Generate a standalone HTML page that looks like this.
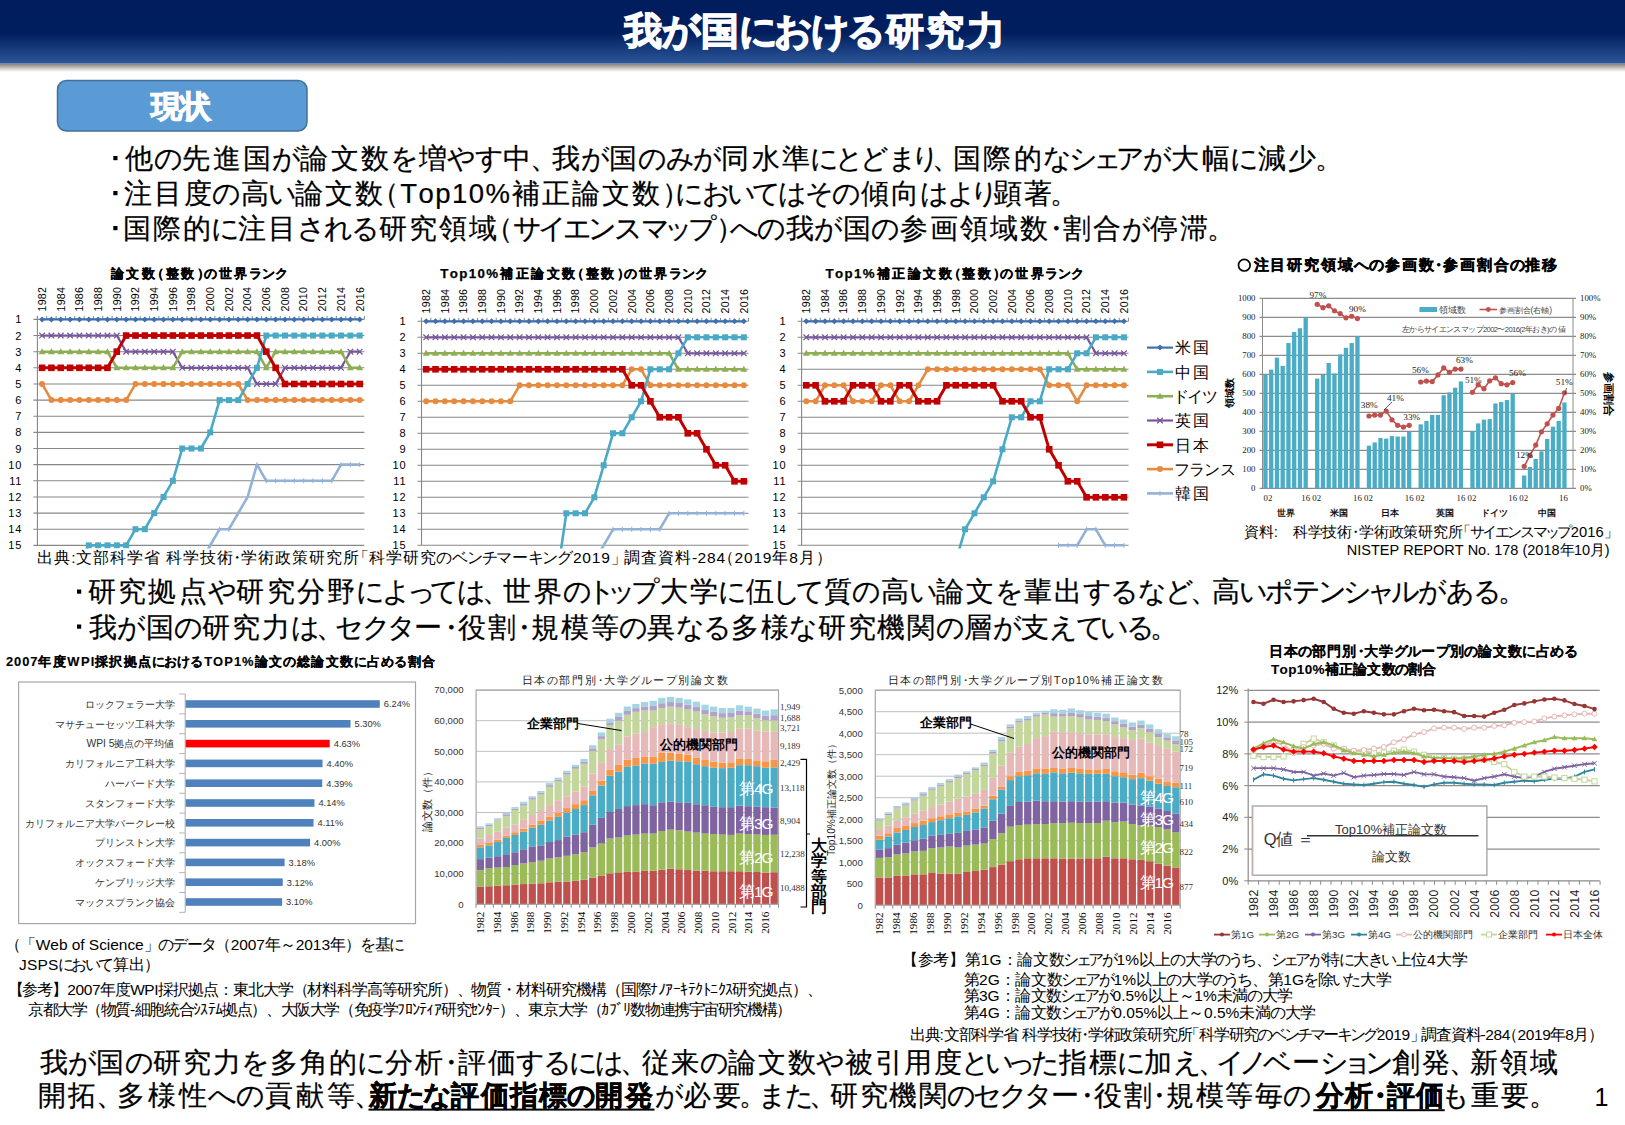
<!DOCTYPE html>
<html><head><meta charset="utf-8"><title>我が国における研究力</title>
<style>html,body{margin:0;padding:0;background:#fff;overflow:hidden}svg{display:block;font-family:'Liberation Sans', sans-serif}</style></head>
<body><svg width="1625" height="1125" viewBox="0 0 1625 1125">
<defs>
<linearGradient id="hdr" x1="0" y1="0" x2="0" y2="1">
<stop offset="0" stop-color="#001c5c"/><stop offset="0.52" stop-color="#001e5e"/><stop offset="1" stop-color="#2c579a"/>
</linearGradient>
<linearGradient id="shd" x1="0" y1="0" x2="0" y2="1">
<stop offset="0" stop-color="#7d7872"/><stop offset="0.5" stop-color="#c4c2c0"/><stop offset="1" stop-color="#ffffff"/>
</linearGradient>
<clipPath id="clipr1"><rect x="0" y="300" width="1625" height="247"/></clipPath>
</defs>
<rect x="0" y="63.5" width="1625" height="8.5" fill="url(#shd)"/>
<rect x="0" y="0" width="1625" height="63.5" fill="url(#hdr)"/>
<rect x="57.5" y="80.5" width="249.5" height="50.5" rx="9" fill="#5b9bd5" stroke="#41719c" stroke-width="1.5"/>
<rect x="113.3" y="156" width="4.2" height="4.2" fill="#000"/>
<rect x="113.3" y="191" width="4.2" height="4.2" fill="#000"/>
<rect x="113.3" y="226" width="4.2" height="4.2" fill="#000"/>
<rect x="77" y="589.5" width="4.2" height="4.2" fill="#000"/>
<rect x="77" y="624.5" width="4.2" height="4.2" fill="#000"/>
<text x="623.5 662.24 700.71 738.5 774 810.57 847.15 885.62 926.26 966.9" y="43.82" font-size="38" font-weight="bold" fill="#ffffff" stroke="#ffffff" stroke-width="1.3">我が国における研究力</text>
<text x="151 180.1" y="116.73" font-size="31.3" font-weight="bold" fill="#ffffff" stroke="#ffffff" stroke-width="1.1">現状</text>
<text x="124.7 153.62 182.25 212.55 242.84 271.76 300.39 330.68 360.98 389.89 418.53 447.45 474.71 503.35 530.34 551.82 580.73 609.37 638.29 665.55 692.81 721.45 751.74 782.03 810.26 835.05 860.33 887.59 911 931.71 953.18 983.47 1013.77 1042.68 1069.26 1092.94 1116.21 1142.65 1171.28 1201.58 1229.81 1257.62 1287.91 1314.9" y="167.95" font-size="27.5" stroke="#000" stroke-width="0.22">他の先進国が論文数を増やす中、我が国のみが同水準にとどまり、国際的なシェアが大幅に減少。</text>
<text x="123.7 153.76 183.81 212.49 240.92 268.23 295.02 325.08 355.13 371.44 400.22 418.58 435.29 452.01 468.72 485.44 512.16 542.22 572.28 602.33 632.39 662.45 675.41 701.65 727.32 752.05 778.29 805.34 832.39 860.82 890.87 919.55 946.6 969.8 993.66 1023.72 1050.48" y="202.95" font-size="27.5" stroke="#000" stroke-width="0.22">注目度の高い論文数（Top10%補正論文数）においてはその傾向はより顕著。</text>
<text x="122.7 152.68 182.65 210.57 238.11 268.08 296.68 323.66 350.64 378.99 408.97 438.95 468.92 485.15 512.51 538.11 562.78 588.26 614.43 640.72 664.14 687.87 716.22 730.11 757.41 785.77 814.37 842.72 871.32 899.67 929.65 959.63 989.6 1019.58 1041.99 1063.04 1093.02 1121.62 1149.97 1179.95 1206.62" y="238.05" font-size="27.5" stroke="#000" stroke-width="0.22">国際的に注目される研究領域（サイエンスマップ）への我が国の参画領域数・割合が停滞。</text>
<text x="87.8 118.14 148.48 178.82 207.78 236.46 266.8 297.14 327.48 355.76 382.23 406.79 430.09 456.56 481.94 503.45 533.78 562.75 586.62 607.02 631.01 659.69 690.03 718.31 746.16 772.37 795.67 823.52 852.49 881.17 908.76 935.78 966.12 995.08 1023.76 1054.1 1083.06 1110.37 1137.67 1164.98 1190.36 1211.86 1239.45 1265.1 1291.71 1317.5 1343.29 1367.02 1391 1418.31 1445.61 1472.92 1498.3" y="601.45" font-size="27.5" stroke="#000" stroke-width="0.22">研究拠点や研究分野によっては、世界のトップ大学に伍して質の高い論文を輩出するなど、高いポテンシャルがある。</text>
<text x="88.8 117.3 145.56 174.06 202.32 232.19 262.06 290.56 315.52 335.37 361.57 386.96 414.42 436.73 457.73 487.61 509.92 530.92 560.79 590.67 619.17 647.43 675.92 702.81 731.07 760.94 789.44 817.7 847.58 877.45 907.32 935.82 964.08 992.58 1020.84 1049.34 1075.54 1100.24 1125.51 1150.47" y="636.65" font-size="27.5" stroke="#000" stroke-width="0.22">我が国の研究力は、セクター・役割・規模等の異なる多様な研究機関の層が支えている。</text>
<text x="39.6 68.1 96.36 124.86 153.12 182.99 212.87 241.37 269.63 299.5 329.37 357.19 384.64 414.51 436.83 457.83 487.71 516.2 543.09 569.29 595.37 620.33 641.55 671.43 699.93 728.19 758.06 787.94 816.43 844.7 874.57 904.44 934.32 961.17 984.74 1007.27 1030.93 1059.19 1089.06 1116.87 1144.33 1172.83 1197.79 1216.26 1238.79 1263.14 1292.2 1320.02 1342.66 1364.83 1392.28 1422.15 1448.73 1469.95 1499.83 1529.7" y="1072.45" font-size="27.5" stroke="#000" stroke-width="0.22">我が国の研究力を多角的に分析・評価するには、従来の論文数や被引用度といった指標に加え、イノベーション創発、新領域</text>
<text x="110.8 126.44 142.08 151.07 165.54 181.19 196.83 203.98 218.72 234.37 248.68 261.52 274.82" y="278.11" font-size="13.3" font-weight="bold" stroke="#000" stroke-width="0.25">論文数（整数）の世界ランク</text>
<text x="440.2 449.73 459.26 468.79 477.47 486.14 500.01 515.62 531.22 546.82 562.42 571.37 585.82 601.42 617.02 624.16 638.86 654.46 668.74 681.55 694.81" y="278.11" font-size="13.3" font-weight="bold" stroke="#000" stroke-width="0.25">Top10%補正論文数（整数）の世界ランク</text>
<text x="825.6 835.1 844.6 854.09 862.74 876.57 892.12 907.67 923.22 938.76 947.66 962.09 977.64 993.19 1000.3 1014.96 1030.5 1044.72 1057.5 1070.71" y="278.11" font-size="13.3" font-weight="bold" stroke="#000" stroke-width="0.25">Top1%補正論文数（整数）の世界ランク</text>
<text x="1253.5 1270.32 1287.14 1303.96 1320.78 1337.6 1353.81 1369.13 1385.03 1401.85 1418.67 1431.29 1443.06 1459.88 1476.7 1493.52 1509.58 1525.48 1542.3" y="270.29" font-size="15.3" font-weight="bold" stroke="#000" stroke-width="0.35">注目研究領域への参画数・参画割合の推移</text>
<text x="37.2 54.2 71.21 75.93 92.93 109.93 126.94 143.94 160.94 165.67 182.67 199.67 216.67 229.41 241.33 258.33 275.33 292.33 309.34 326.34 343.34 352.59 368.85 385.85 402.85 419.85 436.08 451.77 467.15 481.6 496.05 511.67 527.51 541.96 556.8 572.88 582.33 591.79 601.24 610.7 619.2 623.92 640.93 657.93 674.93 691.93 697.6 707.05 716.51 718.21 734.47 743.92 753.38 762.83 772.29 789.29 798.75 815.75" y="563.09" font-size="15.5">出典:文部科学省 科学技術・学術政策研究所「科学研究のベンチマーキング2019」 調査資料-284（2019年8月）</text>
<text x="1244 1258.87 1273.73 1277.86 1292.73 1307.59 1322.46 1337.32 1348.14 1358.88 1373.74 1388.61 1403.47 1418.34 1433.2 1448.07 1455.58 1469.63 1482.27 1494.53 1507.17 1520.17 1533.18 1544.72 1556.59 1570.71 1578.97 1587.24 1595.51 1603.78" y="537.17" font-size="14.7">資料:　科学技術・学術政策研究所「サイエンスマップ2016」</text>
<text x="1346.8 1357.27 1361.3 1370.97 1379.83 1389.5 1399.17 1403.2 1413.67 1423.34 1433.01 1444.29 1454.76 1463.62 1467.65 1478.12 1486.19 1490.21 1494.24 1502.31 1510.37 1518.44 1522.46 1527.29 1535.36 1543.42 1551.49 1559.55 1574.05 1582.11 1590.18 1604.68" y="554.61" font-size="14.5">NISTEP REPORT No. 178 (2018年10月)</text>
<text x="6 14.07 22.13 30.2 38.26 52.76 67.27 80.95 90.63 94.65 109.16 123.66 138.16 151.7 164.34 177.4 190.45 204.14 213 224.28 233.96 242.02 254.92 269.42 283.27 296.97 311.47 325.98 340.48 354.01 367.31 381.16 394.22 407.91 422.41" y="666.19" font-size="12.9" font-weight="bold" stroke="#000" stroke-width="0.15">2007年度WPI採択拠点におけるTOP1%論文の総論文数に占める割合</text>
<text x="521.5 534.49 546.94 559.18 572.17 585.17 595.14 604.01 617 629.44 641.14 653.38 665.83 678.07 691.06 704.06 717.05" y="683.78" font-size="11" fill="#222">日本の部門別・大学グループ別論文数</text>
<text x="887.6 900.33 912.52 924.53 937.26 949.99 959.7 968.45 981.19 993.37 1004.83 1016.84 1029.02 1041.03 1053.76 1061.54 1068.62 1075.7 1082.79 1089.87 1101.19 1113.92 1126.65 1139.39 1152.12" y="683.58" font-size="11" fill="#222">日本の部門別・大学グループ別Top10%補正論文数</text>
<text x="1269 1284 1298.32 1312.49 1327.49 1342.49 1353.77 1364.23 1379.23 1393.55 1407.05 1421.22 1435.55 1449.72 1464.04 1478.21 1493.21 1508.21 1522.19 1535.95 1550.28 1563.78" y="655.66" font-size="13.5" font-weight="bold" stroke="#000" stroke-width="0.12">日本の部門別・大学グループ別の論文数に占める</text>
<text x="1271 1279.62 1288.23 1296.85 1304.69 1312.54 1325.08 1339.19 1353.29 1367.4 1381.5 1394.93 1408.3 1422.41" y="674.26" font-size="13.5" font-weight="bold" stroke="#000" stroke-width="0.12">Top10%補正論文数の割合</text>
<text x="5 20.4 35.8 50.34 58.9 67.46 71.74 80.31 84.59 88.87 99.14 106.84 110.26 118.82 127.39 135.09 143.65 158.28 172.14 186.77 201.01 215.26 230.66 239.23 247.79 256.36 264.92 280.32 295.72 304.29 312.85 321.42 329.98 345.38 360.01 374.64 388.88" y="949.59" font-size="15.5">（「Web of Science」のデータ（2007年～2013年）を基に</text>
<text x="19 26.94 37.53 48.12 57.55 71.44 84.95 98.05 112.71 128.59 144.47" y="969.59" font-size="15.5">JSPSにおいて算出）</text>
<text x="7.5 22.41 37.32 52.24 67.15 75.44 83.74 92.03 100.32 115.24 130.15 144.22 154.17 158.31 173.23 188.14 203.05 217.96 232.88 247.79 262.7 277.61 292.53 307.44 322.35 337.26 352.18 367.09 382 396.91 411.83 426.74 441.65 456.56 471.48 486.39 501.3 516.21 531.13 546.04 560.95 575.86 590.78 605.69 620.6 635.51 650.43 657.88 665.34 672.79 680.25 687.71 695.16 702.62 710.07 717.53 724.99 732.44 747.36 762.27 777.18 792.09 807.01" y="994.59" font-size="15.5">【参考】2007年度WPI採択拠点：東北大学（材料科学高等研究所）、物質・材料研究機構（国際ﾅﾉｱｰｷﾃｸﾄﾆｸｽ研究拠点）、</text>
<text x="28 42.57 57.15 71.72 86.3 100.87 115.45 130.02 134.88 149.45 164.03 178.6 193.17 200.46 207.75 215.04 222.32 236.9 251.47 266.05 280.62 295.2 309.77 324.35 338.92 353.5 368.07 382.65 397.22 404.51 411.79 419.08 426.37 433.66 440.94 455.52 470.09 477.38 484.67 491.96 499.24 513.82 528.39 542.97 557.54 572.12 586.69 601.27 608.55 615.84 623.13 630.41 644.99 659.56 674.14 688.71 703.29 717.86 732.44 747.01 761.59 776.16" y="1014.59" font-size="15.5">京都大学（物質-細胞統合ｼｽﾃﾑ拠点）、大阪大学（免疫学ﾌﾛﾝﾃｨｱ研究ｾﾝﾀｰ）、東京大学（ｶﾌﾞﾘ数物連携宇宙研究機構）</text>
<text x="902 917.73 933.46 949.19 964.92 980.64 989.39 1001.63 1017.36 1033.09 1048.81 1063.38 1075.59 1087.76 1101.52 1116.45 1125.2 1139.18 1154.91 1169.87 1184.8 1200.53 1215.48 1228.47 1241.43 1256.36 1270.93 1283.14 1295.31 1309.07 1324 1338.56 1353.1 1368.05 1381.43 1395.56 1411.29 1427.02 1435.77 1451.5" y="964.59" font-size="15.5">【参考】第1G：論文数シェアが1%以上の大学のうち、シェアが特に大きい上位4大学</text>
<text x="963.5 979.08 987.74 999.85 1015.43 1031 1046.58 1060.99 1073.07 1085.14 1098.76 1113.55 1122.22 1136.07 1151.64 1166.44 1181.24 1196.81 1211.61 1224.47 1237.31 1252.1 1267.68 1283.26 1291.92 1303.26 1318.05 1332.08 1345.31 1360.11 1375.68" y="984.59" font-size="15.5">第2G：論文数シェアが1%以上の大学のうち、第1Gを除いた大学</text>
<text x="963.5 978.98 987.58 999.62 1015.09 1030.57 1046.05 1060.36 1072.35 1084.34 1097.89 1112.59 1121.2 1125.5 1134.1 1147.86 1163.34 1178.81 1194.29 1202.89 1216.65 1232.13 1246.83 1261.53 1277.01" y="1001.09" font-size="15.5">第3G：論文数シェアが0.5%以上～1%未満の大学</text>
<text x="963.5 979.05 987.69 999.78 1015.33 1030.88 1046.42 1060.81 1072.86 1084.9 1098.51 1113.27 1121.92 1126.24 1134.88 1143.53 1157.35 1172.9 1188.44 1203.99 1212.64 1216.96 1225.6 1239.43 1254.97 1269.74 1284.51 1300.06" y="1018.09" font-size="15.5">第4G：論文数シェアが0.05%以上～0.5%未満の大学</text>
<text x="910 924.81 939.62 943.74 958.55 973.36 988.18 1002.99 1017.8 1021.92 1036.73 1051.54 1066.35 1076.9 1087.83 1102.64 1117.45 1132.27 1147.08 1161.89 1176.7 1183.76 1198.92 1213.73 1228.54 1243.36 1257.39 1271.11 1284.41 1297 1309.59 1323.34 1336.99 1349.58 1362.56 1376.66 1384.9 1393.14 1401.38 1409.62 1417.02 1421.14 1435.95 1450.76 1465.57 1480.39 1485.32 1493.56 1501.79 1502.28 1517.44 1525.67 1533.91 1542.15 1550.39 1565.2 1573.44 1588.25" y="1039.59" font-size="15.5">出典:文部科学省 科学技術・学術政策研究所「科学研究のベンチマーキング2019」 調査資料-284（2019年8月）</text>
<text x="37.6 68.3 95.69 117.41 148.1 178.8 208.4 236.36 265.36 296.06 326.75 354.15" y="1105.15" font-size="27.5" stroke="#000" stroke-width="0.22">開拓、多様性への貢献等、</text>
<text x="368.9 396.92 423.38 451.21 480.61 510 539.4 567.42 595.25 624.65" y="1105.42" font-size="27.5" font-weight="bold" stroke="#000" stroke-width="0.45">新たな評価指標の開発</text>
<text x="655.23 683.12 712.58 738.74 758.34 784.86 809.45 830.43 859.89 889.35 918.82 946.9 973.42 999.25 1024.29 1051.4 1073.3 1094.12 1123.58 1145.48 1166.3 1195.76 1225.23 1254.69 1282.77" y="1105.15" font-size="27.5" stroke="#000" stroke-width="0.22">が必要。また、研究機関のセクター・役割・規模等毎の</text>
<text x="1315.5 1344.68 1366.3 1386.99 1416.17" y="1105.42" font-size="27.5" font-weight="bold" stroke="#000" stroke-width="0.45">分析・評価</text>
<text x="1441.42 1470.53 1501.34 1528.85" y="1105.15" font-size="27.5" stroke="#000" stroke-width="0.22">も重要。</text>
<rect x="368.5" y="1108.6" width="286" height="2" fill="#000"/>
<rect x="1313.3" y="1109.2" width="131.4" height="2" fill="#000"/>
<text x="1594.5" y="1105.5" font-size="25">1</text>
<g>
<path d="M33.4 319.4H364.4" stroke="#878787" stroke-width="1.1"/>
<text x="22.4" y="323.4" font-size="11" text-anchor="end" letter-spacing="0.9">1</text>
<path d="M33.4 335.54H364.4" stroke="#878787" stroke-width="1.1"/>
<text x="22.4" y="339.54" font-size="11" text-anchor="end" letter-spacing="0.9">2</text>
<path d="M33.4 351.68H364.4" stroke="#878787" stroke-width="1.1"/>
<text x="22.4" y="355.68" font-size="11" text-anchor="end" letter-spacing="0.9">3</text>
<path d="M33.4 367.82H364.4" stroke="#878787" stroke-width="1.1"/>
<text x="22.4" y="371.82" font-size="11" text-anchor="end" letter-spacing="0.9">4</text>
<path d="M33.4 383.96H364.4" stroke="#878787" stroke-width="1.1"/>
<text x="22.4" y="387.96" font-size="11" text-anchor="end" letter-spacing="0.9">5</text>
<path d="M33.4 400.1H364.4" stroke="#878787" stroke-width="1.1"/>
<text x="22.4" y="404.1" font-size="11" text-anchor="end" letter-spacing="0.9">6</text>
<path d="M33.4 416.24H364.4" stroke="#878787" stroke-width="1.1"/>
<text x="22.4" y="420.24" font-size="11" text-anchor="end" letter-spacing="0.9">7</text>
<path d="M33.4 432.38H364.4" stroke="#878787" stroke-width="1.1"/>
<text x="22.4" y="436.38" font-size="11" text-anchor="end" letter-spacing="0.9">8</text>
<path d="M33.4 448.52H364.4" stroke="#878787" stroke-width="1.1"/>
<text x="22.4" y="452.52" font-size="11" text-anchor="end" letter-spacing="0.9">9</text>
<path d="M33.4 464.66H364.4" stroke="#878787" stroke-width="1.1"/>
<text x="22.4" y="468.66" font-size="11" text-anchor="end" letter-spacing="0.9">10</text>
<path d="M33.4 480.8H364.4" stroke="#878787" stroke-width="1.1"/>
<text x="22.4" y="484.8" font-size="11" text-anchor="end" letter-spacing="0.9">11</text>
<path d="M33.4 496.94H364.4" stroke="#878787" stroke-width="1.1"/>
<text x="22.4" y="500.94" font-size="11" text-anchor="end" letter-spacing="0.9">12</text>
<path d="M33.4 513.08H364.4" stroke="#878787" stroke-width="1.1"/>
<text x="22.4" y="517.08" font-size="11" text-anchor="end" letter-spacing="0.9">13</text>
<path d="M33.4 529.22H364.4" stroke="#878787" stroke-width="1.1"/>
<text x="22.4" y="533.22" font-size="11" text-anchor="end" letter-spacing="0.9">14</text>
<path d="M33.4 545.36H364.4" stroke="#878787" stroke-width="1.1"/>
<text x="22.4" y="549.36" font-size="11" text-anchor="end" letter-spacing="0.9">15</text>
<path d="M37.4 315.9V545.36" stroke="#878787" stroke-width="1.1"/>
<path d="M37.4 315.9V319.4M46.74 315.9V319.4M56.09 315.9V319.4M65.43 315.9V319.4M74.77 315.9V319.4M84.11 315.9V319.4M93.46 315.9V319.4M102.8 315.9V319.4M112.14 315.9V319.4M121.49 315.9V319.4M130.83 315.9V319.4M140.17 315.9V319.4M149.51 315.9V319.4M158.86 315.9V319.4M168.2 315.9V319.4M177.54 315.9V319.4M186.89 315.9V319.4M196.23 315.9V319.4M205.57 315.9V319.4M214.91 315.9V319.4M224.26 315.9V319.4M233.6 315.9V319.4M242.94 315.9V319.4M252.29 315.9V319.4M261.63 315.9V319.4M270.97 315.9V319.4M280.31 315.9V319.4M289.66 315.9V319.4M299 315.9V319.4M308.34 315.9V319.4M317.69 315.9V319.4M327.03 315.9V319.4M336.37 315.9V319.4M345.71 315.9V319.4M355.06 315.9V319.4M364.4 315.9V319.4" stroke="#878787" stroke-width="1"/>
<text transform="translate(45.87 311.5) rotate(-90)" font-size="10.6" letter-spacing="0.25">1982</text>
<text transform="translate(64.56 311.5) rotate(-90)" font-size="10.6" letter-spacing="0.25">1984</text>
<text transform="translate(83.24 311.5) rotate(-90)" font-size="10.6" letter-spacing="0.25">1986</text>
<text transform="translate(101.93 311.5) rotate(-90)" font-size="10.6" letter-spacing="0.25">1988</text>
<text transform="translate(120.61 311.5) rotate(-90)" font-size="10.6" letter-spacing="0.25">1990</text>
<text transform="translate(139.3 311.5) rotate(-90)" font-size="10.6" letter-spacing="0.25">1992</text>
<text transform="translate(157.99 311.5) rotate(-90)" font-size="10.6" letter-spacing="0.25">1994</text>
<text transform="translate(176.67 311.5) rotate(-90)" font-size="10.6" letter-spacing="0.25">1996</text>
<text transform="translate(195.36 311.5) rotate(-90)" font-size="10.6" letter-spacing="0.25">1998</text>
<text transform="translate(214.04 311.5) rotate(-90)" font-size="10.6" letter-spacing="0.25">2000</text>
<text transform="translate(232.73 311.5) rotate(-90)" font-size="10.6" letter-spacing="0.25">2002</text>
<text transform="translate(251.41 311.5) rotate(-90)" font-size="10.6" letter-spacing="0.25">2004</text>
<text transform="translate(270.1 311.5) rotate(-90)" font-size="10.6" letter-spacing="0.25">2006</text>
<text transform="translate(288.79 311.5) rotate(-90)" font-size="10.6" letter-spacing="0.25">2008</text>
<text transform="translate(307.47 311.5) rotate(-90)" font-size="10.6" letter-spacing="0.25">2010</text>
<text transform="translate(326.16 311.5) rotate(-90)" font-size="10.6" letter-spacing="0.25">2012</text>
<text transform="translate(344.84 311.5) rotate(-90)" font-size="10.6" letter-spacing="0.25">2014</text>
<text transform="translate(363.53 311.5) rotate(-90)" font-size="10.6" letter-spacing="0.25">2016</text>
<clipPath id="cr1"><rect x="31.4" y="300" width="339" height="248.56"/></clipPath>
<g clip-path="url(#cr1)">
<path d="M200.9 561.5L210.24 545.36L219.59 529.22L228.93 529.22L238.27 513.08L247.61 496.94L256.96 464.66L266.3 480.8L275.64 480.8L284.99 480.8L294.33 480.8L303.67 480.8L313.01 480.8L322.36 480.8L331.7 480.8L341.04 464.66L350.39 464.66L359.73 464.66" fill="none" stroke="#93b1d6" stroke-width="2.6" stroke-linejoin="round"/>
<path d="M200.9 559V564" stroke="#93b1d6" stroke-width="1"/><path d="M210.24 542.86V547.86" stroke="#93b1d6" stroke-width="1"/><path d="M219.59 526.72V531.72" stroke="#93b1d6" stroke-width="1"/><path d="M228.93 526.72V531.72" stroke="#93b1d6" stroke-width="1"/><path d="M238.27 510.58V515.58" stroke="#93b1d6" stroke-width="1"/><path d="M247.61 494.44V499.44" stroke="#93b1d6" stroke-width="1"/><path d="M256.96 462.16V467.16" stroke="#93b1d6" stroke-width="1"/><path d="M266.3 478.3V483.3" stroke="#93b1d6" stroke-width="1"/><path d="M275.64 478.3V483.3" stroke="#93b1d6" stroke-width="1"/><path d="M284.99 478.3V483.3" stroke="#93b1d6" stroke-width="1"/><path d="M294.33 478.3V483.3" stroke="#93b1d6" stroke-width="1"/><path d="M303.67 478.3V483.3" stroke="#93b1d6" stroke-width="1"/><path d="M313.01 478.3V483.3" stroke="#93b1d6" stroke-width="1"/><path d="M322.36 478.3V483.3" stroke="#93b1d6" stroke-width="1"/><path d="M331.7 478.3V483.3" stroke="#93b1d6" stroke-width="1"/><path d="M341.04 462.16V467.16" stroke="#93b1d6" stroke-width="1"/><path d="M350.39 462.16V467.16" stroke="#93b1d6" stroke-width="1"/><path d="M359.73 462.16V467.16" stroke="#93b1d6" stroke-width="1"/>
<path d="M42.07 383.96L51.41 400.1L60.76 400.1L70.1 400.1L79.44 400.1L88.79 400.1L98.13 400.1L107.47 400.1L116.81 400.1L126.16 400.1L135.5 383.96L144.84 383.96L154.19 383.96L163.53 383.96L172.87 383.96L182.21 383.96L191.56 383.96L200.9 383.96L210.24 383.96L219.59 383.96L228.93 383.96L238.27 383.96L247.61 400.1L256.96 400.1L266.3 400.1L275.64 400.1L284.99 400.1L294.33 400.1L303.67 400.1L313.01 400.1L322.36 400.1L331.7 400.1L341.04 400.1L350.39 400.1L359.73 400.1" fill="none" stroke="#e68a40" stroke-width="2.6" stroke-linejoin="round"/>
<circle cx="42.07" cy="383.96" r="3" fill="#e68a40"/><circle cx="51.41" cy="400.1" r="3" fill="#e68a40"/><circle cx="60.76" cy="400.1" r="3" fill="#e68a40"/><circle cx="70.1" cy="400.1" r="3" fill="#e68a40"/><circle cx="79.44" cy="400.1" r="3" fill="#e68a40"/><circle cx="88.79" cy="400.1" r="3" fill="#e68a40"/><circle cx="98.13" cy="400.1" r="3" fill="#e68a40"/><circle cx="107.47" cy="400.1" r="3" fill="#e68a40"/><circle cx="116.81" cy="400.1" r="3" fill="#e68a40"/><circle cx="126.16" cy="400.1" r="3" fill="#e68a40"/><circle cx="135.5" cy="383.96" r="3" fill="#e68a40"/><circle cx="144.84" cy="383.96" r="3" fill="#e68a40"/><circle cx="154.19" cy="383.96" r="3" fill="#e68a40"/><circle cx="163.53" cy="383.96" r="3" fill="#e68a40"/><circle cx="172.87" cy="383.96" r="3" fill="#e68a40"/><circle cx="182.21" cy="383.96" r="3" fill="#e68a40"/><circle cx="191.56" cy="383.96" r="3" fill="#e68a40"/><circle cx="200.9" cy="383.96" r="3" fill="#e68a40"/><circle cx="210.24" cy="383.96" r="3" fill="#e68a40"/><circle cx="219.59" cy="383.96" r="3" fill="#e68a40"/><circle cx="228.93" cy="383.96" r="3" fill="#e68a40"/><circle cx="238.27" cy="383.96" r="3" fill="#e68a40"/><circle cx="247.61" cy="400.1" r="3" fill="#e68a40"/><circle cx="256.96" cy="400.1" r="3" fill="#e68a40"/><circle cx="266.3" cy="400.1" r="3" fill="#e68a40"/><circle cx="275.64" cy="400.1" r="3" fill="#e68a40"/><circle cx="284.99" cy="400.1" r="3" fill="#e68a40"/><circle cx="294.33" cy="400.1" r="3" fill="#e68a40"/><circle cx="303.67" cy="400.1" r="3" fill="#e68a40"/><circle cx="313.01" cy="400.1" r="3" fill="#e68a40"/><circle cx="322.36" cy="400.1" r="3" fill="#e68a40"/><circle cx="331.7" cy="400.1" r="3" fill="#e68a40"/><circle cx="341.04" cy="400.1" r="3" fill="#e68a40"/><circle cx="350.39" cy="400.1" r="3" fill="#e68a40"/><circle cx="359.73" cy="400.1" r="3" fill="#e68a40"/>
<path d="M42.07 335.54L51.41 335.54L60.76 335.54L70.1 335.54L79.44 335.54L88.79 335.54L98.13 335.54L107.47 335.54L116.81 335.54L126.16 351.68L135.5 351.68L144.84 351.68L154.19 351.68L163.53 351.68L172.87 351.68L182.21 367.82L191.56 367.82L200.9 367.82L210.24 367.82L219.59 367.82L228.93 367.82L238.27 367.82L247.61 367.82L256.96 383.96L266.3 383.96L275.64 383.96L284.99 367.82L294.33 367.82L303.67 367.82L313.01 367.82L322.36 367.82L331.7 367.82L341.04 367.82L350.39 351.68L359.73 351.68" fill="none" stroke="#77599b" stroke-width="2.2" stroke-linejoin="round"/>
<path d="M39.27 332.74L44.87 338.34M44.87 332.74L39.27 338.34" stroke="#77599b" stroke-width="1.3"/><path d="M48.61 332.74L54.21 338.34M54.21 332.74L48.61 338.34" stroke="#77599b" stroke-width="1.3"/><path d="M57.96 332.74L63.56 338.34M63.56 332.74L57.96 338.34" stroke="#77599b" stroke-width="1.3"/><path d="M67.3 332.74L72.9 338.34M72.9 332.74L67.3 338.34" stroke="#77599b" stroke-width="1.3"/><path d="M76.64 332.74L82.24 338.34M82.24 332.74L76.64 338.34" stroke="#77599b" stroke-width="1.3"/><path d="M85.99 332.74L91.59 338.34M91.59 332.74L85.99 338.34" stroke="#77599b" stroke-width="1.3"/><path d="M95.33 332.74L100.93 338.34M100.93 332.74L95.33 338.34" stroke="#77599b" stroke-width="1.3"/><path d="M104.67 332.74L110.27 338.34M110.27 332.74L104.67 338.34" stroke="#77599b" stroke-width="1.3"/><path d="M114.01 332.74L119.61 338.34M119.61 332.74L114.01 338.34" stroke="#77599b" stroke-width="1.3"/><path d="M123.36 348.88L128.96 354.48M128.96 348.88L123.36 354.48" stroke="#77599b" stroke-width="1.3"/><path d="M132.7 348.88L138.3 354.48M138.3 348.88L132.7 354.48" stroke="#77599b" stroke-width="1.3"/><path d="M142.04 348.88L147.64 354.48M147.64 348.88L142.04 354.48" stroke="#77599b" stroke-width="1.3"/><path d="M151.39 348.88L156.99 354.48M156.99 348.88L151.39 354.48" stroke="#77599b" stroke-width="1.3"/><path d="M160.73 348.88L166.33 354.48M166.33 348.88L160.73 354.48" stroke="#77599b" stroke-width="1.3"/><path d="M170.07 348.88L175.67 354.48M175.67 348.88L170.07 354.48" stroke="#77599b" stroke-width="1.3"/><path d="M179.41 365.02L185.01 370.62M185.01 365.02L179.41 370.62" stroke="#77599b" stroke-width="1.3"/><path d="M188.76 365.02L194.36 370.62M194.36 365.02L188.76 370.62" stroke="#77599b" stroke-width="1.3"/><path d="M198.1 365.02L203.7 370.62M203.7 365.02L198.1 370.62" stroke="#77599b" stroke-width="1.3"/><path d="M207.44 365.02L213.04 370.62M213.04 365.02L207.44 370.62" stroke="#77599b" stroke-width="1.3"/><path d="M216.79 365.02L222.39 370.62M222.39 365.02L216.79 370.62" stroke="#77599b" stroke-width="1.3"/><path d="M226.13 365.02L231.73 370.62M231.73 365.02L226.13 370.62" stroke="#77599b" stroke-width="1.3"/><path d="M235.47 365.02L241.07 370.62M241.07 365.02L235.47 370.62" stroke="#77599b" stroke-width="1.3"/><path d="M244.81 365.02L250.41 370.62M250.41 365.02L244.81 370.62" stroke="#77599b" stroke-width="1.3"/><path d="M254.16 381.16L259.76 386.76M259.76 381.16L254.16 386.76" stroke="#77599b" stroke-width="1.3"/><path d="M263.5 381.16L269.1 386.76M269.1 381.16L263.5 386.76" stroke="#77599b" stroke-width="1.3"/><path d="M272.84 381.16L278.44 386.76M278.44 381.16L272.84 386.76" stroke="#77599b" stroke-width="1.3"/><path d="M282.19 365.02L287.79 370.62M287.79 365.02L282.19 370.62" stroke="#77599b" stroke-width="1.3"/><path d="M291.53 365.02L297.13 370.62M297.13 365.02L291.53 370.62" stroke="#77599b" stroke-width="1.3"/><path d="M300.87 365.02L306.47 370.62M306.47 365.02L300.87 370.62" stroke="#77599b" stroke-width="1.3"/><path d="M310.21 365.02L315.81 370.62M315.81 365.02L310.21 370.62" stroke="#77599b" stroke-width="1.3"/><path d="M319.56 365.02L325.16 370.62M325.16 365.02L319.56 370.62" stroke="#77599b" stroke-width="1.3"/><path d="M328.9 365.02L334.5 370.62M334.5 365.02L328.9 370.62" stroke="#77599b" stroke-width="1.3"/><path d="M338.24 365.02L343.84 370.62M343.84 365.02L338.24 370.62" stroke="#77599b" stroke-width="1.3"/><path d="M347.59 348.88L353.19 354.48M353.19 348.88L347.59 354.48" stroke="#77599b" stroke-width="1.3"/><path d="M356.93 348.88L362.53 354.48M362.53 348.88L356.93 354.48" stroke="#77599b" stroke-width="1.3"/>
<path d="M42.07 351.68L51.41 351.68L60.76 351.68L70.1 351.68L79.44 351.68L88.79 351.68L98.13 351.68L107.47 351.68L116.81 367.82L126.16 367.82L135.5 367.82L144.84 367.82L154.19 367.82L163.53 367.82L172.87 367.82L182.21 351.68L191.56 351.68L200.9 351.68L210.24 351.68L219.59 351.68L228.93 351.68L238.27 351.68L247.61 351.68L256.96 351.68L266.3 367.82L275.64 351.68L284.99 351.68L294.33 351.68L303.67 351.68L313.01 351.68L322.36 351.68L331.7 351.68L341.04 351.68L350.39 367.82L359.73 367.82" fill="none" stroke="#8dae52" stroke-width="2.6" stroke-linejoin="round"/>
<path d="M42.07 348.18L45.57 354.18L38.57 354.18Z" fill="#8dae52"/><path d="M51.41 348.18L54.91 354.18L47.91 354.18Z" fill="#8dae52"/><path d="M60.76 348.18L64.26 354.18L57.26 354.18Z" fill="#8dae52"/><path d="M70.1 348.18L73.6 354.18L66.6 354.18Z" fill="#8dae52"/><path d="M79.44 348.18L82.94 354.18L75.94 354.18Z" fill="#8dae52"/><path d="M88.79 348.18L92.29 354.18L85.29 354.18Z" fill="#8dae52"/><path d="M98.13 348.18L101.63 354.18L94.63 354.18Z" fill="#8dae52"/><path d="M107.47 348.18L110.97 354.18L103.97 354.18Z" fill="#8dae52"/><path d="M116.81 364.32L120.31 370.32L113.31 370.32Z" fill="#8dae52"/><path d="M126.16 364.32L129.66 370.32L122.66 370.32Z" fill="#8dae52"/><path d="M135.5 364.32L139 370.32L132 370.32Z" fill="#8dae52"/><path d="M144.84 364.32L148.34 370.32L141.34 370.32Z" fill="#8dae52"/><path d="M154.19 364.32L157.69 370.32L150.69 370.32Z" fill="#8dae52"/><path d="M163.53 364.32L167.03 370.32L160.03 370.32Z" fill="#8dae52"/><path d="M172.87 364.32L176.37 370.32L169.37 370.32Z" fill="#8dae52"/><path d="M182.21 348.18L185.71 354.18L178.71 354.18Z" fill="#8dae52"/><path d="M191.56 348.18L195.06 354.18L188.06 354.18Z" fill="#8dae52"/><path d="M200.9 348.18L204.4 354.18L197.4 354.18Z" fill="#8dae52"/><path d="M210.24 348.18L213.74 354.18L206.74 354.18Z" fill="#8dae52"/><path d="M219.59 348.18L223.09 354.18L216.09 354.18Z" fill="#8dae52"/><path d="M228.93 348.18L232.43 354.18L225.43 354.18Z" fill="#8dae52"/><path d="M238.27 348.18L241.77 354.18L234.77 354.18Z" fill="#8dae52"/><path d="M247.61 348.18L251.11 354.18L244.11 354.18Z" fill="#8dae52"/><path d="M256.96 348.18L260.46 354.18L253.46 354.18Z" fill="#8dae52"/><path d="M266.3 364.32L269.8 370.32L262.8 370.32Z" fill="#8dae52"/><path d="M275.64 348.18L279.14 354.18L272.14 354.18Z" fill="#8dae52"/><path d="M284.99 348.18L288.49 354.18L281.49 354.18Z" fill="#8dae52"/><path d="M294.33 348.18L297.83 354.18L290.83 354.18Z" fill="#8dae52"/><path d="M303.67 348.18L307.17 354.18L300.17 354.18Z" fill="#8dae52"/><path d="M313.01 348.18L316.51 354.18L309.51 354.18Z" fill="#8dae52"/><path d="M322.36 348.18L325.86 354.18L318.86 354.18Z" fill="#8dae52"/><path d="M331.7 348.18L335.2 354.18L328.2 354.18Z" fill="#8dae52"/><path d="M341.04 348.18L344.54 354.18L337.54 354.18Z" fill="#8dae52"/><path d="M350.39 364.32L353.89 370.32L346.89 370.32Z" fill="#8dae52"/><path d="M359.73 364.32L363.23 370.32L356.23 370.32Z" fill="#8dae52"/>
<path d="M79.44 561.5L88.79 545.36L98.13 545.36L107.47 545.36L116.81 545.36L126.16 545.36L135.5 529.22L144.84 529.22L154.19 513.08L163.53 496.94L172.87 480.8L182.21 448.52L191.56 448.52L200.9 448.52L210.24 432.38L219.59 400.1L228.93 400.1L238.27 400.1L247.61 383.96L256.96 367.82L266.3 335.54L275.64 335.54L284.99 335.54L294.33 335.54L303.67 335.54L313.01 335.54L322.36 335.54L331.7 335.54L341.04 335.54L350.39 335.54L359.73 335.54" fill="none" stroke="#4aaac6" stroke-width="2.6" stroke-linejoin="round"/>
<rect x="76.44" y="558.5" width="6" height="6" fill="#4aaac6"/><rect x="85.79" y="542.36" width="6" height="6" fill="#4aaac6"/><rect x="95.13" y="542.36" width="6" height="6" fill="#4aaac6"/><rect x="104.47" y="542.36" width="6" height="6" fill="#4aaac6"/><rect x="113.81" y="542.36" width="6" height="6" fill="#4aaac6"/><rect x="123.16" y="542.36" width="6" height="6" fill="#4aaac6"/><rect x="132.5" y="526.22" width="6" height="6" fill="#4aaac6"/><rect x="141.84" y="526.22" width="6" height="6" fill="#4aaac6"/><rect x="151.19" y="510.08" width="6" height="6" fill="#4aaac6"/><rect x="160.53" y="493.94" width="6" height="6" fill="#4aaac6"/><rect x="169.87" y="477.8" width="6" height="6" fill="#4aaac6"/><rect x="179.21" y="445.52" width="6" height="6" fill="#4aaac6"/><rect x="188.56" y="445.52" width="6" height="6" fill="#4aaac6"/><rect x="197.9" y="445.52" width="6" height="6" fill="#4aaac6"/><rect x="207.24" y="429.38" width="6" height="6" fill="#4aaac6"/><rect x="216.59" y="397.1" width="6" height="6" fill="#4aaac6"/><rect x="225.93" y="397.1" width="6" height="6" fill="#4aaac6"/><rect x="235.27" y="397.1" width="6" height="6" fill="#4aaac6"/><rect x="244.61" y="380.96" width="6" height="6" fill="#4aaac6"/><rect x="253.96" y="364.82" width="6" height="6" fill="#4aaac6"/><rect x="263.3" y="332.54" width="6" height="6" fill="#4aaac6"/><rect x="272.64" y="332.54" width="6" height="6" fill="#4aaac6"/><rect x="281.99" y="332.54" width="6" height="6" fill="#4aaac6"/><rect x="291.33" y="332.54" width="6" height="6" fill="#4aaac6"/><rect x="300.67" y="332.54" width="6" height="6" fill="#4aaac6"/><rect x="310.01" y="332.54" width="6" height="6" fill="#4aaac6"/><rect x="319.36" y="332.54" width="6" height="6" fill="#4aaac6"/><rect x="328.7" y="332.54" width="6" height="6" fill="#4aaac6"/><rect x="338.04" y="332.54" width="6" height="6" fill="#4aaac6"/><rect x="347.39" y="332.54" width="6" height="6" fill="#4aaac6"/><rect x="356.73" y="332.54" width="6" height="6" fill="#4aaac6"/>
<path d="M42.07 367.82L51.41 367.82L60.76 367.82L70.1 367.82L79.44 367.82L88.79 367.82L98.13 367.82L107.47 367.82L116.81 351.68L126.16 335.54L135.5 335.54L144.84 335.54L154.19 335.54L163.53 335.54L172.87 335.54L182.21 335.54L191.56 335.54L200.9 335.54L210.24 335.54L219.59 335.54L228.93 335.54L238.27 335.54L247.61 335.54L256.96 335.54L266.3 351.68L275.64 367.82L284.99 383.96L294.33 383.96L303.67 383.96L313.01 383.96L322.36 383.96L331.7 383.96L341.04 383.96L350.39 383.96L359.73 383.96" fill="none" stroke="#c00000" stroke-width="3.0" stroke-linejoin="round"/>
<rect x="38.77" y="364.52" width="6.6" height="6.6" fill="#c00000"/><rect x="48.11" y="364.52" width="6.6" height="6.6" fill="#c00000"/><rect x="57.46" y="364.52" width="6.6" height="6.6" fill="#c00000"/><rect x="66.8" y="364.52" width="6.6" height="6.6" fill="#c00000"/><rect x="76.14" y="364.52" width="6.6" height="6.6" fill="#c00000"/><rect x="85.49" y="364.52" width="6.6" height="6.6" fill="#c00000"/><rect x="94.83" y="364.52" width="6.6" height="6.6" fill="#c00000"/><rect x="104.17" y="364.52" width="6.6" height="6.6" fill="#c00000"/><rect x="113.51" y="348.38" width="6.6" height="6.6" fill="#c00000"/><rect x="122.86" y="332.24" width="6.6" height="6.6" fill="#c00000"/><rect x="132.2" y="332.24" width="6.6" height="6.6" fill="#c00000"/><rect x="141.54" y="332.24" width="6.6" height="6.6" fill="#c00000"/><rect x="150.89" y="332.24" width="6.6" height="6.6" fill="#c00000"/><rect x="160.23" y="332.24" width="6.6" height="6.6" fill="#c00000"/><rect x="169.57" y="332.24" width="6.6" height="6.6" fill="#c00000"/><rect x="178.91" y="332.24" width="6.6" height="6.6" fill="#c00000"/><rect x="188.26" y="332.24" width="6.6" height="6.6" fill="#c00000"/><rect x="197.6" y="332.24" width="6.6" height="6.6" fill="#c00000"/><rect x="206.94" y="332.24" width="6.6" height="6.6" fill="#c00000"/><rect x="216.29" y="332.24" width="6.6" height="6.6" fill="#c00000"/><rect x="225.63" y="332.24" width="6.6" height="6.6" fill="#c00000"/><rect x="234.97" y="332.24" width="6.6" height="6.6" fill="#c00000"/><rect x="244.31" y="332.24" width="6.6" height="6.6" fill="#c00000"/><rect x="253.66" y="332.24" width="6.6" height="6.6" fill="#c00000"/><rect x="263" y="348.38" width="6.6" height="6.6" fill="#c00000"/><rect x="272.34" y="364.52" width="6.6" height="6.6" fill="#c00000"/><rect x="281.69" y="380.66" width="6.6" height="6.6" fill="#c00000"/><rect x="291.03" y="380.66" width="6.6" height="6.6" fill="#c00000"/><rect x="300.37" y="380.66" width="6.6" height="6.6" fill="#c00000"/><rect x="309.71" y="380.66" width="6.6" height="6.6" fill="#c00000"/><rect x="319.06" y="380.66" width="6.6" height="6.6" fill="#c00000"/><rect x="328.4" y="380.66" width="6.6" height="6.6" fill="#c00000"/><rect x="337.74" y="380.66" width="6.6" height="6.6" fill="#c00000"/><rect x="347.09" y="380.66" width="6.6" height="6.6" fill="#c00000"/><rect x="356.43" y="380.66" width="6.6" height="6.6" fill="#c00000"/>
<path d="M42.07 319.4L51.41 319.4L60.76 319.4L70.1 319.4L79.44 319.4L88.79 319.4L98.13 319.4L107.47 319.4L116.81 319.4L126.16 319.4L135.5 319.4L144.84 319.4L154.19 319.4L163.53 319.4L172.87 319.4L182.21 319.4L191.56 319.4L200.9 319.4L210.24 319.4L219.59 319.4L228.93 319.4L238.27 319.4L247.61 319.4L256.96 319.4L266.3 319.4L275.64 319.4L284.99 319.4L294.33 319.4L303.67 319.4L313.01 319.4L322.36 319.4L331.7 319.4L341.04 319.4L350.39 319.4L359.73 319.4" fill="none" stroke="#3f70ad" stroke-width="2.2" stroke-linejoin="round"/>
<path d="M42.07 316.4L45.07 319.4L42.07 322.4L39.07 319.4Z" fill="#3f70ad"/><path d="M51.41 316.4L54.41 319.4L51.41 322.4L48.41 319.4Z" fill="#3f70ad"/><path d="M60.76 316.4L63.76 319.4L60.76 322.4L57.76 319.4Z" fill="#3f70ad"/><path d="M70.1 316.4L73.1 319.4L70.1 322.4L67.1 319.4Z" fill="#3f70ad"/><path d="M79.44 316.4L82.44 319.4L79.44 322.4L76.44 319.4Z" fill="#3f70ad"/><path d="M88.79 316.4L91.79 319.4L88.79 322.4L85.79 319.4Z" fill="#3f70ad"/><path d="M98.13 316.4L101.13 319.4L98.13 322.4L95.13 319.4Z" fill="#3f70ad"/><path d="M107.47 316.4L110.47 319.4L107.47 322.4L104.47 319.4Z" fill="#3f70ad"/><path d="M116.81 316.4L119.81 319.4L116.81 322.4L113.81 319.4Z" fill="#3f70ad"/><path d="M126.16 316.4L129.16 319.4L126.16 322.4L123.16 319.4Z" fill="#3f70ad"/><path d="M135.5 316.4L138.5 319.4L135.5 322.4L132.5 319.4Z" fill="#3f70ad"/><path d="M144.84 316.4L147.84 319.4L144.84 322.4L141.84 319.4Z" fill="#3f70ad"/><path d="M154.19 316.4L157.19 319.4L154.19 322.4L151.19 319.4Z" fill="#3f70ad"/><path d="M163.53 316.4L166.53 319.4L163.53 322.4L160.53 319.4Z" fill="#3f70ad"/><path d="M172.87 316.4L175.87 319.4L172.87 322.4L169.87 319.4Z" fill="#3f70ad"/><path d="M182.21 316.4L185.21 319.4L182.21 322.4L179.21 319.4Z" fill="#3f70ad"/><path d="M191.56 316.4L194.56 319.4L191.56 322.4L188.56 319.4Z" fill="#3f70ad"/><path d="M200.9 316.4L203.9 319.4L200.9 322.4L197.9 319.4Z" fill="#3f70ad"/><path d="M210.24 316.4L213.24 319.4L210.24 322.4L207.24 319.4Z" fill="#3f70ad"/><path d="M219.59 316.4L222.59 319.4L219.59 322.4L216.59 319.4Z" fill="#3f70ad"/><path d="M228.93 316.4L231.93 319.4L228.93 322.4L225.93 319.4Z" fill="#3f70ad"/><path d="M238.27 316.4L241.27 319.4L238.27 322.4L235.27 319.4Z" fill="#3f70ad"/><path d="M247.61 316.4L250.61 319.4L247.61 322.4L244.61 319.4Z" fill="#3f70ad"/><path d="M256.96 316.4L259.96 319.4L256.96 322.4L253.96 319.4Z" fill="#3f70ad"/><path d="M266.3 316.4L269.3 319.4L266.3 322.4L263.3 319.4Z" fill="#3f70ad"/><path d="M275.64 316.4L278.64 319.4L275.64 322.4L272.64 319.4Z" fill="#3f70ad"/><path d="M284.99 316.4L287.99 319.4L284.99 322.4L281.99 319.4Z" fill="#3f70ad"/><path d="M294.33 316.4L297.33 319.4L294.33 322.4L291.33 319.4Z" fill="#3f70ad"/><path d="M303.67 316.4L306.67 319.4L303.67 322.4L300.67 319.4Z" fill="#3f70ad"/><path d="M313.01 316.4L316.01 319.4L313.01 322.4L310.01 319.4Z" fill="#3f70ad"/><path d="M322.36 316.4L325.36 319.4L322.36 322.4L319.36 319.4Z" fill="#3f70ad"/><path d="M331.7 316.4L334.7 319.4L331.7 322.4L328.7 319.4Z" fill="#3f70ad"/><path d="M341.04 316.4L344.04 319.4L341.04 322.4L338.04 319.4Z" fill="#3f70ad"/><path d="M350.39 316.4L353.39 319.4L350.39 322.4L347.39 319.4Z" fill="#3f70ad"/><path d="M359.73 316.4L362.73 319.4L359.73 322.4L356.73 319.4Z" fill="#3f70ad"/>
</g></g>
<g>
<path d="M417.5 321.3H748.5" stroke="#878787" stroke-width="1.1"/>
<text x="406.5" y="325.3" font-size="11" text-anchor="end" letter-spacing="0.9">1</text>
<path d="M417.5 337.3H748.5" stroke="#878787" stroke-width="1.1"/>
<text x="406.5" y="341.3" font-size="11" text-anchor="end" letter-spacing="0.9">2</text>
<path d="M417.5 353.3H748.5" stroke="#878787" stroke-width="1.1"/>
<text x="406.5" y="357.3" font-size="11" text-anchor="end" letter-spacing="0.9">3</text>
<path d="M417.5 369.3H748.5" stroke="#878787" stroke-width="1.1"/>
<text x="406.5" y="373.3" font-size="11" text-anchor="end" letter-spacing="0.9">4</text>
<path d="M417.5 385.3H748.5" stroke="#878787" stroke-width="1.1"/>
<text x="406.5" y="389.3" font-size="11" text-anchor="end" letter-spacing="0.9">5</text>
<path d="M417.5 401.3H748.5" stroke="#878787" stroke-width="1.1"/>
<text x="406.5" y="405.3" font-size="11" text-anchor="end" letter-spacing="0.9">6</text>
<path d="M417.5 417.3H748.5" stroke="#878787" stroke-width="1.1"/>
<text x="406.5" y="421.3" font-size="11" text-anchor="end" letter-spacing="0.9">7</text>
<path d="M417.5 433.3H748.5" stroke="#878787" stroke-width="1.1"/>
<text x="406.5" y="437.3" font-size="11" text-anchor="end" letter-spacing="0.9">8</text>
<path d="M417.5 449.3H748.5" stroke="#878787" stroke-width="1.1"/>
<text x="406.5" y="453.3" font-size="11" text-anchor="end" letter-spacing="0.9">9</text>
<path d="M417.5 465.3H748.5" stroke="#878787" stroke-width="1.1"/>
<text x="406.5" y="469.3" font-size="11" text-anchor="end" letter-spacing="0.9">10</text>
<path d="M417.5 481.3H748.5" stroke="#878787" stroke-width="1.1"/>
<text x="406.5" y="485.3" font-size="11" text-anchor="end" letter-spacing="0.9">11</text>
<path d="M417.5 497.3H748.5" stroke="#878787" stroke-width="1.1"/>
<text x="406.5" y="501.3" font-size="11" text-anchor="end" letter-spacing="0.9">12</text>
<path d="M417.5 513.3H748.5" stroke="#878787" stroke-width="1.1"/>
<text x="406.5" y="517.3" font-size="11" text-anchor="end" letter-spacing="0.9">13</text>
<path d="M417.5 529.3H748.5" stroke="#878787" stroke-width="1.1"/>
<text x="406.5" y="533.3" font-size="11" text-anchor="end" letter-spacing="0.9">14</text>
<path d="M417.5 545.3H748.5" stroke="#878787" stroke-width="1.1"/>
<text x="406.5" y="549.3" font-size="11" text-anchor="end" letter-spacing="0.9">15</text>
<path d="M421.5 317.8V545.3" stroke="#878787" stroke-width="1.1"/>
<path d="M421.5 317.8V321.3M430.84 317.8V321.3M440.19 317.8V321.3M449.53 317.8V321.3M458.87 317.8V321.3M468.21 317.8V321.3M477.56 317.8V321.3M486.9 317.8V321.3M496.24 317.8V321.3M505.59 317.8V321.3M514.93 317.8V321.3M524.27 317.8V321.3M533.61 317.8V321.3M542.96 317.8V321.3M552.3 317.8V321.3M561.64 317.8V321.3M570.99 317.8V321.3M580.33 317.8V321.3M589.67 317.8V321.3M599.01 317.8V321.3M608.36 317.8V321.3M617.7 317.8V321.3M627.04 317.8V321.3M636.39 317.8V321.3M645.73 317.8V321.3M655.07 317.8V321.3M664.41 317.8V321.3M673.76 317.8V321.3M683.1 317.8V321.3M692.44 317.8V321.3M701.79 317.8V321.3M711.13 317.8V321.3M720.47 317.8V321.3M729.81 317.8V321.3M739.16 317.8V321.3M748.5 317.8V321.3" stroke="#878787" stroke-width="1"/>
<text transform="translate(429.97 313.4) rotate(-90)" font-size="10.6" letter-spacing="0.25">1982</text>
<text transform="translate(448.66 313.4) rotate(-90)" font-size="10.6" letter-spacing="0.25">1984</text>
<text transform="translate(467.34 313.4) rotate(-90)" font-size="10.6" letter-spacing="0.25">1986</text>
<text transform="translate(486.03 313.4) rotate(-90)" font-size="10.6" letter-spacing="0.25">1988</text>
<text transform="translate(504.71 313.4) rotate(-90)" font-size="10.6" letter-spacing="0.25">1990</text>
<text transform="translate(523.4 313.4) rotate(-90)" font-size="10.6" letter-spacing="0.25">1992</text>
<text transform="translate(542.09 313.4) rotate(-90)" font-size="10.6" letter-spacing="0.25">1994</text>
<text transform="translate(560.77 313.4) rotate(-90)" font-size="10.6" letter-spacing="0.25">1996</text>
<text transform="translate(579.46 313.4) rotate(-90)" font-size="10.6" letter-spacing="0.25">1998</text>
<text transform="translate(598.14 313.4) rotate(-90)" font-size="10.6" letter-spacing="0.25">2000</text>
<text transform="translate(616.83 313.4) rotate(-90)" font-size="10.6" letter-spacing="0.25">2002</text>
<text transform="translate(635.51 313.4) rotate(-90)" font-size="10.6" letter-spacing="0.25">2004</text>
<text transform="translate(654.2 313.4) rotate(-90)" font-size="10.6" letter-spacing="0.25">2006</text>
<text transform="translate(672.89 313.4) rotate(-90)" font-size="10.6" letter-spacing="0.25">2008</text>
<text transform="translate(691.57 313.4) rotate(-90)" font-size="10.6" letter-spacing="0.25">2010</text>
<text transform="translate(710.26 313.4) rotate(-90)" font-size="10.6" letter-spacing="0.25">2012</text>
<text transform="translate(728.94 313.4) rotate(-90)" font-size="10.6" letter-spacing="0.25">2014</text>
<text transform="translate(747.63 313.4) rotate(-90)" font-size="10.6" letter-spacing="0.25">2016</text>
<clipPath id="cr2"><rect x="415.5" y="300" width="339" height="248.5"/></clipPath>
<g clip-path="url(#cr2)">
<path d="M594.34 561.3L603.69 545.3L613.03 529.3L622.37 529.3L631.71 529.3L641.06 529.3L650.4 529.3L659.74 529.3L669.09 513.3L678.43 513.3L687.77 513.3L697.11 513.3L706.46 513.3L715.8 513.3L725.14 513.3L734.49 513.3L743.83 513.3" fill="none" stroke="#93b1d6" stroke-width="2.6" stroke-linejoin="round"/>
<path d="M594.34 558.8V563.8" stroke="#93b1d6" stroke-width="1"/><path d="M603.69 542.8V547.8" stroke="#93b1d6" stroke-width="1"/><path d="M613.03 526.8V531.8" stroke="#93b1d6" stroke-width="1"/><path d="M622.37 526.8V531.8" stroke="#93b1d6" stroke-width="1"/><path d="M631.71 526.8V531.8" stroke="#93b1d6" stroke-width="1"/><path d="M641.06 526.8V531.8" stroke="#93b1d6" stroke-width="1"/><path d="M650.4 526.8V531.8" stroke="#93b1d6" stroke-width="1"/><path d="M659.74 526.8V531.8" stroke="#93b1d6" stroke-width="1"/><path d="M669.09 510.8V515.8" stroke="#93b1d6" stroke-width="1"/><path d="M678.43 510.8V515.8" stroke="#93b1d6" stroke-width="1"/><path d="M687.77 510.8V515.8" stroke="#93b1d6" stroke-width="1"/><path d="M697.11 510.8V515.8" stroke="#93b1d6" stroke-width="1"/><path d="M706.46 510.8V515.8" stroke="#93b1d6" stroke-width="1"/><path d="M715.8 510.8V515.8" stroke="#93b1d6" stroke-width="1"/><path d="M725.14 510.8V515.8" stroke="#93b1d6" stroke-width="1"/><path d="M734.49 510.8V515.8" stroke="#93b1d6" stroke-width="1"/><path d="M743.83 510.8V515.8" stroke="#93b1d6" stroke-width="1"/>
<path d="M426.17 401.3L435.51 401.3L444.86 401.3L454.2 401.3L463.54 401.3L472.89 401.3L482.23 401.3L491.57 401.3L500.91 401.3L510.26 401.3L519.6 385.3L528.94 385.3L538.29 385.3L547.63 385.3L556.97 385.3L566.31 385.3L575.66 385.3L585 385.3L594.34 385.3L603.69 385.3L613.03 385.3L622.37 385.3L631.71 369.3L641.06 369.3L650.4 385.3L659.74 385.3L669.09 385.3L678.43 385.3L687.77 385.3L697.11 385.3L706.46 385.3L715.8 385.3L725.14 385.3L734.49 385.3L743.83 385.3" fill="none" stroke="#e68a40" stroke-width="2.6" stroke-linejoin="round"/>
<circle cx="426.17" cy="401.3" r="3" fill="#e68a40"/><circle cx="435.51" cy="401.3" r="3" fill="#e68a40"/><circle cx="444.86" cy="401.3" r="3" fill="#e68a40"/><circle cx="454.2" cy="401.3" r="3" fill="#e68a40"/><circle cx="463.54" cy="401.3" r="3" fill="#e68a40"/><circle cx="472.89" cy="401.3" r="3" fill="#e68a40"/><circle cx="482.23" cy="401.3" r="3" fill="#e68a40"/><circle cx="491.57" cy="401.3" r="3" fill="#e68a40"/><circle cx="500.91" cy="401.3" r="3" fill="#e68a40"/><circle cx="510.26" cy="401.3" r="3" fill="#e68a40"/><circle cx="519.6" cy="385.3" r="3" fill="#e68a40"/><circle cx="528.94" cy="385.3" r="3" fill="#e68a40"/><circle cx="538.29" cy="385.3" r="3" fill="#e68a40"/><circle cx="547.63" cy="385.3" r="3" fill="#e68a40"/><circle cx="556.97" cy="385.3" r="3" fill="#e68a40"/><circle cx="566.31" cy="385.3" r="3" fill="#e68a40"/><circle cx="575.66" cy="385.3" r="3" fill="#e68a40"/><circle cx="585" cy="385.3" r="3" fill="#e68a40"/><circle cx="594.34" cy="385.3" r="3" fill="#e68a40"/><circle cx="603.69" cy="385.3" r="3" fill="#e68a40"/><circle cx="613.03" cy="385.3" r="3" fill="#e68a40"/><circle cx="622.37" cy="385.3" r="3" fill="#e68a40"/><circle cx="631.71" cy="369.3" r="3" fill="#e68a40"/><circle cx="641.06" cy="369.3" r="3" fill="#e68a40"/><circle cx="650.4" cy="385.3" r="3" fill="#e68a40"/><circle cx="659.74" cy="385.3" r="3" fill="#e68a40"/><circle cx="669.09" cy="385.3" r="3" fill="#e68a40"/><circle cx="678.43" cy="385.3" r="3" fill="#e68a40"/><circle cx="687.77" cy="385.3" r="3" fill="#e68a40"/><circle cx="697.11" cy="385.3" r="3" fill="#e68a40"/><circle cx="706.46" cy="385.3" r="3" fill="#e68a40"/><circle cx="715.8" cy="385.3" r="3" fill="#e68a40"/><circle cx="725.14" cy="385.3" r="3" fill="#e68a40"/><circle cx="734.49" cy="385.3" r="3" fill="#e68a40"/><circle cx="743.83" cy="385.3" r="3" fill="#e68a40"/>
<path d="M426.17 337.3L435.51 337.3L444.86 337.3L454.2 337.3L463.54 337.3L472.89 337.3L482.23 337.3L491.57 337.3L500.91 337.3L510.26 337.3L519.6 337.3L528.94 337.3L538.29 337.3L547.63 337.3L556.97 337.3L566.31 337.3L575.66 337.3L585 337.3L594.34 337.3L603.69 337.3L613.03 337.3L622.37 337.3L631.71 337.3L641.06 337.3L650.4 337.3L659.74 337.3L669.09 337.3L678.43 337.3L687.77 353.3L697.11 353.3L706.46 353.3L715.8 353.3L725.14 353.3L734.49 353.3L743.83 353.3" fill="none" stroke="#77599b" stroke-width="2.2" stroke-linejoin="round"/>
<path d="M423.37 334.5L428.97 340.1M428.97 334.5L423.37 340.1" stroke="#77599b" stroke-width="1.3"/><path d="M432.71 334.5L438.31 340.1M438.31 334.5L432.71 340.1" stroke="#77599b" stroke-width="1.3"/><path d="M442.06 334.5L447.66 340.1M447.66 334.5L442.06 340.1" stroke="#77599b" stroke-width="1.3"/><path d="M451.4 334.5L457 340.1M457 334.5L451.4 340.1" stroke="#77599b" stroke-width="1.3"/><path d="M460.74 334.5L466.34 340.1M466.34 334.5L460.74 340.1" stroke="#77599b" stroke-width="1.3"/><path d="M470.09 334.5L475.69 340.1M475.69 334.5L470.09 340.1" stroke="#77599b" stroke-width="1.3"/><path d="M479.43 334.5L485.03 340.1M485.03 334.5L479.43 340.1" stroke="#77599b" stroke-width="1.3"/><path d="M488.77 334.5L494.37 340.1M494.37 334.5L488.77 340.1" stroke="#77599b" stroke-width="1.3"/><path d="M498.11 334.5L503.71 340.1M503.71 334.5L498.11 340.1" stroke="#77599b" stroke-width="1.3"/><path d="M507.46 334.5L513.06 340.1M513.06 334.5L507.46 340.1" stroke="#77599b" stroke-width="1.3"/><path d="M516.8 334.5L522.4 340.1M522.4 334.5L516.8 340.1" stroke="#77599b" stroke-width="1.3"/><path d="M526.14 334.5L531.74 340.1M531.74 334.5L526.14 340.1" stroke="#77599b" stroke-width="1.3"/><path d="M535.49 334.5L541.09 340.1M541.09 334.5L535.49 340.1" stroke="#77599b" stroke-width="1.3"/><path d="M544.83 334.5L550.43 340.1M550.43 334.5L544.83 340.1" stroke="#77599b" stroke-width="1.3"/><path d="M554.17 334.5L559.77 340.1M559.77 334.5L554.17 340.1" stroke="#77599b" stroke-width="1.3"/><path d="M563.51 334.5L569.11 340.1M569.11 334.5L563.51 340.1" stroke="#77599b" stroke-width="1.3"/><path d="M572.86 334.5L578.46 340.1M578.46 334.5L572.86 340.1" stroke="#77599b" stroke-width="1.3"/><path d="M582.2 334.5L587.8 340.1M587.8 334.5L582.2 340.1" stroke="#77599b" stroke-width="1.3"/><path d="M591.54 334.5L597.14 340.1M597.14 334.5L591.54 340.1" stroke="#77599b" stroke-width="1.3"/><path d="M600.89 334.5L606.49 340.1M606.49 334.5L600.89 340.1" stroke="#77599b" stroke-width="1.3"/><path d="M610.23 334.5L615.83 340.1M615.83 334.5L610.23 340.1" stroke="#77599b" stroke-width="1.3"/><path d="M619.57 334.5L625.17 340.1M625.17 334.5L619.57 340.1" stroke="#77599b" stroke-width="1.3"/><path d="M628.91 334.5L634.51 340.1M634.51 334.5L628.91 340.1" stroke="#77599b" stroke-width="1.3"/><path d="M638.26 334.5L643.86 340.1M643.86 334.5L638.26 340.1" stroke="#77599b" stroke-width="1.3"/><path d="M647.6 334.5L653.2 340.1M653.2 334.5L647.6 340.1" stroke="#77599b" stroke-width="1.3"/><path d="M656.94 334.5L662.54 340.1M662.54 334.5L656.94 340.1" stroke="#77599b" stroke-width="1.3"/><path d="M666.29 334.5L671.89 340.1M671.89 334.5L666.29 340.1" stroke="#77599b" stroke-width="1.3"/><path d="M675.63 334.5L681.23 340.1M681.23 334.5L675.63 340.1" stroke="#77599b" stroke-width="1.3"/><path d="M684.97 350.5L690.57 356.1M690.57 350.5L684.97 356.1" stroke="#77599b" stroke-width="1.3"/><path d="M694.31 350.5L699.91 356.1M699.91 350.5L694.31 356.1" stroke="#77599b" stroke-width="1.3"/><path d="M703.66 350.5L709.26 356.1M709.26 350.5L703.66 356.1" stroke="#77599b" stroke-width="1.3"/><path d="M713 350.5L718.6 356.1M718.6 350.5L713 356.1" stroke="#77599b" stroke-width="1.3"/><path d="M722.34 350.5L727.94 356.1M727.94 350.5L722.34 356.1" stroke="#77599b" stroke-width="1.3"/><path d="M731.69 350.5L737.29 356.1M737.29 350.5L731.69 356.1" stroke="#77599b" stroke-width="1.3"/><path d="M741.03 350.5L746.63 356.1M746.63 350.5L741.03 356.1" stroke="#77599b" stroke-width="1.3"/>
<path d="M426.17 353.3L435.51 353.3L444.86 353.3L454.2 353.3L463.54 353.3L472.89 353.3L482.23 353.3L491.57 353.3L500.91 353.3L510.26 353.3L519.6 353.3L528.94 353.3L538.29 353.3L547.63 353.3L556.97 353.3L566.31 353.3L575.66 353.3L585 353.3L594.34 353.3L603.69 353.3L613.03 353.3L622.37 353.3L631.71 353.3L641.06 353.3L650.4 353.3L659.74 353.3L669.09 353.3L678.43 369.3L687.77 369.3L697.11 369.3L706.46 369.3L715.8 369.3L725.14 369.3L734.49 369.3L743.83 369.3" fill="none" stroke="#8dae52" stroke-width="2.6" stroke-linejoin="round"/>
<path d="M426.17 349.8L429.67 355.8L422.67 355.8Z" fill="#8dae52"/><path d="M435.51 349.8L439.01 355.8L432.01 355.8Z" fill="#8dae52"/><path d="M444.86 349.8L448.36 355.8L441.36 355.8Z" fill="#8dae52"/><path d="M454.2 349.8L457.7 355.8L450.7 355.8Z" fill="#8dae52"/><path d="M463.54 349.8L467.04 355.8L460.04 355.8Z" fill="#8dae52"/><path d="M472.89 349.8L476.39 355.8L469.39 355.8Z" fill="#8dae52"/><path d="M482.23 349.8L485.73 355.8L478.73 355.8Z" fill="#8dae52"/><path d="M491.57 349.8L495.07 355.8L488.07 355.8Z" fill="#8dae52"/><path d="M500.91 349.8L504.41 355.8L497.41 355.8Z" fill="#8dae52"/><path d="M510.26 349.8L513.76 355.8L506.76 355.8Z" fill="#8dae52"/><path d="M519.6 349.8L523.1 355.8L516.1 355.8Z" fill="#8dae52"/><path d="M528.94 349.8L532.44 355.8L525.44 355.8Z" fill="#8dae52"/><path d="M538.29 349.8L541.79 355.8L534.79 355.8Z" fill="#8dae52"/><path d="M547.63 349.8L551.13 355.8L544.13 355.8Z" fill="#8dae52"/><path d="M556.97 349.8L560.47 355.8L553.47 355.8Z" fill="#8dae52"/><path d="M566.31 349.8L569.81 355.8L562.81 355.8Z" fill="#8dae52"/><path d="M575.66 349.8L579.16 355.8L572.16 355.8Z" fill="#8dae52"/><path d="M585 349.8L588.5 355.8L581.5 355.8Z" fill="#8dae52"/><path d="M594.34 349.8L597.84 355.8L590.84 355.8Z" fill="#8dae52"/><path d="M603.69 349.8L607.19 355.8L600.19 355.8Z" fill="#8dae52"/><path d="M613.03 349.8L616.53 355.8L609.53 355.8Z" fill="#8dae52"/><path d="M622.37 349.8L625.87 355.8L618.87 355.8Z" fill="#8dae52"/><path d="M631.71 349.8L635.21 355.8L628.21 355.8Z" fill="#8dae52"/><path d="M641.06 349.8L644.56 355.8L637.56 355.8Z" fill="#8dae52"/><path d="M650.4 349.8L653.9 355.8L646.9 355.8Z" fill="#8dae52"/><path d="M659.74 349.8L663.24 355.8L656.24 355.8Z" fill="#8dae52"/><path d="M669.09 349.8L672.59 355.8L665.59 355.8Z" fill="#8dae52"/><path d="M678.43 365.8L681.93 371.8L674.93 371.8Z" fill="#8dae52"/><path d="M687.77 365.8L691.27 371.8L684.27 371.8Z" fill="#8dae52"/><path d="M697.11 365.8L700.61 371.8L693.61 371.8Z" fill="#8dae52"/><path d="M706.46 365.8L709.96 371.8L702.96 371.8Z" fill="#8dae52"/><path d="M715.8 365.8L719.3 371.8L712.3 371.8Z" fill="#8dae52"/><path d="M725.14 365.8L728.64 371.8L721.64 371.8Z" fill="#8dae52"/><path d="M734.49 365.8L737.99 371.8L730.99 371.8Z" fill="#8dae52"/><path d="M743.83 365.8L747.33 371.8L740.33 371.8Z" fill="#8dae52"/>
<path d="M556.97 577.3L566.31 513.3L575.66 513.3L585 513.3L594.34 497.3L603.69 465.3L613.03 433.3L622.37 433.3L631.71 417.3L641.06 401.3L650.4 369.3L659.74 369.3L669.09 369.3L678.43 353.3L687.77 337.3L697.11 337.3L706.46 337.3L715.8 337.3L725.14 337.3L734.49 337.3L743.83 337.3" fill="none" stroke="#4aaac6" stroke-width="2.6" stroke-linejoin="round"/>
<rect x="553.97" y="574.3" width="6" height="6" fill="#4aaac6"/><rect x="563.31" y="510.3" width="6" height="6" fill="#4aaac6"/><rect x="572.66" y="510.3" width="6" height="6" fill="#4aaac6"/><rect x="582" y="510.3" width="6" height="6" fill="#4aaac6"/><rect x="591.34" y="494.3" width="6" height="6" fill="#4aaac6"/><rect x="600.69" y="462.3" width="6" height="6" fill="#4aaac6"/><rect x="610.03" y="430.3" width="6" height="6" fill="#4aaac6"/><rect x="619.37" y="430.3" width="6" height="6" fill="#4aaac6"/><rect x="628.71" y="414.3" width="6" height="6" fill="#4aaac6"/><rect x="638.06" y="398.3" width="6" height="6" fill="#4aaac6"/><rect x="647.4" y="366.3" width="6" height="6" fill="#4aaac6"/><rect x="656.74" y="366.3" width="6" height="6" fill="#4aaac6"/><rect x="666.09" y="366.3" width="6" height="6" fill="#4aaac6"/><rect x="675.43" y="350.3" width="6" height="6" fill="#4aaac6"/><rect x="684.77" y="334.3" width="6" height="6" fill="#4aaac6"/><rect x="694.11" y="334.3" width="6" height="6" fill="#4aaac6"/><rect x="703.46" y="334.3" width="6" height="6" fill="#4aaac6"/><rect x="712.8" y="334.3" width="6" height="6" fill="#4aaac6"/><rect x="722.14" y="334.3" width="6" height="6" fill="#4aaac6"/><rect x="731.49" y="334.3" width="6" height="6" fill="#4aaac6"/><rect x="740.83" y="334.3" width="6" height="6" fill="#4aaac6"/>
<path d="M426.17 369.3L435.51 369.3L444.86 369.3L454.2 369.3L463.54 369.3L472.89 369.3L482.23 369.3L491.57 369.3L500.91 369.3L510.26 369.3L519.6 369.3L528.94 369.3L538.29 369.3L547.63 369.3L556.97 369.3L566.31 369.3L575.66 369.3L585 369.3L594.34 369.3L603.69 369.3L613.03 369.3L622.37 369.3L631.71 385.3L641.06 385.3L650.4 401.3L659.74 417.3L669.09 417.3L678.43 417.3L687.77 433.3L697.11 433.3L706.46 449.3L715.8 465.3L725.14 465.3L734.49 481.3L743.83 481.3" fill="none" stroke="#c00000" stroke-width="3.0" stroke-linejoin="round"/>
<rect x="422.87" y="366" width="6.6" height="6.6" fill="#c00000"/><rect x="432.21" y="366" width="6.6" height="6.6" fill="#c00000"/><rect x="441.56" y="366" width="6.6" height="6.6" fill="#c00000"/><rect x="450.9" y="366" width="6.6" height="6.6" fill="#c00000"/><rect x="460.24" y="366" width="6.6" height="6.6" fill="#c00000"/><rect x="469.59" y="366" width="6.6" height="6.6" fill="#c00000"/><rect x="478.93" y="366" width="6.6" height="6.6" fill="#c00000"/><rect x="488.27" y="366" width="6.6" height="6.6" fill="#c00000"/><rect x="497.61" y="366" width="6.6" height="6.6" fill="#c00000"/><rect x="506.96" y="366" width="6.6" height="6.6" fill="#c00000"/><rect x="516.3" y="366" width="6.6" height="6.6" fill="#c00000"/><rect x="525.64" y="366" width="6.6" height="6.6" fill="#c00000"/><rect x="534.99" y="366" width="6.6" height="6.6" fill="#c00000"/><rect x="544.33" y="366" width="6.6" height="6.6" fill="#c00000"/><rect x="553.67" y="366" width="6.6" height="6.6" fill="#c00000"/><rect x="563.01" y="366" width="6.6" height="6.6" fill="#c00000"/><rect x="572.36" y="366" width="6.6" height="6.6" fill="#c00000"/><rect x="581.7" y="366" width="6.6" height="6.6" fill="#c00000"/><rect x="591.04" y="366" width="6.6" height="6.6" fill="#c00000"/><rect x="600.39" y="366" width="6.6" height="6.6" fill="#c00000"/><rect x="609.73" y="366" width="6.6" height="6.6" fill="#c00000"/><rect x="619.07" y="366" width="6.6" height="6.6" fill="#c00000"/><rect x="628.41" y="382" width="6.6" height="6.6" fill="#c00000"/><rect x="637.76" y="382" width="6.6" height="6.6" fill="#c00000"/><rect x="647.1" y="398" width="6.6" height="6.6" fill="#c00000"/><rect x="656.44" y="414" width="6.6" height="6.6" fill="#c00000"/><rect x="665.79" y="414" width="6.6" height="6.6" fill="#c00000"/><rect x="675.13" y="414" width="6.6" height="6.6" fill="#c00000"/><rect x="684.47" y="430" width="6.6" height="6.6" fill="#c00000"/><rect x="693.81" y="430" width="6.6" height="6.6" fill="#c00000"/><rect x="703.16" y="446" width="6.6" height="6.6" fill="#c00000"/><rect x="712.5" y="462" width="6.6" height="6.6" fill="#c00000"/><rect x="721.84" y="462" width="6.6" height="6.6" fill="#c00000"/><rect x="731.19" y="478" width="6.6" height="6.6" fill="#c00000"/><rect x="740.53" y="478" width="6.6" height="6.6" fill="#c00000"/>
<path d="M426.17 321.3L435.51 321.3L444.86 321.3L454.2 321.3L463.54 321.3L472.89 321.3L482.23 321.3L491.57 321.3L500.91 321.3L510.26 321.3L519.6 321.3L528.94 321.3L538.29 321.3L547.63 321.3L556.97 321.3L566.31 321.3L575.66 321.3L585 321.3L594.34 321.3L603.69 321.3L613.03 321.3L622.37 321.3L631.71 321.3L641.06 321.3L650.4 321.3L659.74 321.3L669.09 321.3L678.43 321.3L687.77 321.3L697.11 321.3L706.46 321.3L715.8 321.3L725.14 321.3L734.49 321.3L743.83 321.3" fill="none" stroke="#3f70ad" stroke-width="2.2" stroke-linejoin="round"/>
<path d="M426.17 318.3L429.17 321.3L426.17 324.3L423.17 321.3Z" fill="#3f70ad"/><path d="M435.51 318.3L438.51 321.3L435.51 324.3L432.51 321.3Z" fill="#3f70ad"/><path d="M444.86 318.3L447.86 321.3L444.86 324.3L441.86 321.3Z" fill="#3f70ad"/><path d="M454.2 318.3L457.2 321.3L454.2 324.3L451.2 321.3Z" fill="#3f70ad"/><path d="M463.54 318.3L466.54 321.3L463.54 324.3L460.54 321.3Z" fill="#3f70ad"/><path d="M472.89 318.3L475.89 321.3L472.89 324.3L469.89 321.3Z" fill="#3f70ad"/><path d="M482.23 318.3L485.23 321.3L482.23 324.3L479.23 321.3Z" fill="#3f70ad"/><path d="M491.57 318.3L494.57 321.3L491.57 324.3L488.57 321.3Z" fill="#3f70ad"/><path d="M500.91 318.3L503.91 321.3L500.91 324.3L497.91 321.3Z" fill="#3f70ad"/><path d="M510.26 318.3L513.26 321.3L510.26 324.3L507.26 321.3Z" fill="#3f70ad"/><path d="M519.6 318.3L522.6 321.3L519.6 324.3L516.6 321.3Z" fill="#3f70ad"/><path d="M528.94 318.3L531.94 321.3L528.94 324.3L525.94 321.3Z" fill="#3f70ad"/><path d="M538.29 318.3L541.29 321.3L538.29 324.3L535.29 321.3Z" fill="#3f70ad"/><path d="M547.63 318.3L550.63 321.3L547.63 324.3L544.63 321.3Z" fill="#3f70ad"/><path d="M556.97 318.3L559.97 321.3L556.97 324.3L553.97 321.3Z" fill="#3f70ad"/><path d="M566.31 318.3L569.31 321.3L566.31 324.3L563.31 321.3Z" fill="#3f70ad"/><path d="M575.66 318.3L578.66 321.3L575.66 324.3L572.66 321.3Z" fill="#3f70ad"/><path d="M585 318.3L588 321.3L585 324.3L582 321.3Z" fill="#3f70ad"/><path d="M594.34 318.3L597.34 321.3L594.34 324.3L591.34 321.3Z" fill="#3f70ad"/><path d="M603.69 318.3L606.69 321.3L603.69 324.3L600.69 321.3Z" fill="#3f70ad"/><path d="M613.03 318.3L616.03 321.3L613.03 324.3L610.03 321.3Z" fill="#3f70ad"/><path d="M622.37 318.3L625.37 321.3L622.37 324.3L619.37 321.3Z" fill="#3f70ad"/><path d="M631.71 318.3L634.71 321.3L631.71 324.3L628.71 321.3Z" fill="#3f70ad"/><path d="M641.06 318.3L644.06 321.3L641.06 324.3L638.06 321.3Z" fill="#3f70ad"/><path d="M650.4 318.3L653.4 321.3L650.4 324.3L647.4 321.3Z" fill="#3f70ad"/><path d="M659.74 318.3L662.74 321.3L659.74 324.3L656.74 321.3Z" fill="#3f70ad"/><path d="M669.09 318.3L672.09 321.3L669.09 324.3L666.09 321.3Z" fill="#3f70ad"/><path d="M678.43 318.3L681.43 321.3L678.43 324.3L675.43 321.3Z" fill="#3f70ad"/><path d="M687.77 318.3L690.77 321.3L687.77 324.3L684.77 321.3Z" fill="#3f70ad"/><path d="M697.11 318.3L700.11 321.3L697.11 324.3L694.11 321.3Z" fill="#3f70ad"/><path d="M706.46 318.3L709.46 321.3L706.46 324.3L703.46 321.3Z" fill="#3f70ad"/><path d="M715.8 318.3L718.8 321.3L715.8 324.3L712.8 321.3Z" fill="#3f70ad"/><path d="M725.14 318.3L728.14 321.3L725.14 324.3L722.14 321.3Z" fill="#3f70ad"/><path d="M734.49 318.3L737.49 321.3L734.49 324.3L731.49 321.3Z" fill="#3f70ad"/><path d="M743.83 318.3L746.83 321.3L743.83 324.3L740.83 321.3Z" fill="#3f70ad"/>
</g></g>
<g>
<path d="M797.6 321.3H1128.6" stroke="#878787" stroke-width="1.1"/>
<text x="786.6" y="325.3" font-size="11" text-anchor="end" letter-spacing="0.9">1</text>
<path d="M797.6 337.3H1128.6" stroke="#878787" stroke-width="1.1"/>
<text x="786.6" y="341.3" font-size="11" text-anchor="end" letter-spacing="0.9">2</text>
<path d="M797.6 353.3H1128.6" stroke="#878787" stroke-width="1.1"/>
<text x="786.6" y="357.3" font-size="11" text-anchor="end" letter-spacing="0.9">3</text>
<path d="M797.6 369.3H1128.6" stroke="#878787" stroke-width="1.1"/>
<text x="786.6" y="373.3" font-size="11" text-anchor="end" letter-spacing="0.9">4</text>
<path d="M797.6 385.3H1128.6" stroke="#878787" stroke-width="1.1"/>
<text x="786.6" y="389.3" font-size="11" text-anchor="end" letter-spacing="0.9">5</text>
<path d="M797.6 401.3H1128.6" stroke="#878787" stroke-width="1.1"/>
<text x="786.6" y="405.3" font-size="11" text-anchor="end" letter-spacing="0.9">6</text>
<path d="M797.6 417.3H1128.6" stroke="#878787" stroke-width="1.1"/>
<text x="786.6" y="421.3" font-size="11" text-anchor="end" letter-spacing="0.9">7</text>
<path d="M797.6 433.3H1128.6" stroke="#878787" stroke-width="1.1"/>
<text x="786.6" y="437.3" font-size="11" text-anchor="end" letter-spacing="0.9">8</text>
<path d="M797.6 449.3H1128.6" stroke="#878787" stroke-width="1.1"/>
<text x="786.6" y="453.3" font-size="11" text-anchor="end" letter-spacing="0.9">9</text>
<path d="M797.6 465.3H1128.6" stroke="#878787" stroke-width="1.1"/>
<text x="786.6" y="469.3" font-size="11" text-anchor="end" letter-spacing="0.9">10</text>
<path d="M797.6 481.3H1128.6" stroke="#878787" stroke-width="1.1"/>
<text x="786.6" y="485.3" font-size="11" text-anchor="end" letter-spacing="0.9">11</text>
<path d="M797.6 497.3H1128.6" stroke="#878787" stroke-width="1.1"/>
<text x="786.6" y="501.3" font-size="11" text-anchor="end" letter-spacing="0.9">12</text>
<path d="M797.6 513.3H1128.6" stroke="#878787" stroke-width="1.1"/>
<text x="786.6" y="517.3" font-size="11" text-anchor="end" letter-spacing="0.9">13</text>
<path d="M797.6 529.3H1128.6" stroke="#878787" stroke-width="1.1"/>
<text x="786.6" y="533.3" font-size="11" text-anchor="end" letter-spacing="0.9">14</text>
<path d="M797.6 545.3H1128.6" stroke="#878787" stroke-width="1.1"/>
<text x="786.6" y="549.3" font-size="11" text-anchor="end" letter-spacing="0.9">15</text>
<path d="M801.6 317.8V545.3" stroke="#878787" stroke-width="1.1"/>
<path d="M801.6 317.8V321.3M810.94 317.8V321.3M820.29 317.8V321.3M829.63 317.8V321.3M838.97 317.8V321.3M848.31 317.8V321.3M857.66 317.8V321.3M867 317.8V321.3M876.34 317.8V321.3M885.69 317.8V321.3M895.03 317.8V321.3M904.37 317.8V321.3M913.71 317.8V321.3M923.06 317.8V321.3M932.4 317.8V321.3M941.74 317.8V321.3M951.09 317.8V321.3M960.43 317.8V321.3M969.77 317.8V321.3M979.11 317.8V321.3M988.46 317.8V321.3M997.8 317.8V321.3M1007.14 317.8V321.3M1016.49 317.8V321.3M1025.83 317.8V321.3M1035.17 317.8V321.3M1044.51 317.8V321.3M1053.86 317.8V321.3M1063.2 317.8V321.3M1072.54 317.8V321.3M1081.89 317.8V321.3M1091.23 317.8V321.3M1100.57 317.8V321.3M1109.91 317.8V321.3M1119.26 317.8V321.3M1128.6 317.8V321.3" stroke="#878787" stroke-width="1"/>
<text transform="translate(810.07 313.4) rotate(-90)" font-size="10.6" letter-spacing="0.25">1982</text>
<text transform="translate(828.76 313.4) rotate(-90)" font-size="10.6" letter-spacing="0.25">1984</text>
<text transform="translate(847.44 313.4) rotate(-90)" font-size="10.6" letter-spacing="0.25">1986</text>
<text transform="translate(866.13 313.4) rotate(-90)" font-size="10.6" letter-spacing="0.25">1988</text>
<text transform="translate(884.81 313.4) rotate(-90)" font-size="10.6" letter-spacing="0.25">1990</text>
<text transform="translate(903.5 313.4) rotate(-90)" font-size="10.6" letter-spacing="0.25">1992</text>
<text transform="translate(922.19 313.4) rotate(-90)" font-size="10.6" letter-spacing="0.25">1994</text>
<text transform="translate(940.87 313.4) rotate(-90)" font-size="10.6" letter-spacing="0.25">1996</text>
<text transform="translate(959.56 313.4) rotate(-90)" font-size="10.6" letter-spacing="0.25">1998</text>
<text transform="translate(978.24 313.4) rotate(-90)" font-size="10.6" letter-spacing="0.25">2000</text>
<text transform="translate(996.93 313.4) rotate(-90)" font-size="10.6" letter-spacing="0.25">2002</text>
<text transform="translate(1015.61 313.4) rotate(-90)" font-size="10.6" letter-spacing="0.25">2004</text>
<text transform="translate(1034.3 313.4) rotate(-90)" font-size="10.6" letter-spacing="0.25">2006</text>
<text transform="translate(1052.99 313.4) rotate(-90)" font-size="10.6" letter-spacing="0.25">2008</text>
<text transform="translate(1071.67 313.4) rotate(-90)" font-size="10.6" letter-spacing="0.25">2010</text>
<text transform="translate(1090.36 313.4) rotate(-90)" font-size="10.6" letter-spacing="0.25">2012</text>
<text transform="translate(1109.04 313.4) rotate(-90)" font-size="10.6" letter-spacing="0.25">2014</text>
<text transform="translate(1127.73 313.4) rotate(-90)" font-size="10.6" letter-spacing="0.25">2016</text>
<clipPath id="cr3"><rect x="795.6" y="300" width="339" height="248.5"/></clipPath>
<g clip-path="url(#cr3)">
<path d="M1058.53 545.3L1067.87 545.3L1077.21 545.3L1086.56 529.3L1095.9 529.3L1105.24 545.3L1114.59 545.3L1123.93 545.3" fill="none" stroke="#93b1d6" stroke-width="2.6" stroke-linejoin="round"/>
<path d="M1058.53 542.8V547.8" stroke="#93b1d6" stroke-width="1"/><path d="M1067.87 542.8V547.8" stroke="#93b1d6" stroke-width="1"/><path d="M1077.21 542.8V547.8" stroke="#93b1d6" stroke-width="1"/><path d="M1086.56 526.8V531.8" stroke="#93b1d6" stroke-width="1"/><path d="M1095.9 526.8V531.8" stroke="#93b1d6" stroke-width="1"/><path d="M1105.24 542.8V547.8" stroke="#93b1d6" stroke-width="1"/><path d="M1114.59 542.8V547.8" stroke="#93b1d6" stroke-width="1"/><path d="M1123.93 542.8V547.8" stroke="#93b1d6" stroke-width="1"/>
<path d="M806.27 401.3L815.61 401.3L824.96 385.3L834.3 385.3L843.64 385.3L852.99 401.3L862.33 401.3L871.67 401.3L881.01 385.3L890.36 385.3L899.7 401.3L909.04 401.3L918.39 385.3L927.73 369.3L937.07 369.3L946.41 369.3L955.76 369.3L965.1 369.3L974.44 369.3L983.79 369.3L993.13 369.3L1002.47 369.3L1011.81 369.3L1021.16 369.3L1030.5 369.3L1039.84 369.3L1049.19 385.3L1058.53 385.3L1067.87 385.3L1077.21 401.3L1086.56 385.3L1095.9 385.3L1105.24 385.3L1114.59 385.3L1123.93 385.3" fill="none" stroke="#e68a40" stroke-width="2.6" stroke-linejoin="round"/>
<circle cx="806.27" cy="401.3" r="3" fill="#e68a40"/><circle cx="815.61" cy="401.3" r="3" fill="#e68a40"/><circle cx="824.96" cy="385.3" r="3" fill="#e68a40"/><circle cx="834.3" cy="385.3" r="3" fill="#e68a40"/><circle cx="843.64" cy="385.3" r="3" fill="#e68a40"/><circle cx="852.99" cy="401.3" r="3" fill="#e68a40"/><circle cx="862.33" cy="401.3" r="3" fill="#e68a40"/><circle cx="871.67" cy="401.3" r="3" fill="#e68a40"/><circle cx="881.01" cy="385.3" r="3" fill="#e68a40"/><circle cx="890.36" cy="385.3" r="3" fill="#e68a40"/><circle cx="899.7" cy="401.3" r="3" fill="#e68a40"/><circle cx="909.04" cy="401.3" r="3" fill="#e68a40"/><circle cx="918.39" cy="385.3" r="3" fill="#e68a40"/><circle cx="927.73" cy="369.3" r="3" fill="#e68a40"/><circle cx="937.07" cy="369.3" r="3" fill="#e68a40"/><circle cx="946.41" cy="369.3" r="3" fill="#e68a40"/><circle cx="955.76" cy="369.3" r="3" fill="#e68a40"/><circle cx="965.1" cy="369.3" r="3" fill="#e68a40"/><circle cx="974.44" cy="369.3" r="3" fill="#e68a40"/><circle cx="983.79" cy="369.3" r="3" fill="#e68a40"/><circle cx="993.13" cy="369.3" r="3" fill="#e68a40"/><circle cx="1002.47" cy="369.3" r="3" fill="#e68a40"/><circle cx="1011.81" cy="369.3" r="3" fill="#e68a40"/><circle cx="1021.16" cy="369.3" r="3" fill="#e68a40"/><circle cx="1030.5" cy="369.3" r="3" fill="#e68a40"/><circle cx="1039.84" cy="369.3" r="3" fill="#e68a40"/><circle cx="1049.19" cy="385.3" r="3" fill="#e68a40"/><circle cx="1058.53" cy="385.3" r="3" fill="#e68a40"/><circle cx="1067.87" cy="385.3" r="3" fill="#e68a40"/><circle cx="1077.21" cy="401.3" r="3" fill="#e68a40"/><circle cx="1086.56" cy="385.3" r="3" fill="#e68a40"/><circle cx="1095.9" cy="385.3" r="3" fill="#e68a40"/><circle cx="1105.24" cy="385.3" r="3" fill="#e68a40"/><circle cx="1114.59" cy="385.3" r="3" fill="#e68a40"/><circle cx="1123.93" cy="385.3" r="3" fill="#e68a40"/>
<path d="M806.27 337.3L815.61 337.3L824.96 337.3L834.3 337.3L843.64 337.3L852.99 337.3L862.33 337.3L871.67 337.3L881.01 337.3L890.36 337.3L899.7 337.3L909.04 337.3L918.39 337.3L927.73 337.3L937.07 337.3L946.41 337.3L955.76 337.3L965.1 337.3L974.44 337.3L983.79 337.3L993.13 337.3L1002.47 337.3L1011.81 337.3L1021.16 337.3L1030.5 337.3L1039.84 337.3L1049.19 337.3L1058.53 337.3L1067.87 337.3L1077.21 337.3L1086.56 337.3L1095.9 353.3L1105.24 353.3L1114.59 353.3L1123.93 353.3" fill="none" stroke="#77599b" stroke-width="2.2" stroke-linejoin="round"/>
<path d="M803.47 334.5L809.07 340.1M809.07 334.5L803.47 340.1" stroke="#77599b" stroke-width="1.3"/><path d="M812.81 334.5L818.41 340.1M818.41 334.5L812.81 340.1" stroke="#77599b" stroke-width="1.3"/><path d="M822.16 334.5L827.76 340.1M827.76 334.5L822.16 340.1" stroke="#77599b" stroke-width="1.3"/><path d="M831.5 334.5L837.1 340.1M837.1 334.5L831.5 340.1" stroke="#77599b" stroke-width="1.3"/><path d="M840.84 334.5L846.44 340.1M846.44 334.5L840.84 340.1" stroke="#77599b" stroke-width="1.3"/><path d="M850.19 334.5L855.79 340.1M855.79 334.5L850.19 340.1" stroke="#77599b" stroke-width="1.3"/><path d="M859.53 334.5L865.13 340.1M865.13 334.5L859.53 340.1" stroke="#77599b" stroke-width="1.3"/><path d="M868.87 334.5L874.47 340.1M874.47 334.5L868.87 340.1" stroke="#77599b" stroke-width="1.3"/><path d="M878.21 334.5L883.81 340.1M883.81 334.5L878.21 340.1" stroke="#77599b" stroke-width="1.3"/><path d="M887.56 334.5L893.16 340.1M893.16 334.5L887.56 340.1" stroke="#77599b" stroke-width="1.3"/><path d="M896.9 334.5L902.5 340.1M902.5 334.5L896.9 340.1" stroke="#77599b" stroke-width="1.3"/><path d="M906.24 334.5L911.84 340.1M911.84 334.5L906.24 340.1" stroke="#77599b" stroke-width="1.3"/><path d="M915.59 334.5L921.19 340.1M921.19 334.5L915.59 340.1" stroke="#77599b" stroke-width="1.3"/><path d="M924.93 334.5L930.53 340.1M930.53 334.5L924.93 340.1" stroke="#77599b" stroke-width="1.3"/><path d="M934.27 334.5L939.87 340.1M939.87 334.5L934.27 340.1" stroke="#77599b" stroke-width="1.3"/><path d="M943.61 334.5L949.21 340.1M949.21 334.5L943.61 340.1" stroke="#77599b" stroke-width="1.3"/><path d="M952.96 334.5L958.56 340.1M958.56 334.5L952.96 340.1" stroke="#77599b" stroke-width="1.3"/><path d="M962.3 334.5L967.9 340.1M967.9 334.5L962.3 340.1" stroke="#77599b" stroke-width="1.3"/><path d="M971.64 334.5L977.24 340.1M977.24 334.5L971.64 340.1" stroke="#77599b" stroke-width="1.3"/><path d="M980.99 334.5L986.59 340.1M986.59 334.5L980.99 340.1" stroke="#77599b" stroke-width="1.3"/><path d="M990.33 334.5L995.93 340.1M995.93 334.5L990.33 340.1" stroke="#77599b" stroke-width="1.3"/><path d="M999.67 334.5L1005.27 340.1M1005.27 334.5L999.67 340.1" stroke="#77599b" stroke-width="1.3"/><path d="M1009.01 334.5L1014.61 340.1M1014.61 334.5L1009.01 340.1" stroke="#77599b" stroke-width="1.3"/><path d="M1018.36 334.5L1023.96 340.1M1023.96 334.5L1018.36 340.1" stroke="#77599b" stroke-width="1.3"/><path d="M1027.7 334.5L1033.3 340.1M1033.3 334.5L1027.7 340.1" stroke="#77599b" stroke-width="1.3"/><path d="M1037.04 334.5L1042.64 340.1M1042.64 334.5L1037.04 340.1" stroke="#77599b" stroke-width="1.3"/><path d="M1046.39 334.5L1051.99 340.1M1051.99 334.5L1046.39 340.1" stroke="#77599b" stroke-width="1.3"/><path d="M1055.73 334.5L1061.33 340.1M1061.33 334.5L1055.73 340.1" stroke="#77599b" stroke-width="1.3"/><path d="M1065.07 334.5L1070.67 340.1M1070.67 334.5L1065.07 340.1" stroke="#77599b" stroke-width="1.3"/><path d="M1074.41 334.5L1080.01 340.1M1080.01 334.5L1074.41 340.1" stroke="#77599b" stroke-width="1.3"/><path d="M1083.76 334.5L1089.36 340.1M1089.36 334.5L1083.76 340.1" stroke="#77599b" stroke-width="1.3"/><path d="M1093.1 350.5L1098.7 356.1M1098.7 350.5L1093.1 356.1" stroke="#77599b" stroke-width="1.3"/><path d="M1102.44 350.5L1108.04 356.1M1108.04 350.5L1102.44 356.1" stroke="#77599b" stroke-width="1.3"/><path d="M1111.79 350.5L1117.39 356.1M1117.39 350.5L1111.79 356.1" stroke="#77599b" stroke-width="1.3"/><path d="M1121.13 350.5L1126.73 356.1M1126.73 350.5L1121.13 356.1" stroke="#77599b" stroke-width="1.3"/>
<path d="M806.27 353.3L815.61 353.3L824.96 353.3L834.3 353.3L843.64 353.3L852.99 353.3L862.33 353.3L871.67 353.3L881.01 353.3L890.36 353.3L899.7 353.3L909.04 353.3L918.39 353.3L927.73 353.3L937.07 353.3L946.41 353.3L955.76 353.3L965.1 353.3L974.44 353.3L983.79 353.3L993.13 353.3L1002.47 353.3L1011.81 353.3L1021.16 353.3L1030.5 353.3L1039.84 353.3L1049.19 353.3L1058.53 353.3L1067.87 353.3L1077.21 369.3L1086.56 369.3L1095.9 369.3L1105.24 369.3L1114.59 369.3L1123.93 369.3" fill="none" stroke="#8dae52" stroke-width="2.6" stroke-linejoin="round"/>
<path d="M806.27 349.8L809.77 355.8L802.77 355.8Z" fill="#8dae52"/><path d="M815.61 349.8L819.11 355.8L812.11 355.8Z" fill="#8dae52"/><path d="M824.96 349.8L828.46 355.8L821.46 355.8Z" fill="#8dae52"/><path d="M834.3 349.8L837.8 355.8L830.8 355.8Z" fill="#8dae52"/><path d="M843.64 349.8L847.14 355.8L840.14 355.8Z" fill="#8dae52"/><path d="M852.99 349.8L856.49 355.8L849.49 355.8Z" fill="#8dae52"/><path d="M862.33 349.8L865.83 355.8L858.83 355.8Z" fill="#8dae52"/><path d="M871.67 349.8L875.17 355.8L868.17 355.8Z" fill="#8dae52"/><path d="M881.01 349.8L884.51 355.8L877.51 355.8Z" fill="#8dae52"/><path d="M890.36 349.8L893.86 355.8L886.86 355.8Z" fill="#8dae52"/><path d="M899.7 349.8L903.2 355.8L896.2 355.8Z" fill="#8dae52"/><path d="M909.04 349.8L912.54 355.8L905.54 355.8Z" fill="#8dae52"/><path d="M918.39 349.8L921.89 355.8L914.89 355.8Z" fill="#8dae52"/><path d="M927.73 349.8L931.23 355.8L924.23 355.8Z" fill="#8dae52"/><path d="M937.07 349.8L940.57 355.8L933.57 355.8Z" fill="#8dae52"/><path d="M946.41 349.8L949.91 355.8L942.91 355.8Z" fill="#8dae52"/><path d="M955.76 349.8L959.26 355.8L952.26 355.8Z" fill="#8dae52"/><path d="M965.1 349.8L968.6 355.8L961.6 355.8Z" fill="#8dae52"/><path d="M974.44 349.8L977.94 355.8L970.94 355.8Z" fill="#8dae52"/><path d="M983.79 349.8L987.29 355.8L980.29 355.8Z" fill="#8dae52"/><path d="M993.13 349.8L996.63 355.8L989.63 355.8Z" fill="#8dae52"/><path d="M1002.47 349.8L1005.97 355.8L998.97 355.8Z" fill="#8dae52"/><path d="M1011.81 349.8L1015.31 355.8L1008.31 355.8Z" fill="#8dae52"/><path d="M1021.16 349.8L1024.66 355.8L1017.66 355.8Z" fill="#8dae52"/><path d="M1030.5 349.8L1034 355.8L1027 355.8Z" fill="#8dae52"/><path d="M1039.84 349.8L1043.34 355.8L1036.34 355.8Z" fill="#8dae52"/><path d="M1049.19 349.8L1052.69 355.8L1045.69 355.8Z" fill="#8dae52"/><path d="M1058.53 349.8L1062.03 355.8L1055.03 355.8Z" fill="#8dae52"/><path d="M1067.87 349.8L1071.37 355.8L1064.37 355.8Z" fill="#8dae52"/><path d="M1077.21 365.8L1080.71 371.8L1073.71 371.8Z" fill="#8dae52"/><path d="M1086.56 365.8L1090.06 371.8L1083.06 371.8Z" fill="#8dae52"/><path d="M1095.9 365.8L1099.4 371.8L1092.4 371.8Z" fill="#8dae52"/><path d="M1105.24 365.8L1108.74 371.8L1101.74 371.8Z" fill="#8dae52"/><path d="M1114.59 365.8L1118.09 371.8L1111.09 371.8Z" fill="#8dae52"/><path d="M1123.93 365.8L1127.43 371.8L1120.43 371.8Z" fill="#8dae52"/>
<path d="M955.76 561.3L965.1 529.3L974.44 513.3L983.79 497.3L993.13 481.3L1002.47 449.3L1011.81 417.3L1021.16 417.3L1030.5 401.3L1039.84 401.3L1049.19 369.3L1058.53 369.3L1067.87 369.3L1077.21 353.3L1086.56 353.3L1095.9 337.3L1105.24 337.3L1114.59 337.3L1123.93 337.3" fill="none" stroke="#4aaac6" stroke-width="2.6" stroke-linejoin="round"/>
<rect x="952.76" y="558.3" width="6" height="6" fill="#4aaac6"/><rect x="962.1" y="526.3" width="6" height="6" fill="#4aaac6"/><rect x="971.44" y="510.3" width="6" height="6" fill="#4aaac6"/><rect x="980.79" y="494.3" width="6" height="6" fill="#4aaac6"/><rect x="990.13" y="478.3" width="6" height="6" fill="#4aaac6"/><rect x="999.47" y="446.3" width="6" height="6" fill="#4aaac6"/><rect x="1008.81" y="414.3" width="6" height="6" fill="#4aaac6"/><rect x="1018.16" y="414.3" width="6" height="6" fill="#4aaac6"/><rect x="1027.5" y="398.3" width="6" height="6" fill="#4aaac6"/><rect x="1036.84" y="398.3" width="6" height="6" fill="#4aaac6"/><rect x="1046.19" y="366.3" width="6" height="6" fill="#4aaac6"/><rect x="1055.53" y="366.3" width="6" height="6" fill="#4aaac6"/><rect x="1064.87" y="366.3" width="6" height="6" fill="#4aaac6"/><rect x="1074.21" y="350.3" width="6" height="6" fill="#4aaac6"/><rect x="1083.56" y="350.3" width="6" height="6" fill="#4aaac6"/><rect x="1092.9" y="334.3" width="6" height="6" fill="#4aaac6"/><rect x="1102.24" y="334.3" width="6" height="6" fill="#4aaac6"/><rect x="1111.59" y="334.3" width="6" height="6" fill="#4aaac6"/><rect x="1120.93" y="334.3" width="6" height="6" fill="#4aaac6"/>
<path d="M806.27 385.3L815.61 385.3L824.96 401.3L834.3 401.3L843.64 401.3L852.99 385.3L862.33 385.3L871.67 385.3L881.01 401.3L890.36 401.3L899.7 385.3L909.04 385.3L918.39 401.3L927.73 401.3L937.07 401.3L946.41 385.3L955.76 385.3L965.1 385.3L974.44 385.3L983.79 385.3L993.13 385.3L1002.47 401.3L1011.81 401.3L1021.16 401.3L1030.5 417.3L1039.84 417.3L1049.19 449.3L1058.53 465.3L1067.87 481.3L1077.21 481.3L1086.56 497.3L1095.9 497.3L1105.24 497.3L1114.59 497.3L1123.93 497.3" fill="none" stroke="#c00000" stroke-width="3.0" stroke-linejoin="round"/>
<rect x="802.97" y="382" width="6.6" height="6.6" fill="#c00000"/><rect x="812.31" y="382" width="6.6" height="6.6" fill="#c00000"/><rect x="821.66" y="398" width="6.6" height="6.6" fill="#c00000"/><rect x="831" y="398" width="6.6" height="6.6" fill="#c00000"/><rect x="840.34" y="398" width="6.6" height="6.6" fill="#c00000"/><rect x="849.69" y="382" width="6.6" height="6.6" fill="#c00000"/><rect x="859.03" y="382" width="6.6" height="6.6" fill="#c00000"/><rect x="868.37" y="382" width="6.6" height="6.6" fill="#c00000"/><rect x="877.71" y="398" width="6.6" height="6.6" fill="#c00000"/><rect x="887.06" y="398" width="6.6" height="6.6" fill="#c00000"/><rect x="896.4" y="382" width="6.6" height="6.6" fill="#c00000"/><rect x="905.74" y="382" width="6.6" height="6.6" fill="#c00000"/><rect x="915.09" y="398" width="6.6" height="6.6" fill="#c00000"/><rect x="924.43" y="398" width="6.6" height="6.6" fill="#c00000"/><rect x="933.77" y="398" width="6.6" height="6.6" fill="#c00000"/><rect x="943.11" y="382" width="6.6" height="6.6" fill="#c00000"/><rect x="952.46" y="382" width="6.6" height="6.6" fill="#c00000"/><rect x="961.8" y="382" width="6.6" height="6.6" fill="#c00000"/><rect x="971.14" y="382" width="6.6" height="6.6" fill="#c00000"/><rect x="980.49" y="382" width="6.6" height="6.6" fill="#c00000"/><rect x="989.83" y="382" width="6.6" height="6.6" fill="#c00000"/><rect x="999.17" y="398" width="6.6" height="6.6" fill="#c00000"/><rect x="1008.51" y="398" width="6.6" height="6.6" fill="#c00000"/><rect x="1017.86" y="398" width="6.6" height="6.6" fill="#c00000"/><rect x="1027.2" y="414" width="6.6" height="6.6" fill="#c00000"/><rect x="1036.54" y="414" width="6.6" height="6.6" fill="#c00000"/><rect x="1045.89" y="446" width="6.6" height="6.6" fill="#c00000"/><rect x="1055.23" y="462" width="6.6" height="6.6" fill="#c00000"/><rect x="1064.57" y="478" width="6.6" height="6.6" fill="#c00000"/><rect x="1073.91" y="478" width="6.6" height="6.6" fill="#c00000"/><rect x="1083.26" y="494" width="6.6" height="6.6" fill="#c00000"/><rect x="1092.6" y="494" width="6.6" height="6.6" fill="#c00000"/><rect x="1101.94" y="494" width="6.6" height="6.6" fill="#c00000"/><rect x="1111.29" y="494" width="6.6" height="6.6" fill="#c00000"/><rect x="1120.63" y="494" width="6.6" height="6.6" fill="#c00000"/>
<path d="M806.27 321.3L815.61 321.3L824.96 321.3L834.3 321.3L843.64 321.3L852.99 321.3L862.33 321.3L871.67 321.3L881.01 321.3L890.36 321.3L899.7 321.3L909.04 321.3L918.39 321.3L927.73 321.3L937.07 321.3L946.41 321.3L955.76 321.3L965.1 321.3L974.44 321.3L983.79 321.3L993.13 321.3L1002.47 321.3L1011.81 321.3L1021.16 321.3L1030.5 321.3L1039.84 321.3L1049.19 321.3L1058.53 321.3L1067.87 321.3L1077.21 321.3L1086.56 321.3L1095.9 321.3L1105.24 321.3L1114.59 321.3L1123.93 321.3" fill="none" stroke="#3f70ad" stroke-width="2.2" stroke-linejoin="round"/>
<path d="M806.27 318.3L809.27 321.3L806.27 324.3L803.27 321.3Z" fill="#3f70ad"/><path d="M815.61 318.3L818.61 321.3L815.61 324.3L812.61 321.3Z" fill="#3f70ad"/><path d="M824.96 318.3L827.96 321.3L824.96 324.3L821.96 321.3Z" fill="#3f70ad"/><path d="M834.3 318.3L837.3 321.3L834.3 324.3L831.3 321.3Z" fill="#3f70ad"/><path d="M843.64 318.3L846.64 321.3L843.64 324.3L840.64 321.3Z" fill="#3f70ad"/><path d="M852.99 318.3L855.99 321.3L852.99 324.3L849.99 321.3Z" fill="#3f70ad"/><path d="M862.33 318.3L865.33 321.3L862.33 324.3L859.33 321.3Z" fill="#3f70ad"/><path d="M871.67 318.3L874.67 321.3L871.67 324.3L868.67 321.3Z" fill="#3f70ad"/><path d="M881.01 318.3L884.01 321.3L881.01 324.3L878.01 321.3Z" fill="#3f70ad"/><path d="M890.36 318.3L893.36 321.3L890.36 324.3L887.36 321.3Z" fill="#3f70ad"/><path d="M899.7 318.3L902.7 321.3L899.7 324.3L896.7 321.3Z" fill="#3f70ad"/><path d="M909.04 318.3L912.04 321.3L909.04 324.3L906.04 321.3Z" fill="#3f70ad"/><path d="M918.39 318.3L921.39 321.3L918.39 324.3L915.39 321.3Z" fill="#3f70ad"/><path d="M927.73 318.3L930.73 321.3L927.73 324.3L924.73 321.3Z" fill="#3f70ad"/><path d="M937.07 318.3L940.07 321.3L937.07 324.3L934.07 321.3Z" fill="#3f70ad"/><path d="M946.41 318.3L949.41 321.3L946.41 324.3L943.41 321.3Z" fill="#3f70ad"/><path d="M955.76 318.3L958.76 321.3L955.76 324.3L952.76 321.3Z" fill="#3f70ad"/><path d="M965.1 318.3L968.1 321.3L965.1 324.3L962.1 321.3Z" fill="#3f70ad"/><path d="M974.44 318.3L977.44 321.3L974.44 324.3L971.44 321.3Z" fill="#3f70ad"/><path d="M983.79 318.3L986.79 321.3L983.79 324.3L980.79 321.3Z" fill="#3f70ad"/><path d="M993.13 318.3L996.13 321.3L993.13 324.3L990.13 321.3Z" fill="#3f70ad"/><path d="M1002.47 318.3L1005.47 321.3L1002.47 324.3L999.47 321.3Z" fill="#3f70ad"/><path d="M1011.81 318.3L1014.81 321.3L1011.81 324.3L1008.81 321.3Z" fill="#3f70ad"/><path d="M1021.16 318.3L1024.16 321.3L1021.16 324.3L1018.16 321.3Z" fill="#3f70ad"/><path d="M1030.5 318.3L1033.5 321.3L1030.5 324.3L1027.5 321.3Z" fill="#3f70ad"/><path d="M1039.84 318.3L1042.84 321.3L1039.84 324.3L1036.84 321.3Z" fill="#3f70ad"/><path d="M1049.19 318.3L1052.19 321.3L1049.19 324.3L1046.19 321.3Z" fill="#3f70ad"/><path d="M1058.53 318.3L1061.53 321.3L1058.53 324.3L1055.53 321.3Z" fill="#3f70ad"/><path d="M1067.87 318.3L1070.87 321.3L1067.87 324.3L1064.87 321.3Z" fill="#3f70ad"/><path d="M1077.21 318.3L1080.21 321.3L1077.21 324.3L1074.21 321.3Z" fill="#3f70ad"/><path d="M1086.56 318.3L1089.56 321.3L1086.56 324.3L1083.56 321.3Z" fill="#3f70ad"/><path d="M1095.9 318.3L1098.9 321.3L1095.9 324.3L1092.9 321.3Z" fill="#3f70ad"/><path d="M1105.24 318.3L1108.24 321.3L1105.24 324.3L1102.24 321.3Z" fill="#3f70ad"/><path d="M1114.59 318.3L1117.59 321.3L1114.59 324.3L1111.59 321.3Z" fill="#3f70ad"/><path d="M1123.93 318.3L1126.93 321.3L1123.93 324.3L1120.93 321.3Z" fill="#3f70ad"/>
</g></g>
<path d="M1147 347.6H1173" stroke="#3f70ad" stroke-width="2.2"/>
<path d="M1160 344.6L1163 347.6L1160 350.6L1157 347.6Z" fill="#3f70ad"/>
<text x="1175 1193.31" y="353.4" font-size="16.2">米国</text>
<path d="M1147 371.9H1173" stroke="#4aaac6" stroke-width="2.6"/>
<rect x="1157" y="368.9" width="6" height="6" fill="#4aaac6"/>
<text x="1175 1193.31" y="377.7" font-size="16.2">中国</text>
<path d="M1147 396.2H1173" stroke="#8dae52" stroke-width="2.6"/>
<path d="M1160 392.7L1163.5 398.7L1156.5 398.7Z" fill="#8dae52"/>
<text x="1172.97 1187.11 1202.16" y="402" font-size="16.2">ドイツ</text>
<path d="M1147 420.5H1173" stroke="#77599b" stroke-width="2.2"/>
<path d="M1157.2 417.7L1162.8 423.3M1162.8 417.7L1157.2 423.3" stroke="#77599b" stroke-width="1.3"/>
<text x="1175 1193.31" y="426.3" font-size="16.2">英国</text>
<path d="M1147 444.8H1173" stroke="#c00000" stroke-width="3.0"/>
<rect x="1156.7" y="441.5" width="6.6" height="6.6" fill="#c00000"/>
<text x="1175 1193.31" y="450.6" font-size="16.2">日本</text>
<path d="M1147 469.1H1173" stroke="#e68a40" stroke-width="2.6"/>
<circle cx="1160" cy="469.1" r="3" fill="#e68a40"/>
<text x="1173.79 1188.94 1203.99 1219.96" y="474.9" font-size="16.2">フランス</text>
<path d="M1147 493.4H1173" stroke="#93b1d6" stroke-width="2.6"/>
<path d="M1160 490.9V495.9" stroke="#93b1d6" stroke-width="1"/>
<text x="1175 1193.31" y="499.2" font-size="16.2">韓国</text>
<circle cx="1244.3" cy="265.2" r="5.8" fill="none" stroke="#000" stroke-width="1.7"/>
<path d="M1259.5 488.4H1576" stroke="#8c8c8c" stroke-width="1.2"/>
<text x="1255.5" y="491.4" font-size="8.8" fill="#222" text-anchor="end" font-family="Liberation Serif, serif">0</text>
<text x="1580" y="491.4" font-size="8.8" fill="#222" font-family="Liberation Serif, serif">0%</text>
<path d="M1259.5 469.4H1576" stroke="#8c8c8c" stroke-width="1.2"/>
<text x="1255.5" y="472.4" font-size="8.8" fill="#222" text-anchor="end" font-family="Liberation Serif, serif">100</text>
<text x="1580" y="472.4" font-size="8.8" fill="#222" font-family="Liberation Serif, serif">10%</text>
<path d="M1259.5 450.4H1576" stroke="#8c8c8c" stroke-width="1.2"/>
<text x="1255.5" y="453.4" font-size="8.8" fill="#222" text-anchor="end" font-family="Liberation Serif, serif">200</text>
<text x="1580" y="453.4" font-size="8.8" fill="#222" font-family="Liberation Serif, serif">20%</text>
<path d="M1259.5 431.4H1576" stroke="#8c8c8c" stroke-width="1.2"/>
<text x="1255.5" y="434.4" font-size="8.8" fill="#222" text-anchor="end" font-family="Liberation Serif, serif">300</text>
<text x="1580" y="434.4" font-size="8.8" fill="#222" font-family="Liberation Serif, serif">30%</text>
<path d="M1259.5 412.4H1576" stroke="#8c8c8c" stroke-width="1.2"/>
<text x="1255.5" y="415.4" font-size="8.8" fill="#222" text-anchor="end" font-family="Liberation Serif, serif">400</text>
<text x="1580" y="415.4" font-size="8.8" fill="#222" font-family="Liberation Serif, serif">40%</text>
<path d="M1259.5 393.4H1576" stroke="#8c8c8c" stroke-width="1.2"/>
<text x="1255.5" y="396.4" font-size="8.8" fill="#222" text-anchor="end" font-family="Liberation Serif, serif">500</text>
<text x="1580" y="396.4" font-size="8.8" fill="#222" font-family="Liberation Serif, serif">50%</text>
<path d="M1259.5 374.4H1576" stroke="#8c8c8c" stroke-width="1.2"/>
<text x="1255.5" y="377.4" font-size="8.8" fill="#222" text-anchor="end" font-family="Liberation Serif, serif">600</text>
<text x="1580" y="377.4" font-size="8.8" fill="#222" font-family="Liberation Serif, serif">60%</text>
<path d="M1259.5 355.4H1576" stroke="#8c8c8c" stroke-width="1.2"/>
<text x="1255.5" y="358.4" font-size="8.8" fill="#222" text-anchor="end" font-family="Liberation Serif, serif">700</text>
<text x="1580" y="358.4" font-size="8.8" fill="#222" font-family="Liberation Serif, serif">70%</text>
<path d="M1259.5 336.4H1576" stroke="#8c8c8c" stroke-width="1.2"/>
<text x="1255.5" y="339.4" font-size="8.8" fill="#222" text-anchor="end" font-family="Liberation Serif, serif">800</text>
<text x="1580" y="339.4" font-size="8.8" fill="#222" font-family="Liberation Serif, serif">80%</text>
<path d="M1259.5 317.4H1576" stroke="#8c8c8c" stroke-width="1.2"/>
<text x="1255.5" y="320.4" font-size="8.8" fill="#222" text-anchor="end" font-family="Liberation Serif, serif">900</text>
<text x="1580" y="320.4" font-size="8.8" fill="#222" font-family="Liberation Serif, serif">90%</text>
<path d="M1259.5 298.4H1576" stroke="#8c8c8c" stroke-width="1.2"/>
<text x="1255.5" y="301.4" font-size="8.8" fill="#222" text-anchor="end" font-family="Liberation Serif, serif">1000</text>
<text x="1580" y="301.4" font-size="8.8" fill="#222" font-family="Liberation Serif, serif">100%</text>
<path d="M1262.5 298.4V488.4M1573 298.4V488.4" stroke="#8c8c8c" stroke-width="1"/>
<g fill="#4bacc6"><rect x="1263.3" y="374.4" width="4.3" height="114"/><rect x="1269.05" y="369.65" width="4.3" height="118.75"/><rect x="1274.8" y="357.68" width="4.3" height="130.72"/><rect x="1280.55" y="365.85" width="4.3" height="122.55"/><rect x="1286.3" y="343.05" width="4.3" height="145.35"/><rect x="1292.05" y="332.03" width="4.3" height="156.37"/><rect x="1297.8" y="328.23" width="4.3" height="160.17"/><rect x="1303.55" y="317.4" width="4.3" height="171"/><rect x="1315.05" y="378.58" width="4.3" height="109.82"/><rect x="1320.8" y="374.78" width="4.3" height="113.62"/><rect x="1326.55" y="363" width="4.3" height="125.4"/><rect x="1332.3" y="373.45" width="4.3" height="114.95"/><rect x="1338.05" y="354.45" width="4.3" height="133.95"/><rect x="1343.8" y="347.8" width="4.3" height="140.6"/><rect x="1349.55" y="343.05" width="4.3" height="145.35"/><rect x="1355.3" y="336.4" width="4.3" height="152"/><rect x="1366.8" y="445.65" width="4.3" height="42.75"/><rect x="1372.55" y="442.42" width="4.3" height="45.98"/><rect x="1378.3" y="438.05" width="4.3" height="50.35"/><rect x="1384.05" y="438.62" width="4.3" height="49.78"/><rect x="1389.8" y="436.15" width="4.3" height="52.25"/><rect x="1395.55" y="436.53" width="4.3" height="51.87"/><rect x="1401.3" y="436.53" width="4.3" height="51.87"/><rect x="1407.05" y="431.78" width="4.3" height="56.62"/><rect x="1418.55" y="424.37" width="4.3" height="64.03"/><rect x="1424.3" y="420.95" width="4.3" height="67.45"/><rect x="1430.05" y="414.87" width="4.3" height="73.53"/><rect x="1435.8" y="414.87" width="4.3" height="73.53"/><rect x="1441.55" y="395.3" width="4.3" height="93.1"/><rect x="1447.3" y="392.45" width="4.3" height="95.95"/><rect x="1453.05" y="387.7" width="4.3" height="100.7"/><rect x="1458.8" y="381.43" width="4.3" height="106.97"/><rect x="1470.3" y="431.02" width="4.3" height="57.38"/><rect x="1476.05" y="423.42" width="4.3" height="64.98"/><rect x="1481.8" y="419.62" width="4.3" height="68.78"/><rect x="1487.55" y="419.05" width="4.3" height="69.35"/><rect x="1493.3" y="403.47" width="4.3" height="84.93"/><rect x="1499.05" y="401.95" width="4.3" height="86.45"/><rect x="1504.8" y="400.05" width="4.3" height="88.35"/><rect x="1510.55" y="393.4" width="4.3" height="95"/><rect x="1522.05" y="475.48" width="4.3" height="12.92"/><rect x="1527.8" y="466.93" width="4.3" height="21.47"/><rect x="1533.55" y="458.95" width="4.3" height="29.45"/><rect x="1539.3" y="451.35" width="4.3" height="37.05"/><rect x="1545.05" y="439" width="4.3" height="49.4"/><rect x="1550.8" y="426.65" width="4.3" height="61.75"/><rect x="1556.55" y="420.95" width="4.3" height="67.45"/><rect x="1562.3" y="402.52" width="4.3" height="85.88"/></g>
<path d="M1317.2 304.29L1322.95 307.71L1328.7 305.81L1334.45 310.75L1340.2 313.6L1345.95 317.78L1351.7 316.26L1357.45 318.54" fill="none" stroke="#c0504d" stroke-width="1.6"/>
<circle cx="1317.2" cy="304.29" r="2.6" fill="#c0504d"/><circle cx="1322.95" cy="307.71" r="2.6" fill="#c0504d"/><circle cx="1328.7" cy="305.81" r="2.6" fill="#c0504d"/><circle cx="1334.45" cy="310.75" r="2.6" fill="#c0504d"/><circle cx="1340.2" cy="313.6" r="2.6" fill="#c0504d"/><circle cx="1345.95" cy="317.78" r="2.6" fill="#c0504d"/><circle cx="1351.7" cy="316.26" r="2.6" fill="#c0504d"/><circle cx="1357.45" cy="318.54" r="2.6" fill="#c0504d"/>
<path d="M1368.95 416.01L1374.7 415.06L1380.45 415.06L1386.2 411.07L1391.95 419.81L1397.7 425.32L1403.45 427.03L1409.2 425.32" fill="none" stroke="#c0504d" stroke-width="1.6"/>
<circle cx="1368.95" cy="416.01" r="2.6" fill="#c0504d"/><circle cx="1374.7" cy="415.06" r="2.6" fill="#c0504d"/><circle cx="1380.45" cy="415.06" r="2.6" fill="#c0504d"/><circle cx="1386.2" cy="411.07" r="2.6" fill="#c0504d"/><circle cx="1391.95" cy="419.81" r="2.6" fill="#c0504d"/><circle cx="1397.7" cy="425.32" r="2.6" fill="#c0504d"/><circle cx="1403.45" cy="427.03" r="2.6" fill="#c0504d"/><circle cx="1409.2" cy="425.32" r="2.6" fill="#c0504d"/>
<path d="M1420.7 382L1426.45 381.05L1432.2 381.62L1437.95 374.97L1443.7 367.94L1449.45 372.31L1455.2 369.08L1460.95 369.08" fill="none" stroke="#c0504d" stroke-width="1.6"/>
<circle cx="1420.7" cy="382" r="2.6" fill="#c0504d"/><circle cx="1426.45" cy="381.05" r="2.6" fill="#c0504d"/><circle cx="1432.2" cy="381.62" r="2.6" fill="#c0504d"/><circle cx="1437.95" cy="374.97" r="2.6" fill="#c0504d"/><circle cx="1443.7" cy="367.94" r="2.6" fill="#c0504d"/><circle cx="1449.45" cy="372.31" r="2.6" fill="#c0504d"/><circle cx="1455.2" cy="369.08" r="2.6" fill="#c0504d"/><circle cx="1460.95" cy="369.08" r="2.6" fill="#c0504d"/>
<path d="M1472.45 392.26L1478.2 384.85L1483.95 388.65L1489.7 380.86L1495.45 377.82L1501.2 383.71L1506.95 384.85L1512.7 382.57" fill="none" stroke="#c0504d" stroke-width="1.6"/>
<circle cx="1472.45" cy="392.26" r="2.6" fill="#c0504d"/><circle cx="1478.2" cy="384.85" r="2.6" fill="#c0504d"/><circle cx="1483.95" cy="388.65" r="2.6" fill="#c0504d"/><circle cx="1489.7" cy="380.86" r="2.6" fill="#c0504d"/><circle cx="1495.45" cy="377.82" r="2.6" fill="#c0504d"/><circle cx="1501.2" cy="383.71" r="2.6" fill="#c0504d"/><circle cx="1506.95" cy="384.85" r="2.6" fill="#c0504d"/><circle cx="1512.7" cy="382.57" r="2.6" fill="#c0504d"/>
<path d="M1524.2 466.36L1529.95 455.34L1535.7 445.08L1541.45 431.78L1547.2 423.8L1552.95 415.06L1558.7 408.41L1564.45 392.83" fill="none" stroke="#c0504d" stroke-width="1.6"/>
<circle cx="1524.2" cy="466.36" r="2.6" fill="#c0504d"/><circle cx="1529.95" cy="455.34" r="2.6" fill="#c0504d"/><circle cx="1535.7" cy="445.08" r="2.6" fill="#c0504d"/><circle cx="1541.45" cy="431.78" r="2.6" fill="#c0504d"/><circle cx="1547.2" cy="423.8" r="2.6" fill="#c0504d"/><circle cx="1552.95" cy="415.06" r="2.6" fill="#c0504d"/><circle cx="1558.7" cy="408.41" r="2.6" fill="#c0504d"/><circle cx="1564.45" cy="392.83" r="2.6" fill="#c0504d"/>
<text x="1309.5" y="298" font-size="9.2" fill="#222" font-family="Liberation Serif, serif">97%</text>
<text x="1349" y="311.5" font-size="9.2" fill="#222" font-family="Liberation Serif, serif">90%</text>
<text x="1360.8" y="408" font-size="9.2" fill="#222" font-family="Liberation Serif, serif">38%</text>
<text x="1387" y="400.5" font-size="9.2" fill="#222" font-family="Liberation Serif, serif">41%</text>
<text x="1403.3" y="419.5" font-size="9.2" fill="#222" font-family="Liberation Serif, serif">33%</text>
<text x="1412" y="372.8" font-size="9.2" fill="#222" font-family="Liberation Serif, serif">56%</text>
<text x="1456" y="363.3" font-size="9.2" fill="#222" font-family="Liberation Serif, serif">63%</text>
<text x="1464.9" y="383" font-size="9.2" fill="#222" font-family="Liberation Serif, serif">51%</text>
<text x="1509" y="375.5" font-size="9.2" fill="#222" font-family="Liberation Serif, serif">56%</text>
<text x="1516" y="458.3" font-size="9.2" fill="#222" font-family="Liberation Serif, serif">12%</text>
<text x="1555.8" y="385" font-size="9.2" fill="#222" font-family="Liberation Serif, serif">51%</text>
<path d="M1392 402L1384 410M1566.5 388L1565 394" stroke="#333" stroke-width="0.8"/>
<rect x="1419.4" y="307" width="17.6" height="5" fill="#4bacc6"/>
<text x="1439" y="313" font-size="8.6" fill="#444">領域数</text>
<path d="M1479.5 309.5H1497" stroke="#c0504d" stroke-width="1.6"/><circle cx="1488.3" cy="309.5" r="2.4" fill="#c0504d"/>
<text x="1498.6" y="313" font-size="8.3" fill="#444">参画割合(右軸)</text>
<text x="1401.8" y="331.5" font-size="7.6" fill="#444" textLength="164" lengthAdjust="spacing">左からサイエンスマップ2002〜2016(2年おき)の 値</text>
<text x="1263.5" y="500.8" font-size="8.8" fill="#222" font-family="Liberation Serif, serif">02</text>
<text x="1301.25" y="500.8" font-size="8.8" fill="#222" font-family="Liberation Serif, serif">16 02</text>
<text x="1353" y="500.8" font-size="8.8" fill="#222" font-family="Liberation Serif, serif">16 02</text>
<text x="1404.75" y="500.8" font-size="8.8" fill="#222" font-family="Liberation Serif, serif">16 02</text>
<text x="1456.5" y="500.8" font-size="8.8" fill="#222" font-family="Liberation Serif, serif">16 02</text>
<text x="1508.25" y="500.8" font-size="8.8" fill="#222" font-family="Liberation Serif, serif">16 02</text>
<text x="1559" y="500.8" font-size="8.8" fill="#222" font-family="Liberation Serif, serif">16</text>
<text x="1277" y="515.5" font-size="9.2" font-weight="bold" fill="#111">世界</text>
<text x="1330" y="515.5" font-size="9.2" font-weight="bold" fill="#111">米国</text>
<text x="1381" y="515.5" font-size="9.2" font-weight="bold" fill="#111">日本</text>
<text x="1435.5" y="515.5" font-size="9.2" font-weight="bold" fill="#111">英国</text>
<text x="1481" y="515.5" font-size="9.2" font-weight="bold" fill="#111">ドイツ</text>
<text x="1538" y="515.5" font-size="9.2" font-weight="bold" fill="#111">中国</text>
<text transform="translate(1232.5 393) rotate(-90)" font-size="10" font-weight="bold" text-anchor="middle">領域数</text>
<text transform="translate(1605 393.5) rotate(90)" font-size="10.5" font-weight="bold" text-anchor="middle">参画割合</text>
<rect x="18.6" y="682" width="396.9" height="241.6" fill="#fff" stroke="#a6a6a6" stroke-width="1.2"/>
<path d="M185.2 694V912.3" stroke="#a8a8a8" stroke-width="1"/>
<path d="M179.2 694H185.2M179.2 713.85H185.2M179.2 733.7H185.2M179.2 753.55H185.2M179.2 773.4H185.2M179.2 793.25H185.2M179.2 813.1H185.2M179.2 832.95H185.2M179.2 852.8H185.2M179.2 872.65H185.2M179.2 892.5H185.2M179.2 912.35H185.2" stroke="#b4b4b4" stroke-width="1"/>
<rect x="185.7" y="700.2" width="194.06" height="7.6" fill="#4f81bd"/>
<text x="383.76" y="707.3" font-size="9.3" fill="#333">6.24%</text>
<text x="174.5" y="707.8" font-size="10.3" fill="#333" text-anchor="end">ロックフェラー大学</text>
<rect x="185.7" y="720" width="164.83" height="7.6" fill="#4f81bd"/>
<text x="354.53" y="727.1" font-size="9.3" fill="#333">5.30%</text>
<text x="174.5" y="727.6" font-size="10.3" fill="#333" text-anchor="end">マサチューセッツ工科大学</text>
<rect x="185.7" y="739.8" width="143.99" height="7.6" fill="#ff0000"/>
<text x="333.69" y="746.9" font-size="9.3" fill="#333">4.63%</text>
<text x="174.5" y="747.4" font-size="10.3" fill="#333" text-anchor="end">WPI 5拠点の平均値</text>
<rect x="185.7" y="759.6" width="136.84" height="7.6" fill="#4f81bd"/>
<text x="326.54" y="766.7" font-size="9.3" fill="#333">4.40%</text>
<text x="174.5" y="767.2" font-size="10.3" fill="#333" text-anchor="end">カリフォルニア工科大学</text>
<rect x="185.7" y="779.4" width="136.53" height="7.6" fill="#4f81bd"/>
<text x="326.23" y="786.5" font-size="9.3" fill="#333">4.39%</text>
<text x="174.5" y="787" font-size="10.3" fill="#333" text-anchor="end">ハーバード大学</text>
<rect x="185.7" y="799.2" width="128.75" height="7.6" fill="#4f81bd"/>
<text x="318.45" y="806.3" font-size="9.3" fill="#333">4.14%</text>
<text x="174.5" y="806.8" font-size="10.3" fill="#333" text-anchor="end">スタンフォード大学</text>
<rect x="185.7" y="819" width="127.82" height="7.6" fill="#4f81bd"/>
<text x="317.52" y="826.1" font-size="9.3" fill="#333">4.11%</text>
<text x="174.5" y="826.6" font-size="10.3" fill="#333" text-anchor="end">カリフォルニア大学バークレー校</text>
<rect x="185.7" y="838.8" width="124.4" height="7.6" fill="#4f81bd"/>
<text x="314.1" y="845.9" font-size="9.3" fill="#333">4.00%</text>
<text x="174.5" y="846.4" font-size="10.3" fill="#333" text-anchor="end">プリンストン大学</text>
<rect x="185.7" y="858.6" width="98.9" height="7.6" fill="#4f81bd"/>
<text x="288.6" y="865.7" font-size="9.3" fill="#333">3.18%</text>
<text x="174.5" y="866.2" font-size="10.3" fill="#333" text-anchor="end">オックスフォード大学</text>
<rect x="185.7" y="878.4" width="97.03" height="7.6" fill="#4f81bd"/>
<text x="286.73" y="885.5" font-size="9.3" fill="#333">3.12%</text>
<text x="174.5" y="886" font-size="10.3" fill="#333" text-anchor="end">ケンブリッジ大学</text>
<rect x="185.7" y="898.2" width="96.41" height="7.6" fill="#4f81bd"/>
<text x="286.11" y="905.3" font-size="9.3" fill="#333">3.10%</text>
<text x="174.5" y="905.8" font-size="10.3" fill="#333" text-anchor="end">マックスプランク協会</text>
<text x="463.6" y="907.6" font-size="9.6" fill="#333" text-anchor="end">0</text>
<path d="M476.1 873.7H778.5" stroke="#bfbfbf" stroke-width="1"/>
<text x="463.6" y="877" font-size="9.6" fill="#333" text-anchor="end">10,000</text>
<path d="M476.1 843.1H778.5" stroke="#bfbfbf" stroke-width="1"/>
<text x="463.6" y="846.4" font-size="9.6" fill="#333" text-anchor="end">20,000</text>
<path d="M476.1 812.5H778.5" stroke="#bfbfbf" stroke-width="1"/>
<text x="463.6" y="815.8" font-size="9.6" fill="#333" text-anchor="end">30,000</text>
<path d="M476.1 781.9H778.5" stroke="#bfbfbf" stroke-width="1"/>
<text x="463.6" y="785.2" font-size="9.6" fill="#333" text-anchor="end">40,000</text>
<path d="M476.1 751.3H778.5" stroke="#bfbfbf" stroke-width="1"/>
<text x="463.6" y="754.6" font-size="9.6" fill="#333" text-anchor="end">50,000</text>
<path d="M476.1 720.7H778.5" stroke="#bfbfbf" stroke-width="1"/>
<text x="463.6" y="724" font-size="9.6" fill="#333" text-anchor="end">60,000</text>
<path d="M476.1 690.1H778.5" stroke="#bfbfbf" stroke-width="1"/>
<text x="463.6" y="693.4" font-size="9.6" fill="#333" text-anchor="end">70,000</text>
<g fill="#c0504d"><rect x="476.8" y="886.61" width="7.24" height="17.69"/><rect x="485.44" y="886.25" width="7.24" height="18.05"/><rect x="494.08" y="885.63" width="7.24" height="18.67"/><rect x="502.72" y="885.24" width="7.24" height="19.06"/><rect x="511.36" y="884.65" width="7.24" height="19.65"/><rect x="520" y="884.07" width="7.24" height="20.23"/><rect x="528.64" y="883.68" width="7.24" height="20.62"/><rect x="537.28" y="883.28" width="7.24" height="21.02"/><rect x="545.92" y="882.3" width="7.24" height="22"/><rect x="554.56" y="881.72" width="7.24" height="22.58"/><rect x="563.2" y="881.72" width="7.24" height="22.58"/><rect x="571.84" y="880.74" width="7.24" height="23.56"/><rect x="580.48" y="879.76" width="7.24" height="24.54"/><rect x="589.12" y="877.8" width="7.24" height="26.5"/><rect x="597.76" y="875.44" width="7.24" height="28.86"/><rect x="606.4" y="873.46" width="7.24" height="30.84"/><rect x="615.04" y="872.29" width="7.24" height="32.01"/><rect x="623.68" y="871.89" width="7.24" height="32.41"/><rect x="632.32" y="871.5" width="7.24" height="32.8"/><rect x="640.96" y="870.92" width="7.24" height="33.38"/><rect x="649.6" y="870.61" width="7.24" height="33.69"/><rect x="658.24" y="869.66" width="7.24" height="34.64"/><rect x="666.88" y="868.71" width="7.24" height="35.59"/><rect x="675.52" y="869.29" width="7.24" height="35.01"/><rect x="684.16" y="870.06" width="7.24" height="34.24"/><rect x="692.8" y="870.61" width="7.24" height="33.69"/><rect x="701.44" y="870.61" width="7.24" height="33.69"/><rect x="710.08" y="871.25" width="7.24" height="33.05"/><rect x="718.72" y="871.25" width="7.24" height="33.05"/><rect x="727.36" y="871.25" width="7.24" height="33.05"/><rect x="736" y="871.25" width="7.24" height="33.05"/><rect x="744.64" y="871.62" width="7.24" height="32.68"/><rect x="753.28" y="872.02" width="7.24" height="32.28"/><rect x="761.92" y="872.6" width="7.24" height="31.7"/><rect x="770.56" y="872.21" width="7.24" height="32.09"/></g>
<g fill="#9bbb59"><rect x="476.8" y="869.94" width="7.24" height="16.68"/><rect x="485.44" y="868.35" width="7.24" height="17.9"/><rect x="494.08" y="867.58" width="7.24" height="18.05"/><rect x="502.72" y="866.97" width="7.24" height="18.27"/><rect x="511.36" y="865.01" width="7.24" height="19.65"/><rect x="520" y="863.45" width="7.24" height="20.62"/><rect x="528.64" y="862.07" width="7.24" height="21.6"/><rect x="537.28" y="860.69" width="7.24" height="22.58"/><rect x="545.92" y="858.52" width="7.24" height="23.78"/><rect x="554.56" y="857.18" width="7.24" height="24.54"/><rect x="563.2" y="855.8" width="7.24" height="25.92"/><rect x="571.84" y="854.21" width="7.24" height="26.53"/><rect x="580.48" y="852.25" width="7.24" height="27.51"/><rect x="589.12" y="847.35" width="7.24" height="30.45"/><rect x="597.76" y="843.41" width="7.24" height="32.04"/><rect x="606.4" y="838.51" width="7.24" height="34.95"/><rect x="615.04" y="837.53" width="7.24" height="34.76"/><rect x="623.68" y="835.57" width="7.24" height="36.32"/><rect x="632.32" y="834.56" width="7.24" height="36.93"/><rect x="640.96" y="833.58" width="7.24" height="37.33"/><rect x="649.6" y="833.52" width="7.24" height="37.09"/><rect x="658.24" y="831.01" width="7.24" height="38.65"/><rect x="666.88" y="829.64" width="7.24" height="39.08"/><rect x="675.52" y="830.22" width="7.24" height="39.08"/><rect x="684.16" y="831.59" width="7.24" height="38.46"/><rect x="692.8" y="832.57" width="7.24" height="38.04"/><rect x="701.44" y="833.52" width="7.24" height="37.09"/><rect x="710.08" y="834.13" width="7.24" height="37.12"/><rect x="718.72" y="834.53" width="7.24" height="36.72"/><rect x="727.36" y="834.9" width="7.24" height="36.35"/><rect x="736" y="833.52" width="7.24" height="37.73"/><rect x="744.64" y="834.13" width="7.24" height="37.48"/><rect x="753.28" y="834.53" width="7.24" height="37.48"/><rect x="761.92" y="834.9" width="7.24" height="37.7"/><rect x="770.56" y="834.76" width="7.24" height="37.45"/></g>
<g fill="#8064a2"><rect x="476.8" y="859.13" width="7.24" height="10.8"/><rect x="485.44" y="857.76" width="7.24" height="10.59"/><rect x="494.08" y="856.2" width="7.24" height="11.38"/><rect x="502.72" y="854.21" width="7.24" height="12.76"/><rect x="511.36" y="852.25" width="7.24" height="12.76"/><rect x="520" y="849.31" width="7.24" height="14.14"/><rect x="528.64" y="846.37" width="7.24" height="15.7"/><rect x="537.28" y="845.36" width="7.24" height="15.33"/><rect x="545.92" y="842.03" width="7.24" height="16.49"/><rect x="554.56" y="840.07" width="7.24" height="17.11"/><rect x="563.2" y="836.55" width="7.24" height="19.25"/><rect x="571.84" y="834.56" width="7.24" height="19.65"/><rect x="580.48" y="832.21" width="7.24" height="20.04"/><rect x="589.12" y="824.77" width="7.24" height="22.58"/><rect x="597.76" y="817.89" width="7.24" height="25.52"/><rect x="606.4" y="811.98" width="7.24" height="26.53"/><rect x="615.04" y="809.04" width="7.24" height="28.49"/><rect x="623.68" y="806.1" width="7.24" height="29.47"/><rect x="632.32" y="805.13" width="7.24" height="29.44"/><rect x="640.96" y="804.15" width="7.24" height="29.44"/><rect x="649.6" y="805.22" width="7.24" height="28.3"/><rect x="658.24" y="802.28" width="7.24" height="28.73"/><rect x="666.88" y="801.73" width="7.24" height="27.91"/><rect x="675.52" y="802.28" width="7.24" height="27.94"/><rect x="684.16" y="802.86" width="7.24" height="28.73"/><rect x="692.8" y="804.24" width="7.24" height="28.34"/><rect x="701.44" y="805.22" width="7.24" height="28.3"/><rect x="710.08" y="806.78" width="7.24" height="27.36"/><rect x="718.72" y="807.18" width="7.24" height="27.36"/><rect x="727.36" y="807.18" width="7.24" height="27.72"/><rect x="736" y="805.62" width="7.24" height="27.91"/><rect x="744.64" y="806.2" width="7.24" height="27.94"/><rect x="753.28" y="806.78" width="7.24" height="27.75"/><rect x="761.92" y="807.18" width="7.24" height="27.72"/><rect x="770.56" y="807.51" width="7.24" height="27.25"/></g>
<g fill="#4bacc6"><rect x="476.8" y="847.35" width="7.24" height="11.78"/><rect x="485.44" y="845.36" width="7.24" height="12.39"/><rect x="494.08" y="842.03" width="7.24" height="14.17"/><rect x="502.72" y="837.93" width="7.24" height="16.28"/><rect x="511.36" y="834.96" width="7.24" height="17.29"/><rect x="520" y="831.62" width="7.24" height="17.69"/><rect x="528.64" y="827.71" width="7.24" height="18.67"/><rect x="537.28" y="824.74" width="7.24" height="20.62"/><rect x="545.92" y="820.43" width="7.24" height="21.6"/><rect x="554.56" y="816.91" width="7.24" height="23.16"/><rect x="563.2" y="812.59" width="7.24" height="23.96"/><rect x="571.84" y="809.04" width="7.24" height="25.52"/><rect x="580.48" y="805.13" width="7.24" height="27.08"/><rect x="589.12" y="795.3" width="7.24" height="29.47"/><rect x="597.76" y="785.48" width="7.24" height="32.41"/><rect x="606.4" y="775.66" width="7.24" height="36.32"/><rect x="615.04" y="771.74" width="7.24" height="37.3"/><rect x="623.68" y="766.81" width="7.24" height="39.29"/><rect x="632.32" y="765.44" width="7.24" height="39.69"/><rect x="640.96" y="763.48" width="7.24" height="40.67"/><rect x="649.6" y="763.82" width="7.24" height="41.4"/><rect x="658.24" y="761.89" width="7.24" height="40.39"/><rect x="666.88" y="760.72" width="7.24" height="41"/><rect x="675.52" y="761.31" width="7.24" height="40.97"/><rect x="684.16" y="761.89" width="7.24" height="40.97"/><rect x="692.8" y="764.21" width="7.24" height="40.02"/><rect x="701.44" y="766.17" width="7.24" height="39.05"/><rect x="710.08" y="767.73" width="7.24" height="39.05"/><rect x="718.72" y="768.13" width="7.24" height="39.05"/><rect x="727.36" y="767.73" width="7.24" height="39.44"/><rect x="736" y="765.19" width="7.24" height="40.42"/><rect x="744.64" y="765.19" width="7.24" height="41"/><rect x="753.28" y="766.17" width="7.24" height="40.61"/><rect x="761.92" y="767.73" width="7.24" height="39.44"/><rect x="770.56" y="767.37" width="7.24" height="40.14"/></g>
<g fill="#f79646"><rect x="476.8" y="845" width="7.24" height="2.36"/><rect x="485.44" y="842.82" width="7.24" height="2.54"/><rect x="494.08" y="839.49" width="7.24" height="2.54"/><rect x="502.72" y="835.57" width="7.24" height="2.36"/><rect x="511.36" y="832.21" width="7.24" height="2.75"/><rect x="520" y="828.69" width="7.24" height="2.94"/><rect x="528.64" y="824.74" width="7.24" height="2.97"/><rect x="537.28" y="820.43" width="7.24" height="4.31"/><rect x="545.92" y="816.91" width="7.24" height="3.52"/><rect x="554.56" y="812.59" width="7.24" height="4.31"/><rect x="563.2" y="808.06" width="7.24" height="4.53"/><rect x="571.84" y="804.15" width="7.24" height="4.9"/><rect x="580.48" y="800.2" width="7.24" height="4.93"/><rect x="589.12" y="790.38" width="7.24" height="4.93"/><rect x="597.76" y="780.55" width="7.24" height="4.93"/><rect x="606.4" y="769.75" width="7.24" height="5.91"/><rect x="615.04" y="764.86" width="7.24" height="6.88"/><rect x="623.68" y="759.56" width="7.24" height="7.25"/><rect x="632.32" y="757.97" width="7.24" height="7.47"/><rect x="640.96" y="756.41" width="7.24" height="7.07"/><rect x="649.6" y="756.41" width="7.24" height="7.41"/><rect x="658.24" y="752.92" width="7.24" height="8.97"/><rect x="666.88" y="752.52" width="7.24" height="8.2"/><rect x="675.52" y="753.5" width="7.24" height="7.8"/><rect x="684.16" y="754.48" width="7.24" height="7.41"/><rect x="692.8" y="757.39" width="7.24" height="6.82"/><rect x="701.44" y="759.32" width="7.24" height="6.85"/><rect x="710.08" y="761.89" width="7.24" height="5.84"/><rect x="718.72" y="762.65" width="7.24" height="5.48"/><rect x="727.36" y="762.29" width="7.24" height="5.45"/><rect x="736" y="758.4" width="7.24" height="6.79"/><rect x="744.64" y="758.8" width="7.24" height="6.4"/><rect x="753.28" y="760.36" width="7.24" height="5.81"/><rect x="761.92" y="761.31" width="7.24" height="6.43"/><rect x="770.56" y="759.94" width="7.24" height="7.43"/></g>
<g fill="#e6b9b8"><rect x="476.8" y="838.51" width="7.24" height="6.49"/><rect x="485.44" y="834.96" width="7.24" height="7.86"/><rect x="494.08" y="831.62" width="7.24" height="7.86"/><rect x="502.72" y="827.71" width="7.24" height="7.86"/><rect x="511.36" y="824.37" width="7.24" height="7.83"/><rect x="520" y="819.84" width="7.24" height="8.84"/><rect x="528.64" y="814.95" width="7.24" height="9.79"/><rect x="537.28" y="810.02" width="7.24" height="10.4"/><rect x="545.92" y="805.13" width="7.24" height="11.78"/><rect x="554.56" y="800.2" width="7.24" height="12.39"/><rect x="563.2" y="796.28" width="7.24" height="11.78"/><rect x="571.84" y="791.36" width="7.24" height="12.79"/><rect x="580.48" y="786.46" width="7.24" height="13.74"/><rect x="589.12" y="773.7" width="7.24" height="16.68"/><rect x="597.76" y="762.9" width="7.24" height="17.66"/><rect x="606.4" y="749.13" width="7.24" height="20.62"/><rect x="615.04" y="744.23" width="7.24" height="20.62"/><rect x="623.68" y="736.37" width="7.24" height="23.19"/><rect x="632.32" y="733.43" width="7.24" height="24.54"/><rect x="640.96" y="732.05" width="7.24" height="24.36"/><rect x="649.6" y="727.13" width="7.24" height="29.28"/><rect x="658.24" y="724.22" width="7.24" height="28.7"/><rect x="666.88" y="723.24" width="7.24" height="29.28"/><rect x="675.52" y="724.22" width="7.24" height="29.28"/><rect x="684.16" y="727.13" width="7.24" height="27.36"/><rect x="692.8" y="729.08" width="7.24" height="28.3"/><rect x="701.44" y="731.01" width="7.24" height="28.3"/><rect x="710.08" y="732.57" width="7.24" height="29.31"/><rect x="718.72" y="732.57" width="7.24" height="30.08"/><rect x="727.36" y="731.99" width="7.24" height="30.29"/><rect x="736" y="728.69" width="7.24" height="29.71"/><rect x="744.64" y="728.69" width="7.24" height="30.11"/><rect x="753.28" y="730.61" width="7.24" height="29.74"/><rect x="761.92" y="731.41" width="7.24" height="29.9"/><rect x="770.56" y="731.82" width="7.24" height="28.12"/></g>
<g fill="#c3d69b"><rect x="476.8" y="829.09" width="7.24" height="9.42"/><rect x="485.44" y="826.12" width="7.24" height="8.84"/><rect x="494.08" y="820.43" width="7.24" height="11.2"/><rect x="502.72" y="815.93" width="7.24" height="11.78"/><rect x="511.36" y="810.02" width="7.24" height="14.35"/><rect x="520" y="805.52" width="7.24" height="14.32"/><rect x="528.64" y="799.62" width="7.24" height="15.33"/><rect x="537.28" y="794.32" width="7.24" height="15.7"/><rect x="545.92" y="786.86" width="7.24" height="18.27"/><rect x="554.56" y="781.17" width="7.24" height="19.03"/><rect x="563.2" y="774.68" width="7.24" height="21.6"/><rect x="571.84" y="768.77" width="7.24" height="22.58"/><rect x="580.48" y="763.88" width="7.24" height="22.58"/><rect x="589.12" y="751.12" width="7.24" height="22.58"/><rect x="597.76" y="739.34" width="7.24" height="23.56"/><rect x="606.4" y="725.57" width="7.24" height="23.56"/><rect x="615.04" y="720.67" width="7.24" height="23.56"/><rect x="623.68" y="714.76" width="7.24" height="21.6"/><rect x="632.32" y="711.83" width="7.24" height="21.6"/><rect x="640.96" y="710.45" width="7.24" height="21.6"/><rect x="649.6" y="710.54" width="7.24" height="16.59"/><rect x="658.24" y="708" width="7.24" height="16.22"/><rect x="666.88" y="706.65" width="7.24" height="16.59"/><rect x="675.52" y="707.6" width="7.24" height="16.62"/><rect x="684.16" y="709.56" width="7.24" height="17.56"/><rect x="692.8" y="711.49" width="7.24" height="17.59"/><rect x="701.44" y="714.43" width="7.24" height="16.59"/><rect x="710.08" y="716.39" width="7.24" height="16.19"/><rect x="718.72" y="717.76" width="7.24" height="14.81"/><rect x="727.36" y="717.36" width="7.24" height="14.63"/><rect x="736" y="715.41" width="7.24" height="13.28"/><rect x="744.64" y="715.41" width="7.24" height="13.28"/><rect x="753.28" y="718.34" width="7.24" height="12.27"/><rect x="761.92" y="720.3" width="7.24" height="11.11"/><rect x="770.56" y="720.43" width="7.24" height="11.39"/></g>
<g fill="#b3a2c7"><rect x="476.8" y="827.79" width="7.24" height="1.29"/><rect x="485.44" y="824.84" width="7.24" height="1.28"/><rect x="494.08" y="819.42" width="7.24" height="1.01"/><rect x="502.72" y="814.26" width="7.24" height="1.67"/><rect x="511.36" y="808.64" width="7.24" height="1.38"/><rect x="520" y="803.77" width="7.24" height="1.75"/><rect x="528.64" y="798.05" width="7.24" height="1.57"/><rect x="537.28" y="792.76" width="7.24" height="1.57"/><rect x="545.92" y="785.1" width="7.24" height="1.75"/><rect x="554.56" y="779.5" width="7.24" height="1.67"/><rect x="563.2" y="772.82" width="7.24" height="1.86"/><rect x="571.84" y="766.93" width="7.24" height="1.84"/><rect x="580.48" y="761.56" width="7.24" height="2.32"/><rect x="589.12" y="748.34" width="7.24" height="2.78"/><rect x="597.76" y="736.1" width="7.24" height="3.24"/><rect x="606.4" y="722.34" width="7.24" height="3.22"/><rect x="615.04" y="716.97" width="7.24" height="3.7"/><rect x="623.68" y="710.89" width="7.24" height="3.87"/><rect x="632.32" y="708.13" width="7.24" height="3.7"/><rect x="640.96" y="706.48" width="7.24" height="3.97"/><rect x="649.6" y="705.95" width="7.24" height="4.59"/><rect x="658.24" y="703.23" width="7.24" height="4.77"/><rect x="666.88" y="702.07" width="7.24" height="4.59"/><rect x="675.52" y="703.02" width="7.24" height="4.59"/><rect x="684.16" y="704.79" width="7.24" height="4.77"/><rect x="692.8" y="706.9" width="7.24" height="4.59"/><rect x="701.44" y="709.84" width="7.24" height="4.59"/><rect x="710.08" y="711.78" width="7.24" height="4.6"/><rect x="718.72" y="713.17" width="7.24" height="4.59"/><rect x="727.36" y="712.96" width="7.24" height="4.4"/><rect x="736" y="710.65" width="7.24" height="4.76"/><rect x="744.64" y="711.29" width="7.24" height="4.11"/><rect x="753.28" y="713.76" width="7.24" height="4.59"/><rect x="761.92" y="715.71" width="7.24" height="4.59"/><rect x="770.56" y="715.2" width="7.24" height="5.23"/></g>
<g fill="#a5d5e2"><rect x="476.8" y="826.33" width="7.24" height="1.46"/><rect x="485.44" y="823.39" width="7.24" height="1.44"/><rect x="494.08" y="818.28" width="7.24" height="1.14"/><rect x="502.72" y="812.38" width="7.24" height="1.88"/><rect x="511.36" y="807.08" width="7.24" height="1.56"/><rect x="520" y="801.79" width="7.24" height="1.98"/><rect x="528.64" y="796.28" width="7.24" height="1.77"/><rect x="537.28" y="790.99" width="7.24" height="1.77"/><rect x="545.92" y="783.12" width="7.24" height="1.98"/><rect x="554.56" y="777.62" width="7.24" height="1.88"/><rect x="563.2" y="770.73" width="7.24" height="2.09"/><rect x="571.84" y="764.86" width="7.24" height="2.08"/><rect x="580.48" y="758.95" width="7.24" height="2.61"/><rect x="589.12" y="745.21" width="7.24" height="3.13"/><rect x="597.76" y="732.45" width="7.24" height="3.65"/><rect x="606.4" y="718.71" width="7.24" height="3.63"/><rect x="615.04" y="712.81" width="7.24" height="4.17"/><rect x="623.68" y="706.53" width="7.24" height="4.36"/><rect x="632.32" y="703.96" width="7.24" height="4.17"/><rect x="640.96" y="702" width="7.24" height="4.48"/><rect x="649.6" y="700.78" width="7.24" height="5.17"/><rect x="658.24" y="697.84" width="7.24" height="5.38"/><rect x="666.88" y="696.89" width="7.24" height="5.17"/><rect x="675.52" y="697.84" width="7.24" height="5.17"/><rect x="684.16" y="699.4" width="7.24" height="5.38"/><rect x="692.8" y="701.73" width="7.24" height="5.17"/><rect x="701.44" y="704.67" width="7.24" height="5.17"/><rect x="710.08" y="706.59" width="7.24" height="5.19"/><rect x="718.72" y="708" width="7.24" height="5.17"/><rect x="727.36" y="708" width="7.24" height="4.96"/><rect x="736" y="705.28" width="7.24" height="5.37"/><rect x="744.64" y="706.65" width="7.24" height="4.64"/><rect x="753.28" y="708.58" width="7.24" height="5.17"/><rect x="761.92" y="710.54" width="7.24" height="5.17"/><rect x="770.56" y="709.3" width="7.24" height="5.9"/></g>
<rect x="476.1" y="690.1" width="302.4" height="214.2" fill="none" stroke="#a6a6a6" stroke-width="1.2"/>
<path d="M476.1 904.3V907.8M484.74 904.3V907.8M493.38 904.3V907.8M502.02 904.3V907.8M510.66 904.3V907.8M519.3 904.3V907.8M527.94 904.3V907.8M536.58 904.3V907.8M545.22 904.3V907.8M553.86 904.3V907.8M562.5 904.3V907.8M571.14 904.3V907.8M579.78 904.3V907.8M588.42 904.3V907.8M597.06 904.3V907.8M605.7 904.3V907.8M614.34 904.3V907.8M622.98 904.3V907.8M631.62 904.3V907.8M640.26 904.3V907.8M648.9 904.3V907.8M657.54 904.3V907.8M666.18 904.3V907.8M674.82 904.3V907.8M683.46 904.3V907.8M692.1 904.3V907.8M700.74 904.3V907.8M709.38 904.3V907.8M718.02 904.3V907.8M726.66 904.3V907.8M735.3 904.3V907.8M743.94 904.3V907.8M752.58 904.3V907.8M761.22 904.3V907.8M769.86 904.3V907.8M778.5 904.3V907.8" stroke="#8c8c8c" stroke-width="1"/>
<text transform="translate(484.02 911.6) rotate(-90)" font-size="11.1" text-anchor="end" fill="#000" font-family="Liberation Serif, serif">1982</text>
<text transform="translate(500.79 911.6) rotate(-90)" font-size="11.1" text-anchor="end" fill="#000" font-family="Liberation Serif, serif">1984</text>
<text transform="translate(517.56 911.6) rotate(-90)" font-size="11.1" text-anchor="end" fill="#000" font-family="Liberation Serif, serif">1986</text>
<text transform="translate(534.34 911.6) rotate(-90)" font-size="11.1" text-anchor="end" fill="#000" font-family="Liberation Serif, serif">1988</text>
<text transform="translate(551.11 911.6) rotate(-90)" font-size="11.1" text-anchor="end" fill="#000" font-family="Liberation Serif, serif">1990</text>
<text transform="translate(567.88 911.6) rotate(-90)" font-size="11.1" text-anchor="end" fill="#000" font-family="Liberation Serif, serif">1992</text>
<text transform="translate(584.65 911.6) rotate(-90)" font-size="11.1" text-anchor="end" fill="#000" font-family="Liberation Serif, serif">1994</text>
<text transform="translate(601.42 911.6) rotate(-90)" font-size="11.1" text-anchor="end" fill="#000" font-family="Liberation Serif, serif">1996</text>
<text transform="translate(618.19 911.6) rotate(-90)" font-size="11.1" text-anchor="end" fill="#000" font-family="Liberation Serif, serif">1998</text>
<text transform="translate(634.97 911.6) rotate(-90)" font-size="11.1" text-anchor="end" fill="#000" font-family="Liberation Serif, serif">2000</text>
<text transform="translate(651.74 911.6) rotate(-90)" font-size="11.1" text-anchor="end" fill="#000" font-family="Liberation Serif, serif">2002</text>
<text transform="translate(668.51 911.6) rotate(-90)" font-size="11.1" text-anchor="end" fill="#000" font-family="Liberation Serif, serif">2004</text>
<text transform="translate(685.28 911.6) rotate(-90)" font-size="11.1" text-anchor="end" fill="#000" font-family="Liberation Serif, serif">2006</text>
<text transform="translate(702.05 911.6) rotate(-90)" font-size="11.1" text-anchor="end" fill="#000" font-family="Liberation Serif, serif">2008</text>
<text transform="translate(718.82 911.6) rotate(-90)" font-size="11.1" text-anchor="end" fill="#000" font-family="Liberation Serif, serif">2010</text>
<text transform="translate(735.6 911.6) rotate(-90)" font-size="11.1" text-anchor="end" fill="#000" font-family="Liberation Serif, serif">2012</text>
<text transform="translate(752.37 911.6) rotate(-90)" font-size="11.1" text-anchor="end" fill="#000" font-family="Liberation Serif, serif">2014</text>
<text transform="translate(769.14 911.6) rotate(-90)" font-size="11.1" text-anchor="end" fill="#000" font-family="Liberation Serif, serif">2016</text>
<text x="862.8" y="908.5" font-size="9.6" fill="#333" text-anchor="end">0</text>
<path d="M875.3 883.7H1180.2" stroke="#bfbfbf" stroke-width="1"/>
<text x="862.8" y="887" font-size="9.6" fill="#333" text-anchor="end">500</text>
<path d="M875.3 862.2H1180.2" stroke="#bfbfbf" stroke-width="1"/>
<text x="862.8" y="865.5" font-size="9.6" fill="#333" text-anchor="end">1,000</text>
<path d="M875.3 840.7H1180.2" stroke="#bfbfbf" stroke-width="1"/>
<text x="862.8" y="844" font-size="9.6" fill="#333" text-anchor="end">1,500</text>
<path d="M875.3 819.2H1180.2" stroke="#bfbfbf" stroke-width="1"/>
<text x="862.8" y="822.5" font-size="9.6" fill="#333" text-anchor="end">2,000</text>
<path d="M875.3 797.7H1180.2" stroke="#bfbfbf" stroke-width="1"/>
<text x="862.8" y="801" font-size="9.6" fill="#333" text-anchor="end">2,500</text>
<path d="M875.3 776.2H1180.2" stroke="#bfbfbf" stroke-width="1"/>
<text x="862.8" y="779.5" font-size="9.6" fill="#333" text-anchor="end">3,000</text>
<path d="M875.3 754.7H1180.2" stroke="#bfbfbf" stroke-width="1"/>
<text x="862.8" y="758" font-size="9.6" fill="#333" text-anchor="end">3,500</text>
<path d="M875.3 733.2H1180.2" stroke="#bfbfbf" stroke-width="1"/>
<text x="862.8" y="736.5" font-size="9.6" fill="#333" text-anchor="end">4,000</text>
<path d="M875.3 711.7H1180.2" stroke="#bfbfbf" stroke-width="1"/>
<text x="862.8" y="715" font-size="9.6" fill="#333" text-anchor="end">4,500</text>
<path d="M875.3 690.2H1180.2" stroke="#bfbfbf" stroke-width="1"/>
<text x="862.8" y="693.5" font-size="9.6" fill="#333" text-anchor="end">5,000</text>
<g fill="#c0504d"><rect x="876" y="877.47" width="7.31" height="27.73"/><rect x="884.71" y="877.47" width="7.31" height="27.73"/><rect x="893.42" y="875.49" width="7.31" height="29.71"/><rect x="902.13" y="875.49" width="7.31" height="29.71"/><rect x="910.85" y="874.33" width="7.31" height="30.87"/><rect x="919.56" y="874.33" width="7.31" height="30.87"/><rect x="928.27" y="872.35" width="7.31" height="32.85"/><rect x="936.98" y="873.55" width="7.31" height="31.65"/><rect x="945.69" y="873.55" width="7.31" height="31.65"/><rect x="954.4" y="873.55" width="7.31" height="31.65"/><rect x="963.11" y="871.96" width="7.31" height="33.24"/><rect x="971.83" y="871.02" width="7.31" height="34.18"/><rect x="980.54" y="869.64" width="7.31" height="35.56"/><rect x="989.25" y="867.1" width="7.31" height="38.1"/><rect x="997.96" y="864.57" width="7.31" height="40.63"/><rect x="1006.67" y="861.21" width="7.31" height="43.99"/><rect x="1015.38" y="859.28" width="7.31" height="45.92"/><rect x="1024.09" y="858.29" width="7.31" height="46.91"/><rect x="1032.81" y="858.29" width="7.31" height="46.91"/><rect x="1041.52" y="858.29" width="7.31" height="46.91"/><rect x="1050.23" y="858.29" width="7.31" height="46.91"/><rect x="1058.94" y="858.67" width="7.31" height="46.53"/><rect x="1067.65" y="858.67" width="7.31" height="46.53"/><rect x="1076.36" y="858.67" width="7.31" height="46.53"/><rect x="1085.07" y="858.29" width="7.31" height="46.91"/><rect x="1093.79" y="858.29" width="7.31" height="46.91"/><rect x="1102.5" y="856.74" width="7.31" height="48.46"/><rect x="1111.21" y="858.29" width="7.31" height="46.91"/><rect x="1119.92" y="858.29" width="7.31" height="46.91"/><rect x="1128.63" y="859.28" width="7.31" height="45.92"/><rect x="1137.34" y="859.84" width="7.31" height="45.36"/><rect x="1146.05" y="861.21" width="7.31" height="43.99"/><rect x="1154.77" y="863.75" width="7.31" height="41.45"/><rect x="1163.48" y="865.73" width="7.31" height="39.47"/><rect x="1172.19" y="867.49" width="7.31" height="37.71"/></g>
<g fill="#9bbb59"><rect x="876" y="857.9" width="7.31" height="19.56"/><rect x="884.71" y="857.3" width="7.31" height="20.17"/><rect x="893.42" y="854.37" width="7.31" height="21.11"/><rect x="902.13" y="853.38" width="7.31" height="22.1"/><rect x="910.85" y="851.45" width="7.31" height="22.88"/><rect x="919.56" y="850.85" width="7.31" height="23.48"/><rect x="928.27" y="848.14" width="7.31" height="24.21"/><rect x="936.98" y="847.54" width="7.31" height="26.01"/><rect x="945.69" y="846.55" width="7.31" height="27"/><rect x="954.4" y="847.54" width="7.31" height="26.01"/><rect x="963.11" y="845.6" width="7.31" height="26.36"/><rect x="971.83" y="844.61" width="7.31" height="26.4"/><rect x="980.54" y="843.62" width="7.31" height="26.01"/><rect x="989.25" y="839.15" width="7.31" height="27.95"/><rect x="997.96" y="833.26" width="7.31" height="31.3"/><rect x="1006.67" y="826.64" width="7.31" height="34.57"/><rect x="1015.38" y="825.05" width="7.31" height="34.23"/><rect x="1024.09" y="824.66" width="7.31" height="33.63"/><rect x="1032.81" y="824.1" width="7.31" height="34.18"/><rect x="1041.52" y="824.1" width="7.31" height="34.18"/><rect x="1050.23" y="823.11" width="7.31" height="35.17"/><rect x="1058.94" y="823.11" width="7.31" height="35.56"/><rect x="1067.65" y="822.73" width="7.31" height="35.95"/><rect x="1076.36" y="823.11" width="7.31" height="35.56"/><rect x="1085.07" y="823.11" width="7.31" height="35.17"/><rect x="1093.79" y="823.11" width="7.31" height="35.17"/><rect x="1102.5" y="820.75" width="7.31" height="35.99"/><rect x="1111.21" y="822.12" width="7.31" height="36.16"/><rect x="1119.92" y="821.57" width="7.31" height="36.72"/><rect x="1128.63" y="824.1" width="7.31" height="35.17"/><rect x="1137.34" y="825.05" width="7.31" height="34.79"/><rect x="1146.05" y="825.44" width="7.31" height="35.78"/><rect x="1154.77" y="827.03" width="7.31" height="36.72"/><rect x="1163.48" y="829.35" width="7.31" height="36.38"/><rect x="1172.19" y="832.14" width="7.31" height="35.35"/></g>
<g fill="#8064a2"><rect x="876" y="849.52" width="7.31" height="8.38"/><rect x="884.71" y="848.14" width="7.31" height="9.16"/><rect x="893.42" y="844.61" width="7.31" height="9.76"/><rect x="902.13" y="842.63" width="7.31" height="10.75"/><rect x="910.85" y="840.31" width="7.31" height="11.14"/><rect x="919.56" y="838.77" width="7.31" height="12.08"/><rect x="928.27" y="835.8" width="7.31" height="12.34"/><rect x="936.98" y="834.85" width="7.31" height="12.68"/><rect x="945.69" y="833.86" width="7.31" height="12.68"/><rect x="954.4" y="832.87" width="7.31" height="14.66"/><rect x="963.11" y="830.94" width="7.31" height="14.66"/><rect x="971.83" y="829.35" width="7.31" height="15.26"/><rect x="980.54" y="827.41" width="7.31" height="16.21"/><rect x="989.25" y="820.75" width="7.31" height="18.4"/><rect x="997.96" y="813.74" width="7.31" height="19.52"/><rect x="1006.67" y="805.91" width="7.31" height="20.73"/><rect x="1015.38" y="802" width="7.31" height="23.05"/><rect x="1024.09" y="801.61" width="7.31" height="23.05"/><rect x="1032.81" y="800.62" width="7.31" height="23.48"/><rect x="1041.52" y="801.23" width="7.31" height="22.88"/><rect x="1050.23" y="801.23" width="7.31" height="21.89"/><rect x="1058.94" y="801.61" width="7.31" height="21.5"/><rect x="1067.65" y="801.23" width="7.31" height="21.5"/><rect x="1076.36" y="801.61" width="7.31" height="21.5"/><rect x="1085.07" y="801.61" width="7.31" height="21.5"/><rect x="1093.79" y="801.61" width="7.31" height="21.5"/><rect x="1102.5" y="801.23" width="7.31" height="19.52"/><rect x="1111.21" y="802.6" width="7.31" height="19.52"/><rect x="1119.92" y="802.6" width="7.31" height="18.96"/><rect x="1128.63" y="804.54" width="7.31" height="19.56"/><rect x="1137.34" y="805.53" width="7.31" height="19.52"/><rect x="1146.05" y="806.52" width="7.31" height="18.92"/><rect x="1154.77" y="808.45" width="7.31" height="18.58"/><rect x="1163.48" y="810.99" width="7.31" height="18.36"/><rect x="1172.19" y="813.48" width="7.31" height="18.66"/></g>
<g fill="#4bacc6"><rect x="876" y="839.71" width="7.31" height="9.8"/><rect x="884.71" y="836.4" width="7.31" height="11.74"/><rect x="893.42" y="832.49" width="7.31" height="12.13"/><rect x="902.13" y="829.95" width="7.31" height="12.68"/><rect x="910.85" y="827.03" width="7.31" height="13.29"/><rect x="919.56" y="825.05" width="7.31" height="13.72"/><rect x="928.27" y="822.12" width="7.31" height="13.67"/><rect x="936.98" y="820.19" width="7.31" height="14.66"/><rect x="945.69" y="818.21" width="7.31" height="15.65"/><rect x="954.4" y="816.28" width="7.31" height="16.6"/><rect x="963.11" y="814.9" width="7.31" height="16.04"/><rect x="971.83" y="812.36" width="7.31" height="16.98"/><rect x="980.54" y="808.45" width="7.31" height="18.96"/><rect x="989.25" y="799.25" width="7.31" height="21.5"/><rect x="997.96" y="789.49" width="7.31" height="24.25"/><rect x="1006.67" y="780.11" width="7.31" height="25.8"/><rect x="1015.38" y="776.2" width="7.31" height="25.8"/><rect x="1024.09" y="775.21" width="7.31" height="26.4"/><rect x="1032.81" y="773.28" width="7.31" height="27.35"/><rect x="1041.52" y="773.84" width="7.31" height="27.39"/><rect x="1050.23" y="772.29" width="7.31" height="28.94"/><rect x="1058.94" y="773.28" width="7.31" height="28.34"/><rect x="1067.65" y="772.67" width="7.31" height="28.55"/><rect x="1076.36" y="773.28" width="7.31" height="28.34"/><rect x="1085.07" y="773.84" width="7.31" height="27.78"/><rect x="1093.79" y="773.84" width="7.31" height="27.78"/><rect x="1102.5" y="773.84" width="7.31" height="27.39"/><rect x="1111.21" y="776.2" width="7.31" height="26.4"/><rect x="1119.92" y="777.19" width="7.31" height="25.41"/><rect x="1128.63" y="779.12" width="7.31" height="25.41"/><rect x="1137.34" y="778.14" width="7.31" height="27.39"/><rect x="1146.05" y="780.5" width="7.31" height="26.01"/><rect x="1154.77" y="783.64" width="7.31" height="24.81"/><rect x="1163.48" y="785.96" width="7.31" height="25.03"/><rect x="1172.19" y="787.25" width="7.31" height="26.23"/></g>
<g fill="#f79646"><rect x="876" y="835.8" width="7.31" height="3.91"/><rect x="884.71" y="833.26" width="7.31" height="3.14"/><rect x="893.42" y="828.02" width="7.31" height="4.47"/><rect x="902.13" y="826.04" width="7.31" height="3.91"/><rect x="910.85" y="823.11" width="7.31" height="3.91"/><rect x="919.56" y="820.75" width="7.31" height="4.3"/><rect x="928.27" y="818.21" width="7.31" height="3.91"/><rect x="936.98" y="816.28" width="7.31" height="3.91"/><rect x="945.69" y="814.3" width="7.31" height="3.91"/><rect x="954.4" y="812.36" width="7.31" height="3.91"/><rect x="963.11" y="811.37" width="7.31" height="3.53"/><rect x="971.83" y="808.45" width="7.31" height="3.91"/><rect x="980.54" y="805.53" width="7.31" height="2.92"/><rect x="989.25" y="795.77" width="7.31" height="3.48"/><rect x="997.96" y="786.95" width="7.31" height="2.54"/><rect x="1006.67" y="776.2" width="7.31" height="3.91"/><rect x="1015.38" y="771.9" width="7.31" height="4.3"/><rect x="1024.09" y="770.74" width="7.31" height="4.47"/><rect x="1032.81" y="768.37" width="7.31" height="4.9"/><rect x="1041.52" y="768.37" width="7.31" height="5.46"/><rect x="1050.23" y="767.99" width="7.31" height="4.3"/><rect x="1058.94" y="768.37" width="7.31" height="4.9"/><rect x="1067.65" y="767.99" width="7.31" height="4.69"/><rect x="1076.36" y="768.37" width="7.31" height="4.9"/><rect x="1085.07" y="769.36" width="7.31" height="4.47"/><rect x="1093.79" y="769.36" width="7.31" height="4.47"/><rect x="1102.5" y="768.37" width="7.31" height="5.46"/><rect x="1111.21" y="771.3" width="7.31" height="4.9"/><rect x="1119.92" y="772.29" width="7.31" height="4.9"/><rect x="1128.63" y="774.65" width="7.31" height="4.47"/><rect x="1137.34" y="772.67" width="7.31" height="5.46"/><rect x="1146.05" y="776.2" width="7.31" height="4.3"/><rect x="1154.77" y="778.57" width="7.31" height="5.07"/><rect x="1163.48" y="782.05" width="7.31" height="3.91"/><rect x="1172.19" y="782.48" width="7.31" height="4.77"/></g>
<g fill="#e6b9b8"><rect x="876" y="829.95" width="7.31" height="5.85"/><rect x="884.71" y="825.44" width="7.31" height="7.83"/><rect x="893.42" y="820.19" width="7.31" height="7.83"/><rect x="902.13" y="817.27" width="7.31" height="8.77"/><rect x="910.85" y="813.74" width="7.31" height="9.37"/><rect x="919.56" y="810.38" width="7.31" height="10.36"/><rect x="928.27" y="807.07" width="7.31" height="11.14"/><rect x="936.98" y="804.54" width="7.31" height="11.74"/><rect x="945.69" y="801.61" width="7.31" height="12.68"/><rect x="954.4" y="798.69" width="7.31" height="13.67"/><rect x="963.11" y="796.71" width="7.31" height="14.66"/><rect x="971.83" y="793.79" width="7.31" height="14.66"/><rect x="980.54" y="789.87" width="7.31" height="15.65"/><rect x="989.25" y="777.75" width="7.31" height="18.02"/><rect x="997.96" y="765.45" width="7.31" height="21.5"/><rect x="1006.67" y="752.77" width="7.31" height="23.43"/><rect x="1015.38" y="746.49" width="7.31" height="25.41"/><rect x="1024.09" y="743.95" width="7.31" height="26.79"/><rect x="1032.81" y="738.1" width="7.31" height="30.27"/><rect x="1041.52" y="736.12" width="7.31" height="32.25"/><rect x="1050.23" y="731.27" width="7.31" height="36.72"/><rect x="1058.94" y="732.21" width="7.31" height="36.16"/><rect x="1067.65" y="732.21" width="7.31" height="35.78"/><rect x="1076.36" y="733.2" width="7.31" height="35.17"/><rect x="1085.07" y="734.19" width="7.31" height="35.17"/><rect x="1093.79" y="734.19" width="7.31" height="35.17"/><rect x="1102.5" y="734.19" width="7.31" height="34.18"/><rect x="1111.21" y="737.11" width="7.31" height="34.18"/><rect x="1119.92" y="738.1" width="7.31" height="34.18"/><rect x="1128.63" y="740.04" width="7.31" height="34.61"/><rect x="1137.34" y="738.66" width="7.31" height="34.01"/><rect x="1146.05" y="742.57" width="7.31" height="33.63"/><rect x="1154.77" y="745.93" width="7.31" height="32.64"/><rect x="1163.48" y="748.85" width="7.31" height="33.2"/><rect x="1172.19" y="751.56" width="7.31" height="30.92"/></g>
<g fill="#c3d69b"><rect x="876" y="820.75" width="7.31" height="9.2"/><rect x="884.71" y="815.29" width="7.31" height="10.15"/><rect x="893.42" y="808.45" width="7.31" height="11.74"/><rect x="902.13" y="805.53" width="7.31" height="11.74"/><rect x="910.85" y="800.62" width="7.31" height="13.11"/><rect x="919.56" y="795.77" width="7.31" height="14.62"/><rect x="928.27" y="789.87" width="7.31" height="17.2"/><rect x="936.98" y="785.96" width="7.31" height="18.58"/><rect x="945.69" y="782.05" width="7.31" height="19.56"/><rect x="954.4" y="778.14" width="7.31" height="20.55"/><rect x="963.11" y="774.27" width="7.31" height="22.45"/><rect x="971.83" y="770.35" width="7.31" height="23.43"/><rect x="980.54" y="766.05" width="7.31" height="23.82"/><rect x="989.25" y="753.71" width="7.31" height="24.04"/><rect x="997.96" y="741.41" width="7.31" height="24.04"/><rect x="1006.67" y="728.3" width="7.31" height="24.47"/><rect x="1015.38" y="722.45" width="7.31" height="24.04"/><rect x="1024.09" y="720.52" width="7.31" height="23.43"/><rect x="1032.81" y="716.6" width="7.31" height="21.5"/><rect x="1041.52" y="714.62" width="7.31" height="21.5"/><rect x="1050.23" y="716.6" width="7.31" height="14.66"/><rect x="1058.94" y="716.6" width="7.31" height="15.61"/><rect x="1067.65" y="716.22" width="7.31" height="16"/><rect x="1076.36" y="717.55" width="7.31" height="15.65"/><rect x="1085.07" y="719.53" width="7.31" height="14.66"/><rect x="1093.79" y="719.91" width="7.31" height="14.28"/><rect x="1102.5" y="721.07" width="7.31" height="13.11"/><rect x="1111.21" y="724.38" width="7.31" height="12.73"/><rect x="1119.92" y="727.35" width="7.31" height="10.75"/><rect x="1128.63" y="730.28" width="7.31" height="9.76"/><rect x="1137.34" y="728.3" width="7.31" height="10.36"/><rect x="1146.05" y="732.21" width="7.31" height="10.36"/><rect x="1154.77" y="737.11" width="7.31" height="8.81"/><rect x="1163.48" y="740.64" width="7.31" height="8.21"/><rect x="1172.19" y="744.17" width="7.31" height="7.4"/></g>
<g fill="#b3a2c7"><rect x="876" y="819.56" width="7.31" height="1.19"/><rect x="884.71" y="813.91" width="7.31" height="1.37"/><rect x="893.42" y="807.26" width="7.31" height="1.19"/><rect x="902.13" y="804.15" width="7.31" height="1.37"/><rect x="910.85" y="799.25" width="7.31" height="1.37"/><rect x="919.56" y="794.11" width="7.31" height="1.66"/><rect x="928.27" y="788.5" width="7.31" height="1.37"/><rect x="936.98" y="784.59" width="7.31" height="1.37"/><rect x="945.69" y="780.67" width="7.31" height="1.37"/><rect x="954.4" y="776.5" width="7.31" height="1.64"/><rect x="963.11" y="772.87" width="7.31" height="1.39"/><rect x="971.83" y="768.96" width="7.31" height="1.39"/><rect x="980.54" y="764.39" width="7.31" height="1.66"/><rect x="989.25" y="751.87" width="7.31" height="1.84"/><rect x="997.96" y="739.39" width="7.31" height="2.02"/><rect x="1006.67" y="726.46" width="7.31" height="1.84"/><rect x="1015.38" y="720.61" width="7.31" height="1.84"/><rect x="1024.09" y="718.39" width="7.31" height="2.12"/><rect x="1032.81" y="714.76" width="7.31" height="1.84"/><rect x="1041.52" y="712.78" width="7.31" height="1.84"/><rect x="1050.23" y="713.19" width="7.31" height="3.42"/><rect x="1058.94" y="713.39" width="7.31" height="3.21"/><rect x="1067.65" y="712.54" width="7.31" height="3.68"/><rect x="1076.36" y="714.07" width="7.31" height="3.48"/><rect x="1085.07" y="716.03" width="7.31" height="3.5"/><rect x="1093.79" y="716.52" width="7.31" height="3.4"/><rect x="1102.5" y="717.58" width="7.31" height="3.5"/><rect x="1111.21" y="721.17" width="7.31" height="3.21"/><rect x="1119.92" y="723.67" width="7.31" height="3.68"/><rect x="1128.63" y="726.6" width="7.31" height="3.68"/><rect x="1137.34" y="724.64" width="7.31" height="3.66"/><rect x="1146.05" y="728.53" width="7.31" height="3.68"/><rect x="1154.77" y="733.43" width="7.31" height="3.68"/><rect x="1163.48" y="737.32" width="7.31" height="3.31"/><rect x="1172.19" y="740.47" width="7.31" height="3.7"/></g>
<g fill="#a5d5e2"><rect x="876" y="818.21" width="7.31" height="1.34"/><rect x="884.71" y="812.36" width="7.31" height="1.55"/><rect x="893.42" y="805.91" width="7.31" height="1.34"/><rect x="902.13" y="802.6" width="7.31" height="1.55"/><rect x="910.85" y="797.7" width="7.31" height="1.55"/><rect x="919.56" y="792.24" width="7.31" height="1.87"/><rect x="928.27" y="786.95" width="7.31" height="1.55"/><rect x="936.98" y="783.04" width="7.31" height="1.55"/><rect x="945.69" y="779.12" width="7.31" height="1.55"/><rect x="954.4" y="774.65" width="7.31" height="1.85"/><rect x="963.11" y="771.3" width="7.31" height="1.57"/><rect x="971.83" y="767.38" width="7.31" height="1.57"/><rect x="980.54" y="762.53" width="7.31" height="1.87"/><rect x="989.25" y="749.8" width="7.31" height="2.07"/><rect x="997.96" y="737.11" width="7.31" height="2.28"/><rect x="1006.67" y="724.38" width="7.31" height="2.07"/><rect x="1015.38" y="718.54" width="7.31" height="2.07"/><rect x="1024.09" y="716" width="7.31" height="2.39"/><rect x="1032.81" y="712.69" width="7.31" height="2.07"/><rect x="1041.52" y="710.71" width="7.31" height="2.07"/><rect x="1050.23" y="709.34" width="7.31" height="3.85"/><rect x="1058.94" y="709.77" width="7.31" height="3.62"/><rect x="1067.65" y="708.39" width="7.31" height="4.15"/><rect x="1076.36" y="710.15" width="7.31" height="3.92"/><rect x="1085.07" y="712.09" width="7.31" height="3.94"/><rect x="1093.79" y="712.69" width="7.31" height="3.83"/><rect x="1102.5" y="713.63" width="7.31" height="3.94"/><rect x="1111.21" y="717.55" width="7.31" height="3.62"/><rect x="1119.92" y="719.53" width="7.31" height="4.15"/><rect x="1128.63" y="722.45" width="7.31" height="4.15"/><rect x="1137.34" y="720.52" width="7.31" height="4.12"/><rect x="1146.05" y="724.38" width="7.31" height="4.15"/><rect x="1154.77" y="729.29" width="7.31" height="4.15"/><rect x="1163.48" y="733.59" width="7.31" height="3.74"/><rect x="1172.19" y="736.3" width="7.31" height="4.17"/></g>
<rect x="875.3" y="690.2" width="304.9" height="215" fill="none" stroke="#a6a6a6" stroke-width="1.2"/>
<path d="M875.3 905.2V908.7M884.01 905.2V908.7M892.72 905.2V908.7M901.43 905.2V908.7M910.15 905.2V908.7M918.86 905.2V908.7M927.57 905.2V908.7M936.28 905.2V908.7M944.99 905.2V908.7M953.7 905.2V908.7M962.41 905.2V908.7M971.13 905.2V908.7M979.84 905.2V908.7M988.55 905.2V908.7M997.26 905.2V908.7M1005.97 905.2V908.7M1014.68 905.2V908.7M1023.39 905.2V908.7M1032.11 905.2V908.7M1040.82 905.2V908.7M1049.53 905.2V908.7M1058.24 905.2V908.7M1066.95 905.2V908.7M1075.66 905.2V908.7M1084.37 905.2V908.7M1093.09 905.2V908.7M1101.8 905.2V908.7M1110.51 905.2V908.7M1119.22 905.2V908.7M1127.93 905.2V908.7M1136.64 905.2V908.7M1145.35 905.2V908.7M1154.07 905.2V908.7M1162.78 905.2V908.7M1171.49 905.2V908.7M1180.2 905.2V908.7" stroke="#8c8c8c" stroke-width="1"/>
<text transform="translate(883.26 912.5) rotate(-90)" font-size="11.1" text-anchor="end" fill="#000" font-family="Liberation Serif, serif">1982</text>
<text transform="translate(900.17 912.5) rotate(-90)" font-size="11.1" text-anchor="end" fill="#000" font-family="Liberation Serif, serif">1984</text>
<text transform="translate(917.08 912.5) rotate(-90)" font-size="11.1" text-anchor="end" fill="#000" font-family="Liberation Serif, serif">1986</text>
<text transform="translate(933.99 912.5) rotate(-90)" font-size="11.1" text-anchor="end" fill="#000" font-family="Liberation Serif, serif">1988</text>
<text transform="translate(950.9 912.5) rotate(-90)" font-size="11.1" text-anchor="end" fill="#000" font-family="Liberation Serif, serif">1990</text>
<text transform="translate(967.81 912.5) rotate(-90)" font-size="11.1" text-anchor="end" fill="#000" font-family="Liberation Serif, serif">1992</text>
<text transform="translate(984.72 912.5) rotate(-90)" font-size="11.1" text-anchor="end" fill="#000" font-family="Liberation Serif, serif">1994</text>
<text transform="translate(1001.63 912.5) rotate(-90)" font-size="11.1" text-anchor="end" fill="#000" font-family="Liberation Serif, serif">1996</text>
<text transform="translate(1018.54 912.5) rotate(-90)" font-size="11.1" text-anchor="end" fill="#000" font-family="Liberation Serif, serif">1998</text>
<text transform="translate(1035.45 912.5) rotate(-90)" font-size="11.1" text-anchor="end" fill="#000" font-family="Liberation Serif, serif">2000</text>
<text transform="translate(1052.36 912.5) rotate(-90)" font-size="11.1" text-anchor="end" fill="#000" font-family="Liberation Serif, serif">2002</text>
<text transform="translate(1069.27 912.5) rotate(-90)" font-size="11.1" text-anchor="end" fill="#000" font-family="Liberation Serif, serif">2004</text>
<text transform="translate(1086.18 912.5) rotate(-90)" font-size="11.1" text-anchor="end" fill="#000" font-family="Liberation Serif, serif">2006</text>
<text transform="translate(1103.09 912.5) rotate(-90)" font-size="11.1" text-anchor="end" fill="#000" font-family="Liberation Serif, serif">2008</text>
<text transform="translate(1120 912.5) rotate(-90)" font-size="11.1" text-anchor="end" fill="#000" font-family="Liberation Serif, serif">2010</text>
<text transform="translate(1136.91 912.5) rotate(-90)" font-size="11.1" text-anchor="end" fill="#000" font-family="Liberation Serif, serif">2012</text>
<text transform="translate(1153.82 912.5) rotate(-90)" font-size="11.1" text-anchor="end" fill="#000" font-family="Liberation Serif, serif">2014</text>
<text transform="translate(1170.73 912.5) rotate(-90)" font-size="11.1" text-anchor="end" fill="#000" font-family="Liberation Serif, serif">2016</text>
<text x="527" y="727.5" font-size="12.5" font-weight="bold">企業部門</text>
<path d="M578 723.5L621.6 730.6" stroke="#000" stroke-width="1"/>
<text x="659.5" y="748.5" font-size="13" font-weight="bold">公的機関部門</text>
<text x="739" y="794" font-size="15.5" fill="#fff" letter-spacing="-1">第4G</text>
<text x="739" y="828.5" font-size="15.5" fill="#fff" letter-spacing="-1">第3G</text>
<text x="739" y="862.5" font-size="15.5" fill="#fff" letter-spacing="-1">第2G</text>
<text x="739" y="896.5" font-size="15.5" fill="#fff" letter-spacing="-1">第1G</text>
<text x="780" y="710" font-size="9" fill="#333" font-family="Liberation Serif, serif">1,949</text>
<text x="780" y="720.5" font-size="9" fill="#333" font-family="Liberation Serif, serif">1,688</text>
<text x="780" y="730.5" font-size="9" fill="#333" font-family="Liberation Serif, serif">3,721</text>
<text x="780" y="748.8" font-size="9" fill="#333" font-family="Liberation Serif, serif">9,189</text>
<text x="780" y="766.3" font-size="9" fill="#333" font-family="Liberation Serif, serif">2,429</text>
<text x="780" y="790.6" font-size="9" fill="#333" font-family="Liberation Serif, serif">13,118</text>
<text x="780" y="824.3" font-size="9" fill="#333" font-family="Liberation Serif, serif">8,904</text>
<text x="780" y="856.5" font-size="9" fill="#333" font-family="Liberation Serif, serif">12,238</text>
<text x="780" y="891.3" font-size="9" fill="#333" font-family="Liberation Serif, serif">10,488</text>
<path d="M800.5 759.4H806.5V907H800.5M806.5 834H810" fill="none" stroke="#000" stroke-width="1.2"/>
<text x="811" y="851" font-size="15.5" font-weight="bold">大</text>
<text x="811" y="866.3" font-size="15.5" font-weight="bold">学</text>
<text x="811" y="881.6" font-size="15.5" font-weight="bold">等</text>
<text x="811" y="896.9" font-size="15.5" font-weight="bold">部</text>
<text x="811" y="912.2" font-size="15.5" font-weight="bold">門</text>
<text transform="translate(430.5 798.6) rotate(-90)" font-size="10.6" text-anchor="middle" fill="#222">論文数（件）</text>
<text x="920" y="727.2" font-size="12.5" font-weight="bold">企業部門</text>
<path d="M970.5 724L1014 738.5" stroke="#000" stroke-width="1"/>
<text x="1051.5" y="757" font-size="13" font-weight="bold">公的機関部門</text>
<text x="1139.5" y="802.5" font-size="15.5" fill="#fff" letter-spacing="-1">第4G</text>
<text x="1139.5" y="824.5" font-size="15.5" fill="#fff" letter-spacing="-1">第3G</text>
<text x="1139.5" y="852.5" font-size="15.5" fill="#fff" letter-spacing="-1">第2G</text>
<text x="1139.5" y="887.5" font-size="15.5" fill="#fff" letter-spacing="-1">第1G</text>
<text x="1179.5" y="737" font-size="9" fill="#333" font-family="Liberation Serif, serif">78</text>
<text x="1179.5" y="744.5" font-size="9" fill="#333" font-family="Liberation Serif, serif">105</text>
<text x="1179.5" y="751.5" font-size="9" fill="#333" font-family="Liberation Serif, serif">172</text>
<text x="1179.5" y="770.5" font-size="9" fill="#333" font-family="Liberation Serif, serif">719</text>
<text x="1179.5" y="788.5" font-size="9" fill="#333" font-family="Liberation Serif, serif">111</text>
<text x="1179.5" y="804.5" font-size="9" fill="#333" font-family="Liberation Serif, serif">610</text>
<text x="1179.5" y="827" font-size="9" fill="#333" font-family="Liberation Serif, serif">434</text>
<text x="1179.5" y="854.5" font-size="9" fill="#333" font-family="Liberation Serif, serif">822</text>
<text x="1179.5" y="889.5" font-size="9" fill="#333" font-family="Liberation Serif, serif">877</text>
<text transform="translate(834.5 797.5) rotate(-90)" font-size="10.2" text-anchor="middle" fill="#222">Top10%補正論文数（件）</text>
<text x="1238.2" y="884.8" font-size="11" fill="#222" text-anchor="end">0%</text>
<path d="M1248.2 849.07H1599.8" stroke="#8c8c8c" stroke-width="1.3"/>
<text x="1238.2" y="853.07" font-size="11" fill="#222" text-anchor="end">2%</text>
<path d="M1248.2 817.33H1599.8" stroke="#8c8c8c" stroke-width="1.3"/>
<text x="1238.2" y="821.33" font-size="11" fill="#222" text-anchor="end">4%</text>
<path d="M1248.2 785.6H1599.8" stroke="#8c8c8c" stroke-width="1.3"/>
<text x="1238.2" y="789.6" font-size="11" fill="#222" text-anchor="end">6%</text>
<path d="M1248.2 753.87H1599.8" stroke="#8c8c8c" stroke-width="1.3"/>
<text x="1238.2" y="757.87" font-size="11" fill="#222" text-anchor="end">8%</text>
<path d="M1248.2 722.13H1599.8" stroke="#8c8c8c" stroke-width="1.3"/>
<text x="1238.2" y="726.13" font-size="11" fill="#222" text-anchor="end">10%</text>
<path d="M1248.2 690.4H1599.8" stroke="#8c8c8c" stroke-width="1.3"/>
<text x="1238.2" y="694.4" font-size="11" fill="#222" text-anchor="end">12%</text>
<path d="M1248.2 688.4V880.8H1599.8" fill="none" stroke="#8c8c8c" stroke-width="1.2"/>
<path d="M1248.2 880.8V884.8M1258.55 880.8V884.8M1268.9 880.8V884.8M1279.25 880.8V884.8M1289.6 880.8V884.8M1299.95 880.8V884.8M1310.3 880.8V884.8M1320.65 880.8V884.8M1331 880.8V884.8M1341.35 880.8V884.8M1351.7 880.8V884.8M1362.05 880.8V884.8M1372.4 880.8V884.8M1382.75 880.8V884.8M1393.1 880.8V884.8M1403.45 880.8V884.8M1413.8 880.8V884.8M1424.15 880.8V884.8M1434.5 880.8V884.8M1444.85 880.8V884.8M1455.2 880.8V884.8M1465.55 880.8V884.8M1475.9 880.8V884.8M1486.25 880.8V884.8M1496.6 880.8V884.8M1506.95 880.8V884.8M1517.3 880.8V884.8M1527.65 880.8V884.8M1538 880.8V884.8M1548.35 880.8V884.8M1558.7 880.8V884.8M1569.05 880.8V884.8M1579.4 880.8V884.8M1589.75 880.8V884.8M1600.1 880.8V884.8" stroke="#8c8c8c" stroke-width="1"/>
<path d="M1244.2 880.8H1248.2M1244.2 849.07H1248.2M1244.2 817.33H1248.2M1244.2 785.6H1248.2M1244.2 753.87H1248.2M1244.2 722.13H1248.2M1244.2 690.4H1248.2" stroke="#8c8c8c" stroke-width="1"/>
<text transform="translate(1257.9 889.5) rotate(-90)" font-size="12.2" text-anchor="end" fill="#222" letter-spacing="0.3">1982</text>
<text transform="translate(1277.96 889.5) rotate(-90)" font-size="12.2" text-anchor="end" fill="#222" letter-spacing="0.3">1984</text>
<text transform="translate(1298.02 889.5) rotate(-90)" font-size="12.2" text-anchor="end" fill="#222" letter-spacing="0.3">1986</text>
<text transform="translate(1318.08 889.5) rotate(-90)" font-size="12.2" text-anchor="end" fill="#222" letter-spacing="0.3">1988</text>
<text transform="translate(1338.14 889.5) rotate(-90)" font-size="12.2" text-anchor="end" fill="#222" letter-spacing="0.3">1990</text>
<text transform="translate(1358.2 889.5) rotate(-90)" font-size="12.2" text-anchor="end" fill="#222" letter-spacing="0.3">1992</text>
<text transform="translate(1378.26 889.5) rotate(-90)" font-size="12.2" text-anchor="end" fill="#222" letter-spacing="0.3">1994</text>
<text transform="translate(1398.32 889.5) rotate(-90)" font-size="12.2" text-anchor="end" fill="#222" letter-spacing="0.3">1996</text>
<text transform="translate(1418.38 889.5) rotate(-90)" font-size="12.2" text-anchor="end" fill="#222" letter-spacing="0.3">1998</text>
<text transform="translate(1438.44 889.5) rotate(-90)" font-size="12.2" text-anchor="end" fill="#222" letter-spacing="0.3">2000</text>
<text transform="translate(1458.5 889.5) rotate(-90)" font-size="12.2" text-anchor="end" fill="#222" letter-spacing="0.3">2002</text>
<text transform="translate(1478.56 889.5) rotate(-90)" font-size="12.2" text-anchor="end" fill="#222" letter-spacing="0.3">2004</text>
<text transform="translate(1498.62 889.5) rotate(-90)" font-size="12.2" text-anchor="end" fill="#222" letter-spacing="0.3">2006</text>
<text transform="translate(1518.68 889.5) rotate(-90)" font-size="12.2" text-anchor="end" fill="#222" letter-spacing="0.3">2008</text>
<text transform="translate(1538.74 889.5) rotate(-90)" font-size="12.2" text-anchor="end" fill="#222" letter-spacing="0.3">2010</text>
<text transform="translate(1558.8 889.5) rotate(-90)" font-size="12.2" text-anchor="end" fill="#222" letter-spacing="0.3">2012</text>
<text transform="translate(1578.86 889.5) rotate(-90)" font-size="12.2" text-anchor="end" fill="#222" letter-spacing="0.3">2014</text>
<text transform="translate(1598.92 889.5) rotate(-90)" font-size="12.2" text-anchor="end" fill="#222" letter-spacing="0.3">2016</text>
<path d="M1253.5 779.73L1263.53 774.33L1273.56 775.6L1283.59 778.78L1293.62 780.36L1303.65 779.09L1313.68 778.14L1323.71 779.73L1333.74 781.79L1343.77 783.7L1353.8 784.33L1363.83 784.97L1373.86 783.7L1383.89 782.11L1393.92 781.79L1403.95 783.7L1413.98 784.97L1424.01 786.87L1434.04 784.33L1444.07 782.74L1454.1 782.74L1464.13 783.7L1474.16 784.33L1484.19 784.33L1494.22 784.97L1504.25 782.74L1514.28 781.79L1524.31 780.68L1534.34 781.32L1544.37 779.73L1554.4 778.78L1564.43 778.78L1574.46 776.56L1584.49 771.95L1594.52 769.42" fill="none" stroke="#31859c" stroke-width="1.9"/>
<path d="M1253.5 777.43V782.03" stroke="#31859c" stroke-width="1"/><path d="M1263.53 772.03V776.63" stroke="#31859c" stroke-width="1"/><path d="M1273.56 773.3V777.9" stroke="#31859c" stroke-width="1"/><path d="M1283.59 776.48V781.08" stroke="#31859c" stroke-width="1"/><path d="M1293.62 778.06V782.66" stroke="#31859c" stroke-width="1"/><path d="M1303.65 776.79V781.39" stroke="#31859c" stroke-width="1"/><path d="M1313.68 775.84V780.44" stroke="#31859c" stroke-width="1"/><path d="M1323.71 777.43V782.03" stroke="#31859c" stroke-width="1"/><path d="M1333.74 779.49V784.09" stroke="#31859c" stroke-width="1"/><path d="M1343.77 781.4V786" stroke="#31859c" stroke-width="1"/><path d="M1353.8 782.03V786.63" stroke="#31859c" stroke-width="1"/><path d="M1363.83 782.67V787.27" stroke="#31859c" stroke-width="1"/><path d="M1373.86 781.4V786" stroke="#31859c" stroke-width="1"/><path d="M1383.89 779.81V784.41" stroke="#31859c" stroke-width="1"/><path d="M1393.92 779.49V784.09" stroke="#31859c" stroke-width="1"/><path d="M1403.95 781.4V786" stroke="#31859c" stroke-width="1"/><path d="M1413.98 782.67V787.27" stroke="#31859c" stroke-width="1"/><path d="M1424.01 784.57V789.17" stroke="#31859c" stroke-width="1"/><path d="M1434.04 782.03V786.63" stroke="#31859c" stroke-width="1"/><path d="M1444.07 780.44V785.04" stroke="#31859c" stroke-width="1"/><path d="M1454.1 780.44V785.04" stroke="#31859c" stroke-width="1"/><path d="M1464.13 781.4V786" stroke="#31859c" stroke-width="1"/><path d="M1474.16 782.03V786.63" stroke="#31859c" stroke-width="1"/><path d="M1484.19 782.03V786.63" stroke="#31859c" stroke-width="1"/><path d="M1494.22 782.67V787.27" stroke="#31859c" stroke-width="1"/><path d="M1504.25 780.44V785.04" stroke="#31859c" stroke-width="1"/><path d="M1514.28 779.49V784.09" stroke="#31859c" stroke-width="1"/><path d="M1524.31 778.38V782.98" stroke="#31859c" stroke-width="1"/><path d="M1534.34 779.02V783.62" stroke="#31859c" stroke-width="1"/><path d="M1544.37 777.43V782.03" stroke="#31859c" stroke-width="1"/><path d="M1554.4 776.48V781.08" stroke="#31859c" stroke-width="1"/><path d="M1564.43 776.48V781.08" stroke="#31859c" stroke-width="1"/><path d="M1574.46 774.26V778.86" stroke="#31859c" stroke-width="1"/><path d="M1584.49 769.65V774.25" stroke="#31859c" stroke-width="1"/><path d="M1594.52 767.12V771.72" stroke="#31859c" stroke-width="1"/>
<path d="M1253.5 768.15L1263.53 768.15L1273.56 768.15L1283.59 769.42L1293.62 771.95L1303.65 771.95L1313.68 775.6L1323.71 773.54L1333.74 775.6L1343.77 772.91L1353.8 777.19L1363.83 775.6L1373.86 774.97L1383.89 774.02L1393.92 774.02L1403.95 774.97L1413.98 771.95L1424.01 774.33L1434.04 774.33L1444.07 776.56L1454.1 777.19L1464.13 778.14L1474.16 780.68L1484.19 778.14L1494.22 776.56L1504.25 774.33L1514.28 776.56L1524.31 778.14L1534.34 776.56L1544.37 771.95L1554.4 768.78L1564.43 767.19L1574.46 765.77L1584.49 764.18L1594.52 763.23" fill="none" stroke="#7f64a2" stroke-width="1.9"/>
<path d="M1251.2 765.85L1255.8 770.45M1255.8 765.85L1251.2 770.45" stroke="#7f64a2" stroke-width="1"/><path d="M1261.23 765.85L1265.83 770.45M1265.83 765.85L1261.23 770.45" stroke="#7f64a2" stroke-width="1"/><path d="M1271.26 765.85L1275.86 770.45M1275.86 765.85L1271.26 770.45" stroke="#7f64a2" stroke-width="1"/><path d="M1281.29 767.12L1285.89 771.72M1285.89 767.12L1281.29 771.72" stroke="#7f64a2" stroke-width="1"/><path d="M1291.32 769.65L1295.92 774.25M1295.92 769.65L1291.32 774.25" stroke="#7f64a2" stroke-width="1"/><path d="M1301.35 769.65L1305.95 774.25M1305.95 769.65L1301.35 774.25" stroke="#7f64a2" stroke-width="1"/><path d="M1311.38 773.3L1315.98 777.9M1315.98 773.3L1311.38 777.9" stroke="#7f64a2" stroke-width="1"/><path d="M1321.41 771.24L1326.01 775.84M1326.01 771.24L1321.41 775.84" stroke="#7f64a2" stroke-width="1"/><path d="M1331.44 773.3L1336.04 777.9M1336.04 773.3L1331.44 777.9" stroke="#7f64a2" stroke-width="1"/><path d="M1341.47 770.61L1346.07 775.21M1346.07 770.61L1341.47 775.21" stroke="#7f64a2" stroke-width="1"/><path d="M1351.5 774.89L1356.1 779.49M1356.1 774.89L1351.5 779.49" stroke="#7f64a2" stroke-width="1"/><path d="M1361.53 773.3L1366.13 777.9M1366.13 773.3L1361.53 777.9" stroke="#7f64a2" stroke-width="1"/><path d="M1371.56 772.67L1376.16 777.27M1376.16 772.67L1371.56 777.27" stroke="#7f64a2" stroke-width="1"/><path d="M1381.59 771.72L1386.19 776.32M1386.19 771.72L1381.59 776.32" stroke="#7f64a2" stroke-width="1"/><path d="M1391.62 771.72L1396.22 776.32M1396.22 771.72L1391.62 776.32" stroke="#7f64a2" stroke-width="1"/><path d="M1401.65 772.67L1406.25 777.27M1406.25 772.67L1401.65 777.27" stroke="#7f64a2" stroke-width="1"/><path d="M1411.68 769.65L1416.28 774.25M1416.28 769.65L1411.68 774.25" stroke="#7f64a2" stroke-width="1"/><path d="M1421.71 772.03L1426.31 776.63M1426.31 772.03L1421.71 776.63" stroke="#7f64a2" stroke-width="1"/><path d="M1431.74 772.03L1436.34 776.63M1436.34 772.03L1431.74 776.63" stroke="#7f64a2" stroke-width="1"/><path d="M1441.77 774.26L1446.37 778.86M1446.37 774.26L1441.77 778.86" stroke="#7f64a2" stroke-width="1"/><path d="M1451.8 774.89L1456.4 779.49M1456.4 774.89L1451.8 779.49" stroke="#7f64a2" stroke-width="1"/><path d="M1461.83 775.84L1466.43 780.44M1466.43 775.84L1461.83 780.44" stroke="#7f64a2" stroke-width="1"/><path d="M1471.86 778.38L1476.46 782.98M1476.46 778.38L1471.86 782.98" stroke="#7f64a2" stroke-width="1"/><path d="M1481.89 775.84L1486.49 780.44M1486.49 775.84L1481.89 780.44" stroke="#7f64a2" stroke-width="1"/><path d="M1491.92 774.26L1496.52 778.86M1496.52 774.26L1491.92 778.86" stroke="#7f64a2" stroke-width="1"/><path d="M1501.95 772.03L1506.55 776.63M1506.55 772.03L1501.95 776.63" stroke="#7f64a2" stroke-width="1"/><path d="M1511.98 774.26L1516.58 778.86M1516.58 774.26L1511.98 778.86" stroke="#7f64a2" stroke-width="1"/><path d="M1522.01 775.84L1526.61 780.44M1526.61 775.84L1522.01 780.44" stroke="#7f64a2" stroke-width="1"/><path d="M1532.04 774.26L1536.64 778.86M1536.64 774.26L1532.04 778.86" stroke="#7f64a2" stroke-width="1"/><path d="M1542.07 769.65L1546.67 774.25M1546.67 769.65L1542.07 774.25" stroke="#7f64a2" stroke-width="1"/><path d="M1552.1 766.48L1556.7 771.08M1556.7 766.48L1552.1 771.08" stroke="#7f64a2" stroke-width="1"/><path d="M1562.13 764.89L1566.73 769.49M1566.73 764.89L1562.13 769.49" stroke="#7f64a2" stroke-width="1"/><path d="M1572.16 763.47L1576.76 768.07M1576.76 763.47L1572.16 768.07" stroke="#7f64a2" stroke-width="1"/><path d="M1582.19 761.88L1586.79 766.48M1586.79 761.88L1582.19 766.48" stroke="#7f64a2" stroke-width="1"/><path d="M1592.22 760.93L1596.82 765.53M1596.82 760.93L1592.22 765.53" stroke="#7f64a2" stroke-width="1"/>
<path d="M1253.5 755.77L1263.53 757.04L1273.56 757.04L1283.59 756.41L1293.62 750.69L1303.65 743.87L1313.68 738.63L1323.71 742.28L1333.74 745.46L1343.77 749.58L1353.8 751.65L1363.83 751.65L1373.86 752.6L1383.89 752.6L1393.92 750.69L1403.95 749.58L1413.98 751.65L1424.01 754.82L1434.04 757.04L1444.07 757.83L1454.1 758.79L1464.13 758.79L1474.16 757.83L1484.19 759.42L1494.22 761.96L1504.25 764.18L1514.28 771.95L1524.31 776.56L1534.34 776.56L1544.37 776.56L1554.4 777.51L1564.43 778.14L1574.46 778.78L1584.49 779.73L1594.52 781.32" fill="none" stroke="#c3d69b" stroke-width="1.9"/>
<rect x="1250.9" y="753.17" width="5.2" height="5.2" fill="#fff" stroke="#c3d69b" stroke-width="1"/><rect x="1260.93" y="754.44" width="5.2" height="5.2" fill="#fff" stroke="#c3d69b" stroke-width="1"/><rect x="1270.96" y="754.44" width="5.2" height="5.2" fill="#fff" stroke="#c3d69b" stroke-width="1"/><rect x="1280.99" y="753.81" width="5.2" height="5.2" fill="#fff" stroke="#c3d69b" stroke-width="1"/><rect x="1291.02" y="748.09" width="5.2" height="5.2" fill="#fff" stroke="#c3d69b" stroke-width="1"/><rect x="1301.05" y="741.27" width="5.2" height="5.2" fill="#fff" stroke="#c3d69b" stroke-width="1"/><rect x="1311.08" y="736.03" width="5.2" height="5.2" fill="#fff" stroke="#c3d69b" stroke-width="1"/><rect x="1321.11" y="739.68" width="5.2" height="5.2" fill="#fff" stroke="#c3d69b" stroke-width="1"/><rect x="1331.14" y="742.86" width="5.2" height="5.2" fill="#fff" stroke="#c3d69b" stroke-width="1"/><rect x="1341.17" y="746.98" width="5.2" height="5.2" fill="#fff" stroke="#c3d69b" stroke-width="1"/><rect x="1351.2" y="749.05" width="5.2" height="5.2" fill="#fff" stroke="#c3d69b" stroke-width="1"/><rect x="1361.23" y="749.05" width="5.2" height="5.2" fill="#fff" stroke="#c3d69b" stroke-width="1"/><rect x="1371.26" y="750" width="5.2" height="5.2" fill="#fff" stroke="#c3d69b" stroke-width="1"/><rect x="1381.29" y="750" width="5.2" height="5.2" fill="#fff" stroke="#c3d69b" stroke-width="1"/><rect x="1391.32" y="748.09" width="5.2" height="5.2" fill="#fff" stroke="#c3d69b" stroke-width="1"/><rect x="1401.35" y="746.98" width="5.2" height="5.2" fill="#fff" stroke="#c3d69b" stroke-width="1"/><rect x="1411.38" y="749.05" width="5.2" height="5.2" fill="#fff" stroke="#c3d69b" stroke-width="1"/><rect x="1421.41" y="752.22" width="5.2" height="5.2" fill="#fff" stroke="#c3d69b" stroke-width="1"/><rect x="1431.44" y="754.44" width="5.2" height="5.2" fill="#fff" stroke="#c3d69b" stroke-width="1"/><rect x="1441.47" y="755.23" width="5.2" height="5.2" fill="#fff" stroke="#c3d69b" stroke-width="1"/><rect x="1451.5" y="756.19" width="5.2" height="5.2" fill="#fff" stroke="#c3d69b" stroke-width="1"/><rect x="1461.53" y="756.19" width="5.2" height="5.2" fill="#fff" stroke="#c3d69b" stroke-width="1"/><rect x="1471.56" y="755.23" width="5.2" height="5.2" fill="#fff" stroke="#c3d69b" stroke-width="1"/><rect x="1481.59" y="756.82" width="5.2" height="5.2" fill="#fff" stroke="#c3d69b" stroke-width="1"/><rect x="1491.62" y="759.36" width="5.2" height="5.2" fill="#fff" stroke="#c3d69b" stroke-width="1"/><rect x="1501.65" y="761.58" width="5.2" height="5.2" fill="#fff" stroke="#c3d69b" stroke-width="1"/><rect x="1511.68" y="769.35" width="5.2" height="5.2" fill="#fff" stroke="#c3d69b" stroke-width="1"/><rect x="1521.71" y="773.96" width="5.2" height="5.2" fill="#fff" stroke="#c3d69b" stroke-width="1"/><rect x="1531.74" y="773.96" width="5.2" height="5.2" fill="#fff" stroke="#c3d69b" stroke-width="1"/><rect x="1541.77" y="773.96" width="5.2" height="5.2" fill="#fff" stroke="#c3d69b" stroke-width="1"/><rect x="1551.8" y="774.91" width="5.2" height="5.2" fill="#fff" stroke="#c3d69b" stroke-width="1"/><rect x="1561.83" y="775.54" width="5.2" height="5.2" fill="#fff" stroke="#c3d69b" stroke-width="1"/><rect x="1571.86" y="776.18" width="5.2" height="5.2" fill="#fff" stroke="#c3d69b" stroke-width="1"/><rect x="1581.89" y="777.13" width="5.2" height="5.2" fill="#fff" stroke="#c3d69b" stroke-width="1"/><rect x="1591.92" y="778.72" width="5.2" height="5.2" fill="#fff" stroke="#c3d69b" stroke-width="1"/>
<path d="M1253.5 750.06L1263.53 745.46L1273.56 742.28L1283.59 744.51L1293.62 753.23L1303.65 747.04L1313.68 745.46L1323.71 743.87L1333.74 748.63L1343.77 748.63L1353.8 750.69L1363.83 750.06L1373.86 748.63L1383.89 747.04L1393.92 742.28L1403.95 739.27L1413.98 734.51L1424.01 732.13L1434.04 728.32L1444.07 727.69L1454.1 727.69L1464.13 728.96L1474.16 727.69L1484.19 727.69L1494.22 725.94L1504.25 725.31L1514.28 722.77L1524.31 722.13L1534.34 721.5L1544.37 718.33L1554.4 716.58L1564.43 715.31L1574.46 714.36L1584.49 713.72L1594.52 713.72" fill="none" stroke="#e6b9b8" stroke-width="1.9"/>
<circle cx="1253.5" cy="750.06" r="2.5" fill="#fff" stroke="#e6b9b8" stroke-width="1"/><circle cx="1263.53" cy="745.46" r="2.5" fill="#fff" stroke="#e6b9b8" stroke-width="1"/><circle cx="1273.56" cy="742.28" r="2.5" fill="#fff" stroke="#e6b9b8" stroke-width="1"/><circle cx="1283.59" cy="744.51" r="2.5" fill="#fff" stroke="#e6b9b8" stroke-width="1"/><circle cx="1293.62" cy="753.23" r="2.5" fill="#fff" stroke="#e6b9b8" stroke-width="1"/><circle cx="1303.65" cy="747.04" r="2.5" fill="#fff" stroke="#e6b9b8" stroke-width="1"/><circle cx="1313.68" cy="745.46" r="2.5" fill="#fff" stroke="#e6b9b8" stroke-width="1"/><circle cx="1323.71" cy="743.87" r="2.5" fill="#fff" stroke="#e6b9b8" stroke-width="1"/><circle cx="1333.74" cy="748.63" r="2.5" fill="#fff" stroke="#e6b9b8" stroke-width="1"/><circle cx="1343.77" cy="748.63" r="2.5" fill="#fff" stroke="#e6b9b8" stroke-width="1"/><circle cx="1353.8" cy="750.69" r="2.5" fill="#fff" stroke="#e6b9b8" stroke-width="1"/><circle cx="1363.83" cy="750.06" r="2.5" fill="#fff" stroke="#e6b9b8" stroke-width="1"/><circle cx="1373.86" cy="748.63" r="2.5" fill="#fff" stroke="#e6b9b8" stroke-width="1"/><circle cx="1383.89" cy="747.04" r="2.5" fill="#fff" stroke="#e6b9b8" stroke-width="1"/><circle cx="1393.92" cy="742.28" r="2.5" fill="#fff" stroke="#e6b9b8" stroke-width="1"/><circle cx="1403.95" cy="739.27" r="2.5" fill="#fff" stroke="#e6b9b8" stroke-width="1"/><circle cx="1413.98" cy="734.51" r="2.5" fill="#fff" stroke="#e6b9b8" stroke-width="1"/><circle cx="1424.01" cy="732.13" r="2.5" fill="#fff" stroke="#e6b9b8" stroke-width="1"/><circle cx="1434.04" cy="728.32" r="2.5" fill="#fff" stroke="#e6b9b8" stroke-width="1"/><circle cx="1444.07" cy="727.69" r="2.5" fill="#fff" stroke="#e6b9b8" stroke-width="1"/><circle cx="1454.1" cy="727.69" r="2.5" fill="#fff" stroke="#e6b9b8" stroke-width="1"/><circle cx="1464.13" cy="728.96" r="2.5" fill="#fff" stroke="#e6b9b8" stroke-width="1"/><circle cx="1474.16" cy="727.69" r="2.5" fill="#fff" stroke="#e6b9b8" stroke-width="1"/><circle cx="1484.19" cy="727.69" r="2.5" fill="#fff" stroke="#e6b9b8" stroke-width="1"/><circle cx="1494.22" cy="725.94" r="2.5" fill="#fff" stroke="#e6b9b8" stroke-width="1"/><circle cx="1504.25" cy="725.31" r="2.5" fill="#fff" stroke="#e6b9b8" stroke-width="1"/><circle cx="1514.28" cy="722.77" r="2.5" fill="#fff" stroke="#e6b9b8" stroke-width="1"/><circle cx="1524.31" cy="722.13" r="2.5" fill="#fff" stroke="#e6b9b8" stroke-width="1"/><circle cx="1534.34" cy="721.5" r="2.5" fill="#fff" stroke="#e6b9b8" stroke-width="1"/><circle cx="1544.37" cy="718.33" r="2.5" fill="#fff" stroke="#e6b9b8" stroke-width="1"/><circle cx="1554.4" cy="716.58" r="2.5" fill="#fff" stroke="#e6b9b8" stroke-width="1"/><circle cx="1564.43" cy="715.31" r="2.5" fill="#fff" stroke="#e6b9b8" stroke-width="1"/><circle cx="1574.46" cy="714.36" r="2.5" fill="#fff" stroke="#e6b9b8" stroke-width="1"/><circle cx="1584.49" cy="713.72" r="2.5" fill="#fff" stroke="#e6b9b8" stroke-width="1"/><circle cx="1594.52" cy="713.72" r="2.5" fill="#fff" stroke="#e6b9b8" stroke-width="1"/>
<path d="M1253.5 748.63L1263.53 743.24L1273.56 739.27L1283.59 742.28L1293.62 746.09L1303.65 748.63L1313.68 743.87L1323.71 742.28L1333.74 745.46L1343.77 750.06L1353.8 753.23L1363.83 754.82L1373.86 756.41L1383.89 754.82L1393.92 752.6L1403.95 751.65L1413.98 753.23L1424.01 756.41L1434.04 757.83L1444.07 757.83L1454.1 758.47L1464.13 757.83L1474.16 756.41L1484.19 754.82L1494.22 753.87L1504.25 751.65L1514.28 748.63L1524.31 745.46L1534.34 742.28L1544.37 740.22L1554.4 737.05L1564.43 738.32L1574.46 738.32L1584.49 738.32L1594.52 739.27" fill="none" stroke="#9bbb59" stroke-width="1.9"/>
<path d="M1253.5 745.83L1256.3 750.63L1250.7 750.63Z" fill="#9bbb59"/><path d="M1263.53 740.44L1266.33 745.24L1260.73 745.24Z" fill="#9bbb59"/><path d="M1273.56 736.47L1276.36 741.27L1270.76 741.27Z" fill="#9bbb59"/><path d="M1283.59 739.48L1286.39 744.28L1280.79 744.28Z" fill="#9bbb59"/><path d="M1293.62 743.29L1296.42 748.09L1290.82 748.09Z" fill="#9bbb59"/><path d="M1303.65 745.83L1306.45 750.63L1300.85 750.63Z" fill="#9bbb59"/><path d="M1313.68 741.07L1316.48 745.87L1310.88 745.87Z" fill="#9bbb59"/><path d="M1323.71 739.48L1326.51 744.28L1320.91 744.28Z" fill="#9bbb59"/><path d="M1333.74 742.66L1336.54 747.46L1330.94 747.46Z" fill="#9bbb59"/><path d="M1343.77 747.26L1346.57 752.06L1340.97 752.06Z" fill="#9bbb59"/><path d="M1353.8 750.43L1356.6 755.23L1351 755.23Z" fill="#9bbb59"/><path d="M1363.83 752.02L1366.63 756.82L1361.03 756.82Z" fill="#9bbb59"/><path d="M1373.86 753.61L1376.66 758.41L1371.06 758.41Z" fill="#9bbb59"/><path d="M1383.89 752.02L1386.69 756.82L1381.09 756.82Z" fill="#9bbb59"/><path d="M1393.92 749.8L1396.72 754.6L1391.12 754.6Z" fill="#9bbb59"/><path d="M1403.95 748.85L1406.75 753.65L1401.15 753.65Z" fill="#9bbb59"/><path d="M1413.98 750.43L1416.78 755.23L1411.18 755.23Z" fill="#9bbb59"/><path d="M1424.01 753.61L1426.81 758.41L1421.21 758.41Z" fill="#9bbb59"/><path d="M1434.04 755.03L1436.84 759.83L1431.24 759.83Z" fill="#9bbb59"/><path d="M1444.07 755.03L1446.87 759.83L1441.27 759.83Z" fill="#9bbb59"/><path d="M1454.1 755.67L1456.9 760.47L1451.3 760.47Z" fill="#9bbb59"/><path d="M1464.13 755.03L1466.93 759.83L1461.33 759.83Z" fill="#9bbb59"/><path d="M1474.16 753.61L1476.96 758.41L1471.36 758.41Z" fill="#9bbb59"/><path d="M1484.19 752.02L1486.99 756.82L1481.39 756.82Z" fill="#9bbb59"/><path d="M1494.22 751.07L1497.02 755.87L1491.42 755.87Z" fill="#9bbb59"/><path d="M1504.25 748.85L1507.05 753.65L1501.45 753.65Z" fill="#9bbb59"/><path d="M1514.28 745.83L1517.08 750.63L1511.48 750.63Z" fill="#9bbb59"/><path d="M1524.31 742.66L1527.11 747.46L1521.51 747.46Z" fill="#9bbb59"/><path d="M1534.34 739.48L1537.14 744.28L1531.54 744.28Z" fill="#9bbb59"/><path d="M1544.37 737.42L1547.17 742.22L1541.57 742.22Z" fill="#9bbb59"/><path d="M1554.4 734.25L1557.2 739.05L1551.6 739.05Z" fill="#9bbb59"/><path d="M1564.43 735.52L1567.23 740.32L1561.63 740.32Z" fill="#9bbb59"/><path d="M1574.46 735.52L1577.26 740.32L1571.66 740.32Z" fill="#9bbb59"/><path d="M1584.49 735.52L1587.29 740.32L1581.69 740.32Z" fill="#9bbb59"/><path d="M1594.52 736.47L1597.32 741.27L1591.72 741.27Z" fill="#9bbb59"/>
<path d="M1253.5 701.98L1263.53 703.73L1273.56 699.76L1283.59 701.98L1293.62 701.35L1303.65 700.08L1313.68 698.81L1323.71 701.98L1333.74 708.81L1343.77 712.77L1353.8 713.72L1363.83 711.19L1373.86 712.77L1383.89 714.36L1393.92 714.36L1403.95 711.19L1413.98 708.81L1424.01 710.23L1434.04 709.76L1444.07 711.19L1454.1 712.14L1464.13 715.95L1474.16 715.95L1484.19 716.58L1494.22 712.77L1504.25 709.76L1514.28 705L1524.31 703.41L1534.34 701.35L1544.37 699.44L1554.4 698.81L1564.43 700.4L1574.46 704.05L1584.49 705.95L1594.52 709.12" fill="none" stroke="#953735" stroke-width="1.9"/>
<circle cx="1253.5" cy="701.98" r="2.3" fill="#953735"/><circle cx="1263.53" cy="703.73" r="2.3" fill="#953735"/><circle cx="1273.56" cy="699.76" r="2.3" fill="#953735"/><circle cx="1283.59" cy="701.98" r="2.3" fill="#953735"/><circle cx="1293.62" cy="701.35" r="2.3" fill="#953735"/><circle cx="1303.65" cy="700.08" r="2.3" fill="#953735"/><circle cx="1313.68" cy="698.81" r="2.3" fill="#953735"/><circle cx="1323.71" cy="701.98" r="2.3" fill="#953735"/><circle cx="1333.74" cy="708.81" r="2.3" fill="#953735"/><circle cx="1343.77" cy="712.77" r="2.3" fill="#953735"/><circle cx="1353.8" cy="713.72" r="2.3" fill="#953735"/><circle cx="1363.83" cy="711.19" r="2.3" fill="#953735"/><circle cx="1373.86" cy="712.77" r="2.3" fill="#953735"/><circle cx="1383.89" cy="714.36" r="2.3" fill="#953735"/><circle cx="1393.92" cy="714.36" r="2.3" fill="#953735"/><circle cx="1403.95" cy="711.19" r="2.3" fill="#953735"/><circle cx="1413.98" cy="708.81" r="2.3" fill="#953735"/><circle cx="1424.01" cy="710.23" r="2.3" fill="#953735"/><circle cx="1434.04" cy="709.76" r="2.3" fill="#953735"/><circle cx="1444.07" cy="711.19" r="2.3" fill="#953735"/><circle cx="1454.1" cy="712.14" r="2.3" fill="#953735"/><circle cx="1464.13" cy="715.95" r="2.3" fill="#953735"/><circle cx="1474.16" cy="715.95" r="2.3" fill="#953735"/><circle cx="1484.19" cy="716.58" r="2.3" fill="#953735"/><circle cx="1494.22" cy="712.77" r="2.3" fill="#953735"/><circle cx="1504.25" cy="709.76" r="2.3" fill="#953735"/><circle cx="1514.28" cy="705" r="2.3" fill="#953735"/><circle cx="1524.31" cy="703.41" r="2.3" fill="#953735"/><circle cx="1534.34" cy="701.35" r="2.3" fill="#953735"/><circle cx="1544.37" cy="699.44" r="2.3" fill="#953735"/><circle cx="1554.4" cy="698.81" r="2.3" fill="#953735"/><circle cx="1564.43" cy="700.4" r="2.3" fill="#953735"/><circle cx="1574.46" cy="704.05" r="2.3" fill="#953735"/><circle cx="1584.49" cy="705.95" r="2.3" fill="#953735"/><circle cx="1594.52" cy="709.12" r="2.3" fill="#953735"/>
<path d="M1253.5 749.58L1263.53 747.04L1273.56 745.46L1283.59 749.58L1293.62 751.65L1303.65 751.65L1313.68 751.65L1323.71 753.23L1333.74 756.41L1343.77 758.79L1353.8 761.01L1363.83 761.01L1373.86 761.01L1383.89 761.01L1393.92 760.05L1403.95 760.05L1413.98 760.05L1424.01 761.96L1434.04 761.01L1444.07 761.01L1454.1 761.01L1464.13 761.96L1474.16 761.01L1484.19 760.05L1494.22 758.47L1504.25 756.41L1514.28 754.82L1524.31 753.87L1534.34 752.6L1544.37 751.65L1554.4 750.69L1564.43 750.69L1574.46 750.06L1584.49 748.63L1594.52 747.04" fill="none" stroke="#ff0000" stroke-width="1.9"/>
<path d="M1253.5 746.38L1256.7 749.58L1253.5 752.78L1250.3 749.58Z" fill="#ff0000"/><path d="M1263.53 743.84L1266.73 747.04L1263.53 750.24L1260.33 747.04Z" fill="#ff0000"/><path d="M1273.56 742.26L1276.76 745.46L1273.56 748.66L1270.36 745.46Z" fill="#ff0000"/><path d="M1283.59 746.38L1286.79 749.58L1283.59 752.78L1280.39 749.58Z" fill="#ff0000"/><path d="M1293.62 748.45L1296.82 751.65L1293.62 754.85L1290.42 751.65Z" fill="#ff0000"/><path d="M1303.65 748.45L1306.85 751.65L1303.65 754.85L1300.45 751.65Z" fill="#ff0000"/><path d="M1313.68 748.45L1316.88 751.65L1313.68 754.85L1310.48 751.65Z" fill="#ff0000"/><path d="M1323.71 750.03L1326.91 753.23L1323.71 756.43L1320.51 753.23Z" fill="#ff0000"/><path d="M1333.74 753.21L1336.94 756.41L1333.74 759.61L1330.54 756.41Z" fill="#ff0000"/><path d="M1343.77 755.59L1346.97 758.79L1343.77 761.99L1340.57 758.79Z" fill="#ff0000"/><path d="M1353.8 757.81L1357 761.01L1353.8 764.21L1350.6 761.01Z" fill="#ff0000"/><path d="M1363.83 757.81L1367.03 761.01L1363.83 764.21L1360.63 761.01Z" fill="#ff0000"/><path d="M1373.86 757.81L1377.06 761.01L1373.86 764.21L1370.66 761.01Z" fill="#ff0000"/><path d="M1383.89 757.81L1387.09 761.01L1383.89 764.21L1380.69 761.01Z" fill="#ff0000"/><path d="M1393.92 756.85L1397.12 760.05L1393.92 763.25L1390.72 760.05Z" fill="#ff0000"/><path d="M1403.95 756.85L1407.15 760.05L1403.95 763.25L1400.75 760.05Z" fill="#ff0000"/><path d="M1413.98 756.85L1417.18 760.05L1413.98 763.25L1410.78 760.05Z" fill="#ff0000"/><path d="M1424.01 758.76L1427.21 761.96L1424.01 765.16L1420.81 761.96Z" fill="#ff0000"/><path d="M1434.04 757.81L1437.24 761.01L1434.04 764.21L1430.84 761.01Z" fill="#ff0000"/><path d="M1444.07 757.81L1447.27 761.01L1444.07 764.21L1440.87 761.01Z" fill="#ff0000"/><path d="M1454.1 757.81L1457.3 761.01L1454.1 764.21L1450.9 761.01Z" fill="#ff0000"/><path d="M1464.13 758.76L1467.33 761.96L1464.13 765.16L1460.93 761.96Z" fill="#ff0000"/><path d="M1474.16 757.81L1477.36 761.01L1474.16 764.21L1470.96 761.01Z" fill="#ff0000"/><path d="M1484.19 756.85L1487.39 760.05L1484.19 763.25L1480.99 760.05Z" fill="#ff0000"/><path d="M1494.22 755.27L1497.42 758.47L1494.22 761.67L1491.02 758.47Z" fill="#ff0000"/><path d="M1504.25 753.21L1507.45 756.41L1504.25 759.61L1501.05 756.41Z" fill="#ff0000"/><path d="M1514.28 751.62L1517.48 754.82L1514.28 758.02L1511.08 754.82Z" fill="#ff0000"/><path d="M1524.31 750.67L1527.51 753.87L1524.31 757.07L1521.11 753.87Z" fill="#ff0000"/><path d="M1534.34 749.4L1537.54 752.6L1534.34 755.8L1531.14 752.6Z" fill="#ff0000"/><path d="M1544.37 748.45L1547.57 751.65L1544.37 754.85L1541.17 751.65Z" fill="#ff0000"/><path d="M1554.4 747.49L1557.6 750.69L1554.4 753.89L1551.2 750.69Z" fill="#ff0000"/><path d="M1564.43 747.49L1567.63 750.69L1564.43 753.89L1561.23 750.69Z" fill="#ff0000"/><path d="M1574.46 746.86L1577.66 750.06L1574.46 753.26L1571.26 750.06Z" fill="#ff0000"/><path d="M1584.49 745.43L1587.69 748.63L1584.49 751.83L1581.29 748.63Z" fill="#ff0000"/><path d="M1594.52 743.84L1597.72 747.04L1594.52 750.24L1591.32 747.04Z" fill="#ff0000"/>
<rect x="1252.3" y="806" width="234.6" height="69.2" fill="#fff" stroke="#a0a0a0" stroke-width="1.3"/>
<path d="M1253 806V875" stroke="#e6b9b8" stroke-width="1"/>
<text x="1263.8" y="845" font-size="16.5" fill="#333" letter-spacing="-0.5">Q値 ＝</text>
<path d="M1307 835.7H1478.5" stroke="#333" stroke-width="1.4"/>
<text x="1391" y="834" font-size="13" fill="#333" text-anchor="middle">Top10%補正論文数</text>
<text x="1391" y="861" font-size="13" fill="#333" text-anchor="middle">論文数</text>
<path d="M1214 934.6H1230" stroke="#953735" stroke-width="1.8"/>
<circle cx="1222" cy="934.6" r="2" fill="#953735"/>
<text x="1231" y="938.3" font-size="9.8" fill="#333">第1G</text>
<path d="M1259 934.6H1275" stroke="#9bbb59" stroke-width="1.8"/>
<circle cx="1267" cy="934.6" r="2" fill="#9bbb59"/>
<text x="1276" y="938.3" font-size="9.8" fill="#333">第2G</text>
<path d="M1305 934.6H1321" stroke="#7f64a2" stroke-width="1.8"/>
<circle cx="1313" cy="934.6" r="2" fill="#7f64a2"/>
<text x="1322" y="938.3" font-size="9.8" fill="#333">第3G</text>
<path d="M1351 934.6H1367" stroke="#31859c" stroke-width="1.8"/>
<circle cx="1359" cy="934.6" r="2" fill="#31859c"/>
<text x="1368" y="938.3" font-size="9.8" fill="#333">第4G</text>
<path d="M1396 934.6H1412" stroke="#e6b9b8" stroke-width="1.8"/>
<circle cx="1404" cy="934.6" r="2.3" fill="#fff" stroke="#e6b9b8"/>
<text x="1413" y="938.3" font-size="9.8" fill="#333">公的機関部門</text>
<path d="M1481 934.6H1497" stroke="#c3d69b" stroke-width="1.8"/>
<rect x="1486.5" y="932" width="5" height="5" fill="#fff" stroke="#c3d69b"/>
<text x="1498" y="938.3" font-size="9.8" fill="#333">企業部門</text>
<path d="M1546 934.6H1562" stroke="#ff0000" stroke-width="1.8"/>
<circle cx="1554" cy="934.6" r="2" fill="#ff0000"/>
<text x="1563" y="938.3" font-size="9.8" fill="#333">日本全体</text>
</svg></body></html>
